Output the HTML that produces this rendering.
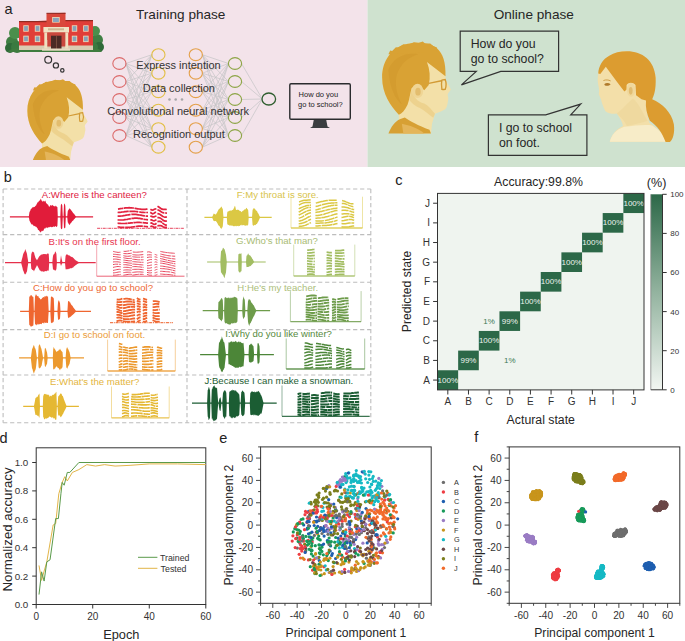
<!DOCTYPE html>
<html><head><meta charset="utf-8"><style>
html,body{margin:0;padding:0;background:#fff;width:685px;height:641px;overflow:hidden}
svg{display:block;font-family:"Liberation Sans",sans-serif}
</style></head><body>
<svg width="685" height="641" viewBox="0 0 685 641">
<rect width="685" height="641" fill="#fff"/>
<rect x="0" y="0" width="367.5" height="167" fill="#f3e3ea"/><rect x="367.5" y="0" width="317.5" height="167" fill="#cfe2cf"/><text x="4.4" y="13.7" font-family="Liberation Sans" font-size="14.5" fill="#222">a</text><text x="136" y="19.3" font-family="Liberation Sans" font-size="13.6" fill="#262626">Training phase</text><text x="493.7" y="18.7" font-family="Liberation Sans" font-size="13.6" fill="#262626">Online phase</text><circle cx="12" cy="42" r="6" fill="#3f7f43"/><circle cx="15" cy="33" r="6" fill="#4a8f4c"/><circle cx="10" cy="48" r="5" fill="#2f6a38"/><circle cx="17" cy="47" r="6" fill="#3a7a40"/><circle cx="97" cy="40" r="6" fill="#3f7f43"/><circle cx="95" cy="31" r="5" fill="#4a8f4c"/><circle cx="99" cy="47" r="5" fill="#2f6a38"/><circle cx="93" cy="47" r="5" fill="#3a7a40"/><path d="M8 52 Q10 48 20 48 L92 48 Q100 48 102 52 Z" fill="#3e7c3e"/><path d="M19 22 L47 20.5 L47 49.5 L19 49.5 Z" fill="#e03e38"/><path d="M65 20 L93 21 L93 49.5 L65 49.5 Z" fill="#e03e38"/><rect x="19" y="21" width="28" height="1.2" fill="#8f2a22"/><rect x="65" y="20" width="28" height="1.2" fill="#8f2a22"/><path d="M46.5 13.5 L65.5 12.8 L65.5 40 L46.5 40 Z" fill="#d9473b"/><rect x="46.5" y="12.8" width="19" height="1.1" fill="#8f2a22"/><rect x="52.2" y="17" width="7.5" height="5.6" fill="#f1dcb8"/><rect x="53" y="17.8" width="5.9" height="4.2" fill="#88a4bb"/><rect x="23.3" y="25.3" width="5.4" height="6.4" fill="#f1dcb8"/><rect x="24.1" y="26.1" width="3.8" height="4.8" fill="#86a2b8"/><rect x="23.3" y="35.7" width="5.4" height="6.4" fill="#f1dcb8"/><rect x="24.1" y="36.5" width="3.8" height="4.8" fill="#86a2b8"/><rect x="34.8" y="25.3" width="5.4" height="6.4" fill="#f1dcb8"/><rect x="35.599999999999994" y="26.1" width="3.8" height="4.8" fill="#86a2b8"/><rect x="34.8" y="35.7" width="5.4" height="6.4" fill="#f1dcb8"/><rect x="35.599999999999994" y="36.5" width="3.8" height="4.8" fill="#86a2b8"/><rect x="71.8" y="25.3" width="5.4" height="6.4" fill="#f1dcb8"/><rect x="72.6" y="26.1" width="3.8" height="4.8" fill="#86a2b8"/><rect x="71.8" y="35.7" width="5.4" height="6.4" fill="#f1dcb8"/><rect x="72.6" y="36.5" width="3.8" height="4.8" fill="#86a2b8"/><rect x="83.2" y="25.3" width="5.4" height="6.4" fill="#f1dcb8"/><rect x="84.0" y="26.1" width="3.8" height="4.8" fill="#86a2b8"/><rect x="83.2" y="35.7" width="5.4" height="6.4" fill="#f1dcb8"/><rect x="84.0" y="36.5" width="3.8" height="4.8" fill="#86a2b8"/><rect x="19" y="45.5" width="74" height="4.5" fill="#d9cbb2"/><rect x="43.4" y="27" width="25.6" height="5.5" fill="#f0e2c4"/><rect x="48" y="28.3" width="16" height="2" fill="#b89a70" opacity="0.6"/><rect x="44.3" y="32.5" width="3" height="16" fill="#efe0c0"/><rect x="65.2" y="32.5" width="3" height="16" fill="#efe0c0"/><rect x="47.3" y="32.5" width="17.9" height="14" fill="#c9483d"/><rect x="51" y="35.7" width="10.5" height="13.3" fill="#4b2a25"/><rect x="56" y="35.7" width="0.7" height="13.3" fill="#8a5a48"/><rect x="42" y="48.5" width="28" height="2.2" fill="#e8dcc4"/><circle cx="48.2" cy="59.8" r="3.4" fill="none" stroke="#333" stroke-width="1.2"/><circle cx="55.9" cy="65.4" r="2.6" fill="none" stroke="#333" stroke-width="1.2"/><circle cx="62.3" cy="70.4" r="1.7" fill="none" stroke="#333" stroke-width="1.2"/><g transform="translate(25,78) scale(0.13106)"><path fill="#f3e0a8" d="M130 500 C75 440 18 360 18 250 C18 140 80 55 170 30 C240 10 330 12 385 55 C425 90 440 150 440 230 L445 270 C455 290 470 310 478 332 C470 345 458 352 456 368 C462 385 462 400 458 410 C455 430 452 450 440 462 C420 476 395 482 372 492 L352 560 L345 625 L130 625 Z"/><path fill="#ebcd85" opacity="0.75" d="M215 330 C230 380 250 410 300 425 C330 440 350 470 372 492 L360 520 C330 500 300 470 270 455 C240 440 215 420 200 400 Z"/><path fill="#d9a234" d="M130 500 C75 440 18 360 18 250 C18 140 80 55 170 30 C240 10 330 12 385 55 C425 90 445 150 442 242 L318 147 C338 200 342 250 330 300 L300 335 C275 305 235 300 215 322 C205 360 200 400 188 432 C170 470 150 492 130 500 Z"/><path fill="#cf9529" opacity="0.5" d="M60 200 C90 120 170 80 260 95 C200 110 150 150 120 220 C100 280 110 360 150 430 C110 400 70 330 60 200 Z"/><path fill="#d9a234" d="M60 95 L72 70 L85 72 L110 48 L128 50 L160 28 L190 32 L230 14 L262 20 L290 10 L305 22 L340 22 L360 40 L385 50 L380 80 L300 80 L150 90 Z"/><ellipse cx="255" cy="340" rx="38" ry="48" fill="#efd595"/><ellipse cx="258" cy="345" rx="18" ry="26" fill="#e3bd6e"/><path fill="#d7a034" d="M60 625 C80 580 100 545 140 528 L170 518 C200 540 260 572 335 600 L345 625 Z"/><path fill="#e4b55a" d="M150 560 C200 570 260 590 300 625 L160 625 Z"/><path fill="none" stroke="#d29a35" stroke-width="9" d="M330 290 L415 272 M415 268 L440 264 C448 285 448 310 440 330 C430 332 425 330 418 330 C414 305 414 285 418 268"/></g><g transform="translate(379.436,40.12) scale(0.14941)"><path fill="#f3e0a8" d="M130 500 C75 440 18 360 18 250 C18 140 80 55 170 30 C240 10 330 12 385 55 C425 90 440 150 440 230 L445 270 C455 290 470 310 478 332 C470 345 458 352 456 368 C462 385 462 400 458 410 C455 430 452 450 440 462 C420 476 395 482 372 492 L352 560 L345 625 L130 625 Z"/><path fill="#ebcd85" opacity="0.75" d="M215 330 C230 380 250 410 300 425 C330 440 350 470 372 492 L360 520 C330 500 300 470 270 455 C240 440 215 420 200 400 Z"/><path fill="#d9a234" d="M130 500 C75 440 18 360 18 250 C18 140 80 55 170 30 C240 10 330 12 385 55 C425 90 445 150 442 242 L318 147 C338 200 342 250 330 300 L300 335 C275 305 235 300 215 322 C205 360 200 400 188 432 C170 470 150 492 130 500 Z"/><path fill="#cf9529" opacity="0.5" d="M60 200 C90 120 170 80 260 95 C200 110 150 150 120 220 C100 280 110 360 150 430 C110 400 70 330 60 200 Z"/><path fill="#d9a234" d="M60 95 L72 70 L85 72 L110 48 L128 50 L160 28 L190 32 L230 14 L262 20 L290 10 L305 22 L340 22 L360 40 L385 50 L380 80 L300 80 L150 90 Z"/><ellipse cx="255" cy="340" rx="38" ry="48" fill="#efd595"/><ellipse cx="258" cy="345" rx="18" ry="26" fill="#e3bd6e"/><path fill="#d7a034" d="M60 625 C80 580 100 545 140 528 L170 518 C200 540 260 572 335 600 L345 625 Z"/><path fill="#e4b55a" d="M150 560 C200 570 260 590 300 625 L160 625 Z"/><path fill="none" stroke="#d29a35" stroke-width="9" d="M330 290 L415 272 M415 268 L440 264 C448 285 448 310 440 330 C430 332 425 330 418 330 C414 305 414 285 418 268"/></g><g transform="translate(590,40) scale(0.17182)"><path fill="#f3dfa9" d="M48 195 C44 215 44 240 47 255 C52 280 56 300 51 315 C58 335 66 345 67 358 C72 375 80 395 90 415 C110 430 140 432 156 428 C175 455 190 480 192 500 C150 522 125 552 115 592 L470 592 C440 560 400 520 345 482 C332 440 326 400 332 360 L385 220 C360 120 300 70 210 66 C130 66 70 110 48 195 Z"/><path fill="#ebd293" d="M156 428 C190 400 225 360 250 340 C285 370 305 420 335 470 C300 482 260 492 215 500 C200 470 180 450 156 428 Z" opacity="0.45"/><path fill="#f7ecc8" d="M115 592 C125 552 150 522 200 505 C260 498 320 490 362 497 C400 522 440 560 470 592 Z"/><path fill="#dc9c30" d="M48 195 C50 150 75 110 112 91 C140 75 175 66 215 66 C305 66 375 120 382 220 C385 290 372 325 362 345 C420 370 475 420 488 490 C495 540 482 580 465 594 L440 594 C420 540 392 500 348 470 C330 430 322 390 326 352 L300 345 L268 322 L265 262 C250 244 225 244 213 262 L212 290 L200 300 L162 250 L92 155 L60 198 Z"/><ellipse cx="239" cy="290" rx="25" ry="40" fill="#f0d89c"/><ellipse cx="237" cy="296" rx="11" ry="22" fill="#e1bd72"/><path d="M84 256 C95 248 110 250 120 258 C110 268 95 270 84 262 Z" fill="#b07a2a"/><path d="M78 236 C92 230 108 232 120 238" stroke="#c9953a" stroke-width="5" fill="none"/></g><path d="M125.9 63.5L151.9 54.7M125.9 63.5L151.9 73.2M125.9 63.5L151.9 91.7M125.9 63.5L151.9 110.2M125.9 63.5L151.9 128.7M125.9 63.5L151.9 147.2M125.9 81.5L151.9 54.7M125.9 81.5L151.9 73.2M125.9 81.5L151.9 91.7M125.9 81.5L151.9 110.2M125.9 81.5L151.9 128.7M125.9 81.5L151.9 147.2M125.9 99.5L151.9 54.7M125.9 99.5L151.9 73.2M125.9 99.5L151.9 91.7M125.9 99.5L151.9 110.2M125.9 99.5L151.9 128.7M125.9 99.5L151.9 147.2M125.9 117.5L151.9 54.7M125.9 117.5L151.9 73.2M125.9 117.5L151.9 91.7M125.9 117.5L151.9 110.2M125.9 117.5L151.9 128.7M125.9 117.5L151.9 147.2M125.9 135.5L151.9 54.7M125.9 135.5L151.9 73.2M125.9 135.5L151.9 91.7M125.9 135.5L151.9 110.2M125.9 135.5L151.9 128.7M125.9 135.5L151.9 147.2M202.3 54.7L228.5 63.5M202.3 54.7L228.5 81.5M202.3 54.7L228.5 99.5M202.3 54.7L228.5 117.5M202.3 54.7L228.5 135.5M202.3 73.2L228.5 63.5M202.3 73.2L228.5 81.5M202.3 73.2L228.5 99.5M202.3 73.2L228.5 117.5M202.3 73.2L228.5 135.5M202.3 91.7L228.5 63.5M202.3 91.7L228.5 81.5M202.3 91.7L228.5 99.5M202.3 91.7L228.5 117.5M202.3 91.7L228.5 135.5M202.3 110.2L228.5 63.5M202.3 110.2L228.5 81.5M202.3 110.2L228.5 99.5M202.3 110.2L228.5 117.5M202.3 110.2L228.5 135.5M202.3 128.7L228.5 63.5M202.3 128.7L228.5 81.5M202.3 128.7L228.5 99.5M202.3 128.7L228.5 117.5M202.3 128.7L228.5 135.5M202.3 147.2L228.5 63.5M202.3 147.2L228.5 81.5M202.3 147.2L228.5 99.5M202.3 147.2L228.5 117.5M202.3 147.2L228.5 135.5M241.5 63.5L262.3 99M241.5 81.5L262.3 99M241.5 99.5L262.3 99M241.5 117.5L262.3 99M241.5 135.5L262.3 99" stroke="#c4c4c6" stroke-width="0.7" fill="none"/><ellipse cx="119.4" cy="63.5" rx="6.6" ry="5.9" fill="none" stroke="#dc6b6b" stroke-width="1.1"/><ellipse cx="235" cy="63.5" rx="6.6" ry="5.9" fill="none" stroke="#8da545" stroke-width="1.1"/><ellipse cx="119.4" cy="81.5" rx="6.6" ry="5.9" fill="none" stroke="#dc6b6b" stroke-width="1.1"/><ellipse cx="235" cy="81.5" rx="6.6" ry="5.9" fill="none" stroke="#8da545" stroke-width="1.1"/><ellipse cx="119.4" cy="99.5" rx="6.6" ry="5.9" fill="none" stroke="#dc6b6b" stroke-width="1.1"/><ellipse cx="235" cy="99.5" rx="6.6" ry="5.9" fill="none" stroke="#8da545" stroke-width="1.1"/><ellipse cx="119.4" cy="117.5" rx="6.6" ry="5.9" fill="none" stroke="#dc6b6b" stroke-width="1.1"/><ellipse cx="235" cy="117.5" rx="6.6" ry="5.9" fill="none" stroke="#8da545" stroke-width="1.1"/><ellipse cx="119.4" cy="135.5" rx="6.6" ry="5.9" fill="none" stroke="#dc6b6b" stroke-width="1.1"/><ellipse cx="235" cy="135.5" rx="6.6" ry="5.9" fill="none" stroke="#8da545" stroke-width="1.1"/><ellipse cx="158.4" cy="54.7" rx="6.6" ry="5.9" fill="none" stroke="#e2bf46" stroke-width="1.1"/><ellipse cx="195.8" cy="54.7" rx="6.6" ry="5.9" fill="none" stroke="#e4a04a" stroke-width="1.1"/><ellipse cx="158.4" cy="73.2" rx="6.6" ry="5.9" fill="none" stroke="#e2bf46" stroke-width="1.1"/><ellipse cx="195.8" cy="73.2" rx="6.6" ry="5.9" fill="none" stroke="#e4a04a" stroke-width="1.1"/><ellipse cx="158.4" cy="91.7" rx="6.6" ry="5.9" fill="none" stroke="#e2bf46" stroke-width="1.1"/><ellipse cx="195.8" cy="91.7" rx="6.6" ry="5.9" fill="none" stroke="#e4a04a" stroke-width="1.1"/><ellipse cx="158.4" cy="110.2" rx="6.6" ry="5.9" fill="none" stroke="#e2bf46" stroke-width="1.1"/><ellipse cx="195.8" cy="110.2" rx="6.6" ry="5.9" fill="none" stroke="#e4a04a" stroke-width="1.1"/><ellipse cx="158.4" cy="128.7" rx="6.6" ry="5.9" fill="none" stroke="#e2bf46" stroke-width="1.1"/><ellipse cx="195.8" cy="128.7" rx="6.6" ry="5.9" fill="none" stroke="#e4a04a" stroke-width="1.1"/><ellipse cx="158.4" cy="147.2" rx="6.6" ry="5.9" fill="none" stroke="#e2bf46" stroke-width="1.1"/><ellipse cx="195.8" cy="147.2" rx="6.6" ry="5.9" fill="none" stroke="#e4a04a" stroke-width="1.1"/><ellipse cx="268.8" cy="99" rx="6.8" ry="6" fill="none" stroke="#2f5e2f" stroke-width="1.3"/><circle cx="169.5" cy="99.5" r="1.3" fill="#a6a6a8"/><circle cx="175.7" cy="99.5" r="1.3" fill="#a6a6a8"/><circle cx="182" cy="99.5" r="1.3" fill="#a6a6a8"/><text x="178.5" y="69.2" font-family="Liberation Sans" font-size="11" fill="#333" text-anchor="middle">Express intention</text><text x="178.9" y="92" font-family="Liberation Sans" font-size="11" fill="#333" text-anchor="middle">Data collection</text><text x="178.2" y="115" font-family="Liberation Sans" font-size="11" fill="#333" text-anchor="middle">Convolutional neural network</text><text x="178.9" y="137.6" font-family="Liberation Sans" font-size="11" fill="#333" text-anchor="middle">Recognition output</text><path d="M313.9 119.3 L326.1 119.3 L327.5 126.5 L330 128 L310 128 L312.5 126.5 Z" fill="#3a3d40"/><rect x="289.8" y="83.7" width="60.5" height="35.5" rx="1.2" fill="none" stroke="#2a2c2e" stroke-width="1.4"/><text x="298.6" y="97" font-family="Liberation Sans" font-size="7.5" fill="#222">How do you</text><text x="298.1" y="106.8" font-family="Liberation Sans" font-size="7.5" fill="#222">go to school?</text><path d="M460.2 31.1 L558.6 31.1 L558.6 71.4 L500.8 71.4 L461.4 84.9 L476.3 71.4 L460.2 71.4 Z" fill="none" stroke="#333" stroke-width="1.2" stroke-linejoin="miter"/><path d="M488.4 114.8 L545.7 114.8 L580.7 104.1 L570.7 114.8 L586.9 114.8 L586.9 155.4 L488.4 155.4 Z" fill="none" stroke="#333" stroke-width="1.2"/><text x="470.7" y="47.8" font-family="Liberation Sans" font-size="12.3" fill="#262626">How do you</text><text x="470.7" y="62.7" font-family="Liberation Sans" font-size="12.3" fill="#262626">go to school?</text><text x="498.9" y="132.3" font-family="Liberation Sans" font-size="12.3" fill="#262626">I go to school</text><text x="498.9" y="147" font-family="Liberation Sans" font-size="12.3" fill="#262626">on foot.</text><text x="3.7" y="182" font-family="Liberation Sans" font-size="14.5" fill="#222">b</text><path d="M3.1 189H370.8" stroke="#bdbdbd" stroke-width="1.1" stroke-dasharray="4.2 2.8" fill="none"/><path d="M3.1 234.6H370.8" stroke="#bdbdbd" stroke-width="1.1" stroke-dasharray="4.2 2.8" fill="none"/><path d="M3.1 282.3H370.8" stroke="#bdbdbd" stroke-width="1.1" stroke-dasharray="4.2 2.8" fill="none"/><path d="M3.1 329.6H370.8" stroke="#bdbdbd" stroke-width="1.1" stroke-dasharray="4.2 2.8" fill="none"/><path d="M3.1 375H370.8" stroke="#bdbdbd" stroke-width="1.1" stroke-dasharray="4.2 2.8" fill="none"/><path d="M3.1 422.8H370.8" stroke="#bdbdbd" stroke-width="1.1" stroke-dasharray="4.2 2.8" fill="none"/><path d="M3.1 189V422.8" stroke="#bdbdbd" stroke-width="1.1" stroke-dasharray="4.2 2.8" fill="none"/><path d="M187 189V422.8" stroke="#bdbdbd" stroke-width="1.1" stroke-dasharray="4.2 2.8" fill="none"/><path d="M370.8 189V422.8" stroke="#bdbdbd" stroke-width="1.1" stroke-dasharray="4.2 2.8" fill="none"/><text x="94.3" y="198" font-family="Liberation Sans" font-size="9.6" fill="#e0213f" text-anchor="middle">A:Where is the canteen?</text><path d="M9.9 216.8H93.1" stroke="#e11c3a" stroke-width="1.2"/><polygon points="28.80,216.80 29.15,214.37 29.50,211.88 29.98,211.33 30.45,210.35 30.92,208.74 31.40,208.64 31.84,208.36 32.28,207.27 32.72,207.40 33.16,207.45 33.60,207.07 34.04,206.67 34.48,206.91 34.92,206.86 35.36,205.83 35.80,205.75 36.22,205.17 36.65,203.94 37.08,203.54 37.50,202.04 37.94,202.84 38.39,201.73 38.83,201.35 39.27,201.09 39.71,200.13 40.16,200.33 40.60,198.67 41.04,198.91 41.48,200.76 41.92,200.45 42.36,201.17 42.80,201.89 43.23,200.38 43.67,201.24 44.10,201.77 44.53,200.79 44.97,201.67 45.40,200.37 45.84,202.28 46.27,203.23 46.71,203.57 47.15,203.98 47.59,204.45 48.02,204.50 48.46,205.46 48.90,206.57 49.33,206.77 49.77,206.38 50.20,205.07 50.63,205.55 51.07,205.02 51.50,205.68 51.91,205.81 52.32,204.79 52.72,205.25 53.13,205.72 53.54,205.81 53.95,206.21 54.35,206.20 54.76,206.49 55.17,205.54 55.58,206.12 55.98,206.64 56.39,205.98 56.80,206.75 57.10,207.16 57.40,206.77 57.60,211.61 57.80,216.80 57.80,216.80 57.60,221.62 57.40,225.63 57.10,226.44 56.80,226.77 56.39,226.91 55.98,226.52 55.58,226.05 55.17,226.15 54.76,227.15 54.35,226.61 53.95,226.58 53.54,226.43 53.13,226.77 52.72,227.19 52.32,226.87 51.91,227.32 51.50,227.29 51.07,226.78 50.63,226.72 50.20,226.99 49.77,227.50 49.33,226.86 48.90,227.42 48.46,227.08 48.02,227.78 47.59,228.17 47.15,227.21 46.71,227.68 46.27,227.62 45.84,227.57 45.40,228.80 44.97,228.09 44.53,228.77 44.10,228.71 43.67,230.22 43.23,230.87 42.80,231.14 42.36,230.85 41.92,230.62 41.48,231.73 41.04,231.17 40.60,232.86 40.16,232.08 39.71,231.42 39.27,230.87 38.83,230.19 38.39,229.99 37.94,229.64 37.50,228.28 37.08,228.06 36.65,227.17 36.22,226.70 35.80,227.11 35.36,226.33 34.92,226.20 34.48,225.83 34.04,226.19 33.60,225.94 33.16,224.94 32.72,224.73 32.28,224.37 31.84,224.68 31.40,224.08 30.92,223.50 30.45,222.43 29.98,221.52 29.50,220.85 29.15,218.85 28.80,216.80" fill="#e11c3a"/><polygon points="60.30,216.80 60.55,210.85 60.80,205.50 61.15,204.06 61.50,203.82 61.90,204.58 62.30,205.53 62.55,211.49 62.80,216.80 62.80,216.80 62.55,222.29 62.30,228.27 61.90,228.94 61.50,229.13 61.15,228.79 60.80,227.99 60.55,222.22 60.30,216.80" fill="#e11c3a"/><polygon points="63.50,216.80 63.75,210.40 64.00,204.66 64.35,203.49 64.70,203.68 65.00,204.63 65.30,205.65 65.55,211.32 65.80,216.80 65.80,216.80 65.55,222.40 65.30,228.01 65.00,227.62 64.70,227.88 64.35,228.40 64.00,227.90 63.75,222.20 63.50,216.80" fill="#e11c3a"/><polygon points="67.20,216.80 67.50,213.78 67.80,211.07 68.22,210.13 68.65,209.70 69.08,208.65 69.50,208.32 69.92,209.07 70.33,208.94 70.75,209.66 71.17,210.17 71.58,210.85 72.00,211.26 72.42,211.97 72.83,212.41 73.25,213.15 73.67,213.44 74.08,213.86 74.50,214.42 75.03,215.19 75.57,216.02 76.10,216.80 76.10,216.80 75.57,217.58 75.03,218.28 74.50,218.91 74.08,219.29 73.67,219.75 73.25,220.44 72.83,220.72 72.42,220.95 72.00,221.56 71.58,222.15 71.17,222.64 70.75,223.37 70.33,223.55 69.92,224.74 69.50,224.93 69.08,224.35 68.65,223.88 68.22,222.87 67.80,222.48 67.50,219.81 67.20,216.80" fill="#e11c3a"/><path d="M97.1 228.3H183.8" stroke="#e2223f" stroke-width="1.0" fill="none" opacity="0.85" stroke-dasharray="3 0.8 1 0.8"/><path d="M117.6 226.9L118.8 227.0L120.0 227.2L121.2 227.3L122.5 227.3L123.7 227.3L124.9 227.3L126.1 227.3L127.3 227.3L128.5 227.3L129.8 227.3L131.0 227.2L132.2 227.0L133.4 226.8L134.6 226.7L135.8 226.5L137.1 226.3L138.3 226.2L139.5 226.2L140.7 226.1L141.9 226.2L143.1 226.2L144.4 226.3L145.6 226.5L146.8 226.7L148.0 226.9" stroke="#e2223f" stroke-width="1.7" fill="none" stroke-dasharray="6.9 0.7 9.9 0.5 7.3 0.8 11.9 0.6 8.6 0.7"/><path d="M117.6 223.2L118.8 223.3L120.0 223.4L121.2 223.5L122.5 223.5L123.7 223.5L124.9 223.5L126.1 223.4L127.3 223.3L128.5 223.2L129.8 223.1L131.0 222.9L132.2 222.8L133.4 222.7L134.6 222.6L135.8 222.5L137.1 222.4L138.3 222.4L139.5 222.4L140.7 222.5L141.9 222.6L143.1 222.7L144.4 222.8L145.6 222.9L146.8 223.1L148.0 223.2" stroke="#e2223f" stroke-width="1.7" fill="none" stroke-dasharray="9.6 0.3 5.5 0.4 8.5 0.7 10.5 0.3 5.4 0.6"/><path d="M117.6 219.9L118.8 220.0L120.0 220.0L121.2 220.0L122.5 220.0L123.7 219.9L124.9 219.7L126.1 219.5L127.3 219.3L128.5 219.0L129.8 218.8L131.0 218.6L132.2 218.4L133.4 218.3L134.6 218.2L135.8 218.1L137.1 218.2L138.3 218.3L139.5 218.4L140.7 218.6L141.9 218.8L143.1 219.0L144.4 219.3L145.6 219.5L146.8 219.7L148.0 219.9" stroke="#e2223f" stroke-width="1.7" fill="none" stroke-dasharray="13.4 0.5 11.7 0.5 6.4 0.6 5.8 0.7"/><path d="M117.6 216.2L118.8 216.2L120.0 216.2L121.2 216.0L122.5 215.9L123.7 215.7L124.9 215.5L126.1 215.2L127.3 215.0L128.5 214.8L129.8 214.6L131.0 214.4L132.2 214.3L133.4 214.3L134.6 214.3L135.8 214.4L137.1 214.6L138.3 214.8L139.5 215.0L140.7 215.2L141.9 215.4L143.1 215.7L144.4 215.9L145.6 216.0L146.8 216.2L148.0 216.2" stroke="#e2223f" stroke-width="1.7" fill="none" stroke-dasharray="13.1 0.8 13.7 0.7 11.1 0.5"/><path d="M117.6 212.5L118.8 212.4L120.0 212.3L121.2 212.2L122.5 212.0L123.7 211.9L124.9 211.7L126.1 211.6L127.3 211.4L128.5 211.3L129.8 211.3L131.0 211.3L132.2 211.3L133.4 211.3L134.6 211.4L135.8 211.5L137.1 211.7L138.3 211.9L139.5 212.0L140.7 212.2L141.9 212.3L143.1 212.4L144.4 212.5L145.6 212.5L146.8 212.5L148.0 212.5" stroke="#e2223f" stroke-width="1.7" fill="none" stroke-dasharray="11.2 0.6 9.0 0.9 6.5 0.6 6.4 0.9 9.4 0.5"/><path d="M118.0 209.1L119.2 208.9L120.4 208.7L121.7 208.5L122.9 208.3L124.2 208.1L125.4 207.9L126.6 207.8L127.9 207.8L129.1 207.7L130.4 207.8L131.6 207.9L132.9 208.0L134.1 208.2L135.3 208.4L136.6 208.6L137.8 208.8L139.1 209.0L140.3 209.1L141.6 209.3L142.8 209.3L144.0 209.3L145.3 209.3L146.5 209.2L147.8 209.1" stroke="#e2223f" stroke-width="1.7" fill="none" stroke-dasharray="5.3 0.5 10.2 0.6 13.1 0.8 13.4 0.8"/><path d="M150.3 226.8L151.5 226.2L152.8 226.6L154.0 227.3L155.3 227.3L156.5 226.8" stroke="#e2223f" stroke-width="1.7" fill="none" stroke-dasharray="12.2 0.4"/><path d="M150.3 223.2L151.5 222.9L152.8 223.7L154.0 224.3L155.3 224.1L156.5 223.2" stroke="#e2223f" stroke-width="1.7" fill="none" stroke-dasharray="8.3 0.7"/><path d="M150.3 219.8L151.5 219.9L152.8 220.5L154.0 220.8L155.3 220.3L156.5 219.8" stroke="#e2223f" stroke-width="1.7" fill="none" stroke-dasharray="12.8 0.5"/><path d="M150.3 216.0L151.5 216.4L152.8 216.9L154.0 216.9L155.3 216.3L156.5 216.0" stroke="#e2223f" stroke-width="1.7" fill="none" stroke-dasharray="7.0 0.3 6.1 0.5"/><path d="M150.3 212.3L151.5 213.2L152.8 213.8L154.0 213.3L155.3 212.4L156.5 212.3" stroke="#e2223f" stroke-width="1.7" fill="none" stroke-dasharray="6.7 0.6 5.0 0.5"/><path d="M150.4 209.2L151.6 210.0L152.8 210.1L154.0 209.4L155.2 208.8L156.4 209.2" stroke="#e2223f" stroke-width="1.7" fill="none" stroke-dasharray="10.6 0.7"/><path d="M157.4 225.9L158.8 225.7L160.1 225.5L161.5 225.8L162.9 226.8L164.3 227.3L165.6 227.3L167.0 227.3" stroke="#e2223f" stroke-width="1.7" fill="none" stroke-dasharray="13.0 0.7"/><path d="M157.4 221.7L158.8 221.4L160.1 221.4L161.5 222.0L162.9 223.3L164.3 224.4L165.6 225.1L167.0 225.0" stroke="#e2223f" stroke-width="1.7" fill="none" stroke-dasharray="5.1 0.4 8.7 0.7"/><path d="M157.4 217.7L158.8 217.6L160.1 218.0L161.5 218.9L162.9 220.1L164.3 220.9L165.6 221.2L167.0 221.0" stroke="#e2223f" stroke-width="1.7" fill="none" stroke-dasharray="11.1 0.3 7.2 0.7"/><path d="M157.4 213.6L158.8 213.8L160.1 214.5L161.5 215.5L162.9 216.5L164.3 217.1L165.6 217.1L167.0 217.0" stroke="#e2223f" stroke-width="1.7" fill="none" stroke-dasharray="7.5 0.3 7.2 0.3"/><path d="M157.4 209.7L158.8 210.2L160.1 211.0L161.5 212.0L162.9 212.7L164.3 213.0L165.6 213.0L167.0 213.1" stroke="#e2223f" stroke-width="1.7" fill="none" stroke-dasharray="7.8 0.7 7.8 0.5"/><path d="M157.5 206.2L158.8 207.0L160.2 208.0L161.5 208.9L162.8 209.4L164.2 209.4L165.5 209.3L166.8 209.5" stroke="#e2223f" stroke-width="1.7" fill="none" stroke-dasharray="13.2 0.5"/><text x="94.6" y="245" font-family="Liberation Sans" font-size="9.6" fill="#e8364f" text-anchor="middle">B:It&#39;s on the first floor.</text><path d="M5 262.6H95.7" stroke="#e5304b" stroke-width="1.2"/><polygon points="21.10,262.60 21.58,260.59 22.05,258.85 22.52,256.92 23.00,254.71 23.44,253.51 23.88,252.59 24.32,252.05 24.76,250.99 25.20,249.04 25.65,250.26 26.10,251.16 26.55,252.46 27.00,253.98 27.43,257.05 27.87,259.56 28.30,262.60 28.30,262.60 27.87,265.42 27.43,267.99 27.00,271.40 26.55,271.89 26.10,273.44 25.65,273.66 25.20,274.58 24.76,274.27 24.32,273.41 23.88,272.18 23.44,271.00 23.00,270.16 22.52,268.11 22.05,266.29 21.58,264.51 21.10,262.60" fill="#e5304b"/><polygon points="30.80,262.60 31.05,258.05 31.30,254.26 31.85,252.54 32.40,251.30 32.80,252.27 33.20,251.76 33.60,252.47 34.00,252.35 34.50,254.87 35.00,256.24 35.50,258.04 36.00,258.66 36.50,259.46 37.00,260.27 37.42,259.61 37.83,258.82 38.25,258.16 38.67,257.13 39.08,256.67 39.50,255.94 39.92,255.86 40.34,255.60 40.76,254.73 41.18,255.04 41.60,254.26 42.01,254.46 42.42,254.04 42.83,254.78 43.24,253.97 43.65,254.09 44.06,254.23 44.47,254.04 44.88,253.98 45.29,254.20 45.70,253.96 46.13,254.30 46.56,254.45 46.99,253.70 47.41,253.84 47.84,253.31 48.27,253.92 48.70,253.25 48.95,257.84 49.20,262.60 49.20,262.60 48.95,266.79 48.70,271.05 48.27,270.46 47.84,270.30 47.41,270.79 46.99,270.64 46.56,271.25 46.13,271.21 45.70,271.12 45.29,270.90 44.88,271.65 44.47,270.99 44.06,271.82 43.65,271.64 43.24,271.61 42.83,271.91 42.42,271.11 42.01,271.12 41.60,271.18 41.18,271.73 40.76,270.89 40.34,270.58 39.92,270.48 39.50,269.93 39.08,269.09 38.67,268.21 38.25,267.43 37.83,266.52 37.42,265.89 37.00,265.00 36.50,266.17 36.00,267.18 35.50,268.04 35.00,269.17 34.50,269.97 34.00,271.54 33.60,270.38 33.20,270.26 32.80,269.99 32.40,269.97 31.85,269.36 31.30,268.82 31.05,265.71 30.80,262.60" fill="#e5304b"/><polygon points="52.30,262.60 52.65,259.10 53.00,256.05 53.48,254.60 53.96,254.19 54.44,253.63 54.92,252.32 55.40,251.34 55.90,252.46 56.40,253.72 56.65,258.49 56.90,262.60 56.90,262.60 56.65,265.89 56.40,268.94 55.90,270.16 55.40,270.53 54.92,270.65 54.44,269.67 53.96,269.94 53.48,269.39 53.00,269.44 52.65,265.90 52.30,262.60" fill="#e5304b"/><polygon points="60.00,262.60 60.50,259.06 61.00,255.23 61.50,258.17 62.00,260.38 62.50,262.60 62.50,262.60 62.00,263.74 61.50,264.79 61.00,265.96 60.50,264.36 60.00,262.60" fill="#e5304b"/><polygon points="65.00,262.60 65.30,259.21 65.60,256.10 66.10,254.67 66.60,254.31 67.00,254.71 67.40,254.69 67.80,254.37 68.20,255.30 68.60,255.41 69.00,255.08 69.40,255.79 69.80,255.62 70.20,256.47 70.60,256.05 71.00,256.75 71.40,257.01 71.80,256.85 72.20,256.93 72.62,257.32 73.04,257.82 73.47,258.11 73.89,258.45 74.31,259.01 74.73,259.53 75.16,259.64 75.58,260.15 76.00,260.52 76.42,260.74 76.85,261.09 77.28,261.35 77.70,261.57 78.12,261.79 78.55,262.05 78.98,262.32 79.40,262.60 79.40,262.60 78.98,262.89 78.55,263.18 78.12,263.50 77.70,263.84 77.28,264.11 76.85,264.36 76.42,264.65 76.00,264.91 75.58,265.26 75.16,265.60 74.73,265.92 74.31,266.19 73.89,266.53 73.47,267.29 73.04,267.45 72.62,267.69 72.20,267.85 71.80,268.31 71.40,268.18 71.00,268.26 70.60,268.33 70.20,268.30 69.80,268.67 69.40,268.87 69.00,268.56 68.60,269.01 68.20,269.37 67.80,269.02 67.40,269.57 67.00,269.12 66.60,269.24 66.10,269.40 65.60,269.26 65.30,265.89 65.00,262.60" fill="#e5304b"/><path d="M96.7 276.2H184.5" stroke="#e8485f" stroke-width="1.0" fill="none" opacity="0.85"/><path d="M96.7 276.2V244.5" stroke="#e8485f" stroke-width="0.8" fill="none" opacity="0.6"/><path d="M113.0 275.2L114.3 275.2L115.6 275.2L116.8 275.0L118.1 274.8L119.4 274.6L120.7 274.4" stroke="#e8485f" stroke-width="1.0" fill="none" stroke-dasharray="6.8 0.3 5.6 0.6"/><path d="M113.0 272.9L114.3 272.8L115.6 272.6L116.8 272.4L118.1 272.1L119.4 271.9L120.7 271.9" stroke="#e8485f" stroke-width="1.0" fill="none" stroke-dasharray="11.2 0.6"/><path d="M113.0 270.4L114.3 270.2L115.6 269.9L116.8 269.6L118.1 269.4L119.4 269.3L120.7 269.4" stroke="#e8485f" stroke-width="1.0" fill="none" stroke-dasharray="10.1 0.6"/><path d="M113.0 267.4L114.3 267.1L115.6 266.8L116.8 266.6L118.1 266.5L119.4 266.6L120.7 266.8" stroke="#e8485f" stroke-width="1.0" fill="none" stroke-dasharray="11.3 0.4"/><path d="M113.0 264.6L114.3 264.4L115.6 264.2L116.8 264.2L118.1 264.2L119.4 264.3L120.7 264.5" stroke="#e8485f" stroke-width="1.0" fill="none" stroke-dasharray="5.1 0.8 11.5 0.8"/><path d="M113.0 262.0L114.3 261.8L115.6 261.8L116.8 261.8L118.1 261.9L119.4 262.1L120.7 262.4" stroke="#e8485f" stroke-width="1.0" fill="none" stroke-dasharray="12.6 0.8"/><path d="M113.0 259.2L114.3 259.1L115.6 259.1L116.8 259.2L118.1 259.4L119.4 259.6L120.7 259.8" stroke="#e8485f" stroke-width="1.0" fill="none" stroke-dasharray="9.8 0.4"/><path d="M113.0 256.5L114.3 256.5L115.6 256.7L116.8 256.9L118.1 257.1L119.4 257.3L120.7 257.4" stroke="#e8485f" stroke-width="1.0" fill="none" stroke-dasharray="11.4 0.6"/><path d="M113.1 254.2L114.3 254.3L115.6 254.4L116.8 254.6L118.1 254.7L119.3 254.8L120.6 254.8" stroke="#e8485f" stroke-width="1.0" fill="none" stroke-dasharray="13.7 0.5"/><path d="M113.2 251.4L114.4 251.7L115.6 252.0L116.8 252.2L118.1 252.4L119.3 252.3L120.5 252.2" stroke="#e8485f" stroke-width="1.0" fill="none" stroke-dasharray="11.3 0.5"/><path d="M123.4 275.2L124.6 275.0L125.8 274.8L127.0 274.6L128.2 274.4L129.4 274.3L130.6 274.3L131.8 274.4" stroke="#e8485f" stroke-width="1.0" fill="none" stroke-dasharray="12.8 0.5"/><path d="M123.4 272.6L124.6 272.5L125.8 272.3L127.0 272.2L128.2 272.2L129.4 272.2L130.6 272.3L131.8 272.4" stroke="#e8485f" stroke-width="1.0" fill="none" stroke-dasharray="7.4 0.8 7.4 0.8"/><path d="M123.4 270.2L124.6 270.0L125.8 269.9L127.0 269.9L128.2 269.9L129.4 270.0L130.6 270.1L131.8 270.3" stroke="#e8485f" stroke-width="1.0" fill="none" stroke-dasharray="8.2 0.5 12.7 0.6"/><path d="M123.4 267.4L124.6 267.3L125.8 267.3L127.0 267.3L128.2 267.4L129.4 267.6L130.6 267.8L131.8 267.9" stroke="#e8485f" stroke-width="1.0" fill="none" stroke-dasharray="11.7 0.8"/><path d="M123.4 264.7L124.6 264.7L125.8 264.7L127.0 264.9L128.2 265.0L129.4 265.2L130.6 265.4L131.8 265.5" stroke="#e8485f" stroke-width="1.0" fill="none" stroke-dasharray="11.9 0.8"/><path d="M123.4 262.3L124.6 262.4L125.8 262.5L127.0 262.7L128.2 262.9L129.4 263.1L130.6 263.2L131.8 263.2" stroke="#e8485f" stroke-width="1.0" fill="none" stroke-dasharray="12.3 0.6"/><path d="M123.4 260.1L124.6 260.2L125.8 260.4L127.0 260.5L128.2 260.7L129.4 260.8L130.6 260.8L131.8 260.7" stroke="#e8485f" stroke-width="1.0" fill="none" stroke-dasharray="11.5 0.3"/><path d="M123.4 257.7L124.6 258.0L125.8 258.2L127.0 258.4L128.2 258.5L129.4 258.5L130.6 258.4L131.8 258.2" stroke="#e8485f" stroke-width="1.0" fill="none" stroke-dasharray="12.3 0.6"/><path d="M123.4 255.7L124.8 256.0L126.2 256.2L127.6 256.3L129.0 256.2L130.4 256.0L131.8 255.7" stroke="#e8485f" stroke-width="1.0" fill="none" stroke-dasharray="8.0 0.6 8.5 0.4"/><path d="M123.5 253.5L124.9 253.6L126.2 253.7L127.6 253.7L129.0 253.5L130.3 253.4L131.7 253.2" stroke="#e8485f" stroke-width="1.0" fill="none" stroke-dasharray="10.7 0.6"/><path d="M123.6 251.3L124.9 251.4L126.2 251.3L127.6 251.1L128.9 250.9L130.2 250.6L131.6 250.4" stroke="#e8485f" stroke-width="1.0" fill="none" stroke-dasharray="5.7 0.6 5.7 0.3"/><path d="M132.4 275.1L133.6 275.0L134.9 274.8L136.1 274.6L137.3 274.5L138.6 274.3L139.8 274.3L141.0 274.3L142.3 274.3L143.5 274.5" stroke="#e8485f" stroke-width="1.0" fill="none" stroke-dasharray="7.1 0.5 9.2 0.3"/><path d="M132.4 272.4L133.6 272.3L134.9 272.1L136.1 272.0L137.3 271.9L138.6 271.9L139.8 271.9L141.0 272.0L142.3 272.1L143.5 272.2" stroke="#e8485f" stroke-width="1.0" fill="none" stroke-dasharray="12.2 0.6 10.2 0.3"/><path d="M132.4 269.5L133.6 269.4L134.9 269.3L136.1 269.3L137.3 269.3L138.6 269.3L139.8 269.4L141.0 269.5L142.3 269.6L143.5 269.8" stroke="#e8485f" stroke-width="1.0" fill="none" stroke-dasharray="13.2 0.7 13.9 0.4"/><path d="M132.4 266.7L133.6 266.6L134.9 266.6L136.1 266.6L137.3 266.7L138.6 266.8L139.8 266.9L141.0 267.1L142.3 267.3L143.5 267.4" stroke="#e8485f" stroke-width="1.0" fill="none" stroke-dasharray="10.0 0.5 10.8 0.4"/><path d="M132.4 264.1L133.6 264.1L134.9 264.2L136.1 264.3L137.3 264.4L138.6 264.5L139.8 264.7L141.0 264.8L142.3 264.9L143.5 265.0" stroke="#e8485f" stroke-width="1.0" fill="none" stroke-dasharray="11.0 0.4 7.7 0.3"/><path d="M132.4 261.7L133.6 261.7L134.9 261.8L136.1 261.9L137.3 262.0L138.6 262.1L139.8 262.2L141.0 262.3L142.3 262.3L143.5 262.3" stroke="#e8485f" stroke-width="1.0" fill="none" stroke-dasharray="9.1 0.3 13.5 0.4"/><path d="M132.4 259.2L133.6 259.3L134.9 259.4L136.1 259.5L137.3 259.7L138.6 259.8L139.8 259.8L141.0 259.8L142.3 259.8L143.5 259.7" stroke="#e8485f" stroke-width="1.0" fill="none" stroke-dasharray="7.9 0.6 10.3 0.7"/><path d="M132.4 256.7L133.6 256.9L134.9 257.0L136.1 257.1L137.3 257.2L138.6 257.2L139.8 257.2L141.0 257.2L142.3 257.1L143.5 257.0" stroke="#e8485f" stroke-width="1.0" fill="none" stroke-dasharray="7.9 0.7 8.7 0.5"/><path d="M132.5 254.6L133.7 254.8L134.9 254.9L136.1 255.0L137.3 255.0L138.5 255.0L139.7 254.9L140.9 254.8L142.1 254.7L143.3 254.5" stroke="#e8485f" stroke-width="1.0" fill="none" stroke-dasharray="11.2 0.7 6.4 0.5"/><path d="M132.8 252.0L134.1 252.1L135.4 252.2L136.7 252.2L138.0 252.1L139.3 252.0L140.6 251.9L141.9 251.8L143.2 251.6" stroke="#e8485f" stroke-width="1.0" fill="none" stroke-dasharray="10.5 0.5 6.1 0.6"/><path d="M147.0 274.4L148.2 274.8L149.4 275.2L150.7 275.2L151.9 275.2" stroke="#e8485f" stroke-width="1.0" fill="none" stroke-dasharray="9.7 0.9"/><path d="M147.0 272.4L148.2 272.7L149.4 272.9L150.7 272.9L151.9 272.7" stroke="#e8485f" stroke-width="1.0" fill="none" stroke-dasharray="11.6 0.6"/><path d="M147.0 270.3L148.2 270.7L149.4 270.8L150.7 270.6L151.9 270.2" stroke="#e8485f" stroke-width="1.0" fill="none" stroke-dasharray="10.7 0.6"/><path d="M147.0 268.1L148.2 268.2L149.4 268.2L150.7 267.9L151.9 267.6" stroke="#e8485f" stroke-width="1.0" fill="none" stroke-dasharray="8.5 0.9"/><path d="M147.0 265.7L148.2 265.7L149.4 265.5L150.7 265.2L151.9 265.0" stroke="#e8485f" stroke-width="1.0" fill="none" stroke-dasharray="12.8 0.7"/><path d="M147.0 263.2L148.2 263.0L149.4 262.6L150.7 262.3L151.9 262.2" stroke="#e8485f" stroke-width="1.0" fill="none" stroke-dasharray="6.3 0.7"/><path d="M147.0 260.6L148.2 260.2L149.4 259.8L150.7 259.5L151.9 259.6" stroke="#e8485f" stroke-width="1.0" fill="none" stroke-dasharray="7.0 0.9"/><path d="M147.0 257.5L148.2 257.3L149.4 257.1L150.7 257.1L151.9 257.2" stroke="#e8485f" stroke-width="1.0" fill="none" stroke-dasharray="13.7 0.7"/><path d="M147.0 255.0L148.6 254.8L150.2 254.8L151.8 255.0" stroke="#e8485f" stroke-width="1.0" fill="none" stroke-dasharray="12.2 0.6"/><path d="M147.1 252.1L148.6 251.8L150.2 252.1L151.7 252.7" stroke="#e8485f" stroke-width="1.0" fill="none" stroke-dasharray="7.4 0.5"/><path d="M154.6 275.2L155.5 275.2L156.5 274.8L157.4 274.4" stroke="#e8485f" stroke-width="1.0" fill="none" stroke-dasharray="6.5 0.7"/><path d="M154.6 272.8L155.5 272.7L156.5 272.3L157.4 272.1" stroke="#e8485f" stroke-width="1.0" fill="none" stroke-dasharray="12.3 0.8"/><path d="M154.6 270.3L155.5 269.9L156.5 269.5L157.4 269.4" stroke="#e8485f" stroke-width="1.0" fill="none" stroke-dasharray="6.6 0.8"/><path d="M154.6 267.7L155.5 267.2L156.5 266.9L157.4 267.1" stroke="#e8485f" stroke-width="1.0" fill="none" stroke-dasharray="5.9 0.5"/><path d="M154.6 264.8L155.5 264.5L156.5 264.4L157.4 264.7" stroke="#e8485f" stroke-width="1.0" fill="none" stroke-dasharray="8.5 0.5"/><path d="M154.6 262.2L155.5 261.9L156.5 262.1L157.4 262.4" stroke="#e8485f" stroke-width="1.0" fill="none" stroke-dasharray="12.3 0.3"/><path d="M154.6 259.5L155.5 259.4L156.5 259.7L157.4 260.1" stroke="#e8485f" stroke-width="1.0" fill="none" stroke-dasharray="11.6 0.6"/><path d="M154.6 256.8L155.5 256.9L156.5 257.2L157.4 257.4" stroke="#e8485f" stroke-width="1.0" fill="none" stroke-dasharray="12.5 0.8"/><path d="M154.7 254.4L155.6 254.6L156.5 255.0L157.3 255.1" stroke="#e8485f" stroke-width="1.0" fill="none" stroke-dasharray="7.4 0.9"/><path d="M160.2 274.0L161.5 274.1L162.7 274.2L164.0 274.3L165.3 274.4L166.5 274.4L167.8 274.5L169.1 274.6L170.3 274.7L171.6 274.9L172.9 275.1L174.1 275.2L175.4 275.2" stroke="#e8485f" stroke-width="1.0" fill="none" stroke-dasharray="13.2 0.8 11.5 0.7"/><path d="M160.2 271.3L161.5 271.3L162.7 271.4L164.0 271.5L165.3 271.6L166.5 271.7L167.8 271.8L169.1 271.9L170.3 272.1L171.6 272.3L172.9 272.6L174.1 272.9L175.4 273.2" stroke="#e8485f" stroke-width="1.0" fill="none" stroke-dasharray="10.1 0.7 9.4 0.7"/><path d="M160.2 268.5L161.5 268.6L162.7 268.7L164.0 268.7L165.3 268.9L166.5 269.0L167.8 269.2L169.1 269.4L170.3 269.7L171.6 270.0L172.9 270.3L174.1 270.6L175.4 270.9" stroke="#e8485f" stroke-width="1.0" fill="none" stroke-dasharray="11.9 0.5 5.7 0.4 7.9 0.6"/><path d="M160.2 266.0L161.5 266.1L162.7 266.2L164.0 266.4L165.3 266.6L166.5 266.8L167.8 267.0L169.1 267.3L170.3 267.5L171.6 267.8L172.9 268.1L174.1 268.4L175.4 268.7" stroke="#e8485f" stroke-width="1.0" fill="none" stroke-dasharray="12.9 0.4 11.2 0.5"/><path d="M160.2 263.1L161.5 263.2L162.7 263.4L164.0 263.6L165.3 263.8L166.5 264.1L167.8 264.4L169.1 264.7L170.3 265.0L171.6 265.4L172.9 265.7L174.1 266.0L175.4 266.2" stroke="#e8485f" stroke-width="1.0" fill="none" stroke-dasharray="11.8 0.5 11.7 0.8"/><path d="M160.2 260.9L161.5 261.1L162.7 261.3L164.0 261.5L165.3 261.8L166.5 262.1L167.8 262.3L169.1 262.6L170.3 262.9L171.6 263.1L172.9 263.4L174.1 263.6L175.4 263.8" stroke="#e8485f" stroke-width="1.0" fill="none" stroke-dasharray="13.1 0.6 12.5 0.3"/><path d="M160.2 258.5L161.5 258.8L162.7 259.0L164.0 259.4L165.3 259.7L166.5 260.0L167.8 260.3L169.1 260.6L170.3 260.8L171.6 261.1L172.9 261.3L174.1 261.5L175.4 261.6" stroke="#e8485f" stroke-width="1.0" fill="none" stroke-dasharray="7.1 0.6 13.9 0.5"/><path d="M160.2 256.2L161.5 256.5L162.7 256.8L164.0 257.1L165.3 257.4L166.5 257.7L167.8 258.0L169.1 258.2L170.3 258.5L171.6 258.6L172.9 258.8L174.1 258.9L175.4 259.0" stroke="#e8485f" stroke-width="1.0" fill="none" stroke-dasharray="11.2 0.5 8.6 0.5"/><path d="M160.4 254.0L161.6 254.3L162.9 254.6L164.1 254.9L165.3 255.1L166.6 255.4L167.8 255.6L169.0 255.8L170.3 255.9L171.5 256.0L172.7 256.1L174.0 256.2L175.2 256.2" stroke="#e8485f" stroke-width="1.0" fill="none" stroke-dasharray="10.7 0.8 10.0 0.5"/><path d="M160.4 251.4L161.7 251.7L163.0 252.0L164.3 252.2L165.6 252.4L166.9 252.6L168.2 252.7L169.5 252.9L170.8 253.0L172.1 253.1L173.4 253.2L174.7 253.3" stroke="#e8485f" stroke-width="1.0" fill="none" stroke-dasharray="7.4 0.4 8.5 0.5 8.2 0.8"/><text x="93.0" y="290.7" font-family="Liberation Sans" font-size="9.6" fill="#ee6a36" text-anchor="middle">C:How do you go to school?</text><path d="M20.1 311.3H91" stroke="#ef6630" stroke-width="1.2"/><polygon points="28.80,311.30 29.05,304.31 29.30,296.06 29.70,296.67 30.10,296.51 30.50,295.47 30.90,294.89 31.30,295.39 31.72,295.11 32.14,296.41 32.56,296.53 32.98,296.41 33.40,297.28 33.65,304.26 33.90,311.30 33.90,311.30 33.65,318.02 33.40,325.01 32.98,325.97 32.56,326.17 32.14,325.50 31.72,326.62 31.30,326.59 30.90,326.85 30.50,326.34 30.10,325.43 29.70,324.78 29.30,325.65 29.05,318.51 28.80,311.30" fill="#ef6630"/><polygon points="34.40,311.30 34.70,303.44 35.00,296.73 35.50,295.31 36.00,294.02 36.50,295.34 36.90,295.57 37.30,296.17 37.70,295.91 38.10,296.47 38.50,296.09 38.90,297.92 39.30,298.14 39.70,297.44 40.10,299.31 40.50,299.40 40.90,298.97 41.30,299.33 41.70,298.66 42.10,297.93 42.50,297.66 42.90,297.43 43.30,297.12 43.70,296.93 44.10,297.68 44.50,296.37 44.90,296.25 45.30,296.67 45.70,296.06 46.16,296.47 46.62,295.42 47.08,296.56 47.54,296.84 48.00,295.80 48.35,303.58 48.70,311.30 48.70,311.30 48.35,316.61 48.00,322.93 47.54,323.07 47.08,322.78 46.62,322.62 46.16,323.12 45.70,323.09 45.30,322.66 44.90,322.37 44.50,322.52 44.10,323.55 43.70,323.52 43.30,322.71 42.90,322.97 42.50,322.82 42.10,322.94 41.70,324.10 41.30,324.22 40.90,323.88 40.50,323.63 40.10,324.00 39.70,324.51 39.30,324.03 38.90,323.75 38.50,324.94 38.10,323.89 37.70,323.74 37.30,325.04 36.90,324.37 36.50,325.58 36.00,324.78 35.50,324.47 35.00,324.12 34.70,317.66 34.40,311.30" fill="#ef6630"/><polygon points="50.30,311.30 50.60,303.71 50.90,296.97 51.35,296.98 51.80,295.97 52.20,296.73 52.60,297.27 53.00,297.19 53.40,298.03 53.80,298.59 54.05,304.96 54.30,311.30 54.30,311.30 54.05,316.48 53.80,321.54 53.40,321.72 53.00,322.42 52.60,322.51 52.20,322.66 51.80,323.24 51.35,322.68 50.90,322.58 50.60,316.65 50.30,311.30" fill="#ef6630"/><polygon points="57.40,311.30 57.70,306.83 58.00,302.41 58.50,300.46 59.00,300.42 59.50,301.71 60.00,303.26 60.25,307.03 60.50,311.30 60.50,311.30 60.25,315.10 60.00,318.69 59.50,319.07 59.00,319.89 58.50,319.79 58.00,319.32 57.70,315.10 57.40,311.30" fill="#ef6630"/><polygon points="67.40,311.30 67.70,306.87 68.00,301.46 68.30,301.08 68.60,301.13 69.02,301.12 69.45,301.69 69.88,302.61 70.30,302.62 70.72,303.85 71.15,304.52 71.58,304.97 72.00,305.54 72.43,305.78 72.86,306.52 73.29,307.38 73.72,307.82 74.15,308.50 74.58,308.89 75.01,309.47 75.44,310.18 75.87,310.71 76.30,311.30 76.30,311.30 75.87,311.72 75.44,312.18 75.01,312.53 74.58,313.02 74.15,313.46 73.72,313.91 73.29,314.20 72.86,314.81 72.43,314.99 72.00,315.60 71.58,315.69 71.15,316.35 70.72,316.65 70.30,316.64 69.88,317.27 69.45,317.20 69.02,317.71 68.60,318.22 68.30,317.46 68.00,317.39 67.70,314.27 67.40,311.30" fill="#ef6630"/><path d="M110 322.6H172.9" stroke="#ef6630" stroke-width="1.1" fill="none" opacity="0.85" stroke-dasharray="3 0.8 1 0.8"/><path d="M116.5 321.3L117.7 320.9L118.9 320.6L120.1 320.5L121.3 320.7L122.5 321.1" stroke="#ef6630" stroke-width="1.8" fill="none" stroke-dasharray="11.9 0.6"/><path d="M116.5 318.0L117.7 317.6L118.9 317.4L120.1 317.6L121.3 318.0L122.5 318.5" stroke="#ef6630" stroke-width="1.8" fill="none" stroke-dasharray="8.1 0.9"/><path d="M116.5 314.9L117.7 314.8L118.9 314.8L120.1 315.2L121.3 315.6L122.5 316.0" stroke="#ef6630" stroke-width="1.8" fill="none" stroke-dasharray="13.6 0.8"/><path d="M116.5 311.9L117.7 312.0L118.9 312.2L120.1 312.6L121.3 313.0L122.5 313.2" stroke="#ef6630" stroke-width="1.8" fill="none" stroke-dasharray="12.1 0.8"/><path d="M116.5 309.2L117.7 309.5L118.9 310.0L120.1 310.5L121.3 310.8L122.5 310.8" stroke="#ef6630" stroke-width="1.8" fill="none" stroke-dasharray="5.7 0.6 7.2 0.3"/><path d="M116.5 306.3L117.7 306.8L118.9 307.4L120.1 307.8L121.3 307.9L122.5 307.6" stroke="#ef6630" stroke-width="1.8" fill="none" stroke-dasharray="11.0 0.6"/><path d="M116.5 304.2L117.7 304.6L118.9 304.9L120.1 305.0L121.3 304.9L122.5 304.6" stroke="#ef6630" stroke-width="1.8" fill="none" stroke-dasharray="7.7 0.4"/><path d="M116.6 301.8L118.0 302.2L119.5 302.2L121.0 302.0L122.5 301.5" stroke="#ef6630" stroke-width="1.8" fill="none" stroke-dasharray="8.5 0.6"/><path d="M116.7 299.5L118.1 299.7L119.5 299.6L121.0 299.1L122.4 298.5" stroke="#ef6630" stroke-width="1.8" fill="none" stroke-dasharray="13.5 0.6"/><path d="M123.0 321.1L124.2 321.3L125.4 321.5L126.6 321.6L127.8 321.6L129.1 321.6L130.3 321.6L131.5 321.6L132.7 321.6L133.9 321.4L135.1 321.3" stroke="#ef6630" stroke-width="1.8" fill="none" stroke-dasharray="7.3 0.5 9.3 0.5"/><path d="M123.0 318.8L124.2 319.0L125.4 319.1L126.6 319.2L127.8 319.2L129.1 319.2L130.3 319.1L131.5 318.9L132.7 318.7L133.9 318.5L135.1 318.3" stroke="#ef6630" stroke-width="1.8" fill="none" stroke-dasharray="6.8 0.3 12.5 0.3"/><path d="M123.0 316.3L124.2 316.4L125.4 316.4L126.6 316.4L127.8 316.3L129.1 316.2L130.3 315.9L131.5 315.7L132.7 315.5L133.9 315.2L135.1 315.1" stroke="#ef6630" stroke-width="1.8" fill="none" stroke-dasharray="13.0 0.4 6.5 0.7"/><path d="M123.0 313.8L124.2 313.8L125.4 313.8L126.6 313.6L127.8 313.4L129.1 313.2L130.3 313.0L131.5 312.7L132.7 312.5L133.9 312.4L135.1 312.3" stroke="#ef6630" stroke-width="1.8" fill="none" stroke-dasharray="12.1 0.6 13.7 0.3"/><path d="M123.0 311.3L124.2 311.1L125.4 311.0L126.6 310.7L127.8 310.5L129.1 310.2L130.3 310.0L131.5 309.8L132.7 309.7L133.9 309.7L135.1 309.7" stroke="#ef6630" stroke-width="1.8" fill="none" stroke-dasharray="13.2 0.5 5.5 0.4"/><path d="M123.0 308.3L124.2 308.0L125.4 307.8L126.6 307.5L127.8 307.2L129.1 307.0L130.3 306.9L131.5 306.8L132.7 306.8L133.9 306.9L135.1 307.1" stroke="#ef6630" stroke-width="1.8" fill="none" stroke-dasharray="7.2 0.4 7.0 0.4 13.2 0.5"/><path d="M123.0 305.3L124.2 305.0L125.4 304.8L126.6 304.6L127.8 304.4L129.1 304.3L130.3 304.3L131.5 304.3L132.7 304.4L133.9 304.6L135.1 304.9" stroke="#ef6630" stroke-width="1.8" fill="none" stroke-dasharray="13.8 0.9 7.4 0.8"/><path d="M123.1 302.1L124.4 301.8L125.7 301.6L127.1 301.5L128.4 301.5L129.7 301.5L131.0 301.7L132.4 301.9L133.7 302.2L135.0 302.5" stroke="#ef6630" stroke-width="1.8" fill="none" stroke-dasharray="9.0 0.4 12.2 0.6"/><path d="M123.4 298.9L124.6 298.8L125.9 298.7L127.1 298.7L128.4 298.8L129.6 299.0L130.9 299.3L132.1 299.6L133.4 299.9L134.6 300.1" stroke="#ef6630" stroke-width="1.8" fill="none" stroke-dasharray="8.5 0.7 5.8 0.4 7.3 0.5"/><path d="M136.8 321.6L138.1 321.6L139.3 320.8L140.6 320.2" stroke="#ef6630" stroke-width="1.8" fill="none" stroke-dasharray="13.1 0.8"/><path d="M136.8 319.1L138.1 318.4L139.3 317.5L140.6 317.4" stroke="#ef6630" stroke-width="1.8" fill="none" stroke-dasharray="13.7 0.3"/><path d="M136.8 315.7L138.1 315.0L139.3 314.5L140.6 314.8" stroke="#ef6630" stroke-width="1.8" fill="none" stroke-dasharray="8.6 0.8"/><path d="M136.8 312.4L138.1 311.6L139.3 311.4L140.6 312.1" stroke="#ef6630" stroke-width="1.8" fill="none" stroke-dasharray="5.7 0.7"/><path d="M136.8 309.5L138.1 309.0L139.3 309.2L140.6 309.9" stroke="#ef6630" stroke-width="1.8" fill="none" stroke-dasharray="13.3 0.5"/><path d="M136.8 306.3L138.1 306.1L139.3 306.6L140.6 307.1" stroke="#ef6630" stroke-width="1.8" fill="none" stroke-dasharray="9.0 0.7"/><path d="M136.8 303.4L138.1 303.6L139.3 304.1L140.6 304.6" stroke="#ef6630" stroke-width="1.8" fill="none" stroke-dasharray="14.0 0.5"/><path d="M136.8 300.8L138.1 301.2L139.3 301.7L140.6 301.8" stroke="#ef6630" stroke-width="1.8" fill="none" stroke-dasharray="7.2 0.7"/><path d="M136.9 298.1L138.1 298.9L139.3 299.5L140.5 299.4" stroke="#ef6630" stroke-width="1.8" fill="none" stroke-dasharray="9.4 0.6"/><path d="M142.8 321.6L144.3 321.6L145.7 321.4L147.2 320.7" stroke="#ef6630" stroke-width="1.8" fill="none" stroke-dasharray="5.7 0.7"/><path d="M142.8 319.1L144.3 319.0L145.7 318.4L147.2 317.9" stroke="#ef6630" stroke-width="1.8" fill="none" stroke-dasharray="13.3 0.7"/><path d="M142.8 316.6L144.3 316.2L145.7 315.6L147.2 315.3" stroke="#ef6630" stroke-width="1.8" fill="none" stroke-dasharray="13.2 0.3"/><path d="M142.8 313.8L144.3 313.4L145.7 313.0L147.2 313.0" stroke="#ef6630" stroke-width="1.8" fill="none" stroke-dasharray="13.7 0.8"/><path d="M142.8 310.7L144.3 309.9L145.7 309.6L147.2 310.1" stroke="#ef6630" stroke-width="1.8" fill="none" stroke-dasharray="7.6 0.7"/><path d="M142.8 307.6L144.3 307.0L145.7 307.1L147.2 307.8" stroke="#ef6630" stroke-width="1.8" fill="none" stroke-dasharray="6.6 0.8"/><path d="M142.8 304.6L144.3 304.3L145.7 304.7L147.2 305.3" stroke="#ef6630" stroke-width="1.8" fill="none" stroke-dasharray="13.1 0.6"/><path d="M142.9 301.2L144.3 301.3L145.7 301.9L147.1 302.5" stroke="#ef6630" stroke-width="1.8" fill="none" stroke-dasharray="10.1 0.8"/><path d="M143.0 298.6L144.3 298.9L145.7 299.5L147.1 299.8" stroke="#ef6630" stroke-width="1.8" fill="none" stroke-dasharray="9.2 0.7"/><path d="M152.6 320.1L154.0 320.8L155.4 321.4L156.9 321.6L158.3 321.6L159.7 321.6" stroke="#ef6630" stroke-width="1.8" fill="none" stroke-dasharray="10.6 0.6"/><path d="M152.6 317.4L154.0 318.1L155.4 318.6L156.9 319.0L158.3 319.1L159.7 319.0" stroke="#ef6630" stroke-width="1.8" fill="none" stroke-dasharray="11.0 0.7"/><path d="M152.6 315.1L154.0 315.7L155.4 316.1L156.9 316.2L158.3 316.2L159.7 316.1" stroke="#ef6630" stroke-width="1.8" fill="none" stroke-dasharray="11.0 0.7"/><path d="M152.6 312.4L154.0 312.9L155.4 313.1L156.9 313.1L158.3 313.0L159.7 313.0" stroke="#ef6630" stroke-width="1.8" fill="none" stroke-dasharray="11.6 0.6"/><path d="M152.6 309.9L154.0 310.2L155.4 310.1L156.9 309.9L158.3 309.7L159.7 309.7" stroke="#ef6630" stroke-width="1.8" fill="none" stroke-dasharray="5.5 0.7 8.4 0.4"/><path d="M152.6 307.2L154.0 307.2L155.4 306.9L156.9 306.6L158.3 306.6L159.7 306.8" stroke="#ef6630" stroke-width="1.8" fill="none" stroke-dasharray="6.8 0.7 13.7 0.3"/><path d="M152.6 304.3L154.0 304.2L155.4 303.9L156.9 303.8L158.3 304.0L159.7 304.5" stroke="#ef6630" stroke-width="1.8" fill="none" stroke-dasharray="6.8 0.6 12.2 0.5"/><path d="M152.8 301.2L154.2 301.1L155.5 301.2L156.9 301.3L158.2 301.7L159.6 302.2" stroke="#ef6630" stroke-width="1.8" fill="none" stroke-dasharray="8.4 0.7 12.7 0.8"/><text x="94.4" y="338.4" font-family="Liberation Sans" font-size="9.6" fill="#eb9c38" text-anchor="middle">D:I go to school on foot.</text><path d="M19.1 357.9H84" stroke="#ec992e" stroke-width="1.2"/><polygon points="30.80,357.90 31.40,353.96 32.00,349.58 32.48,348.37 32.95,347.28 33.42,345.82 33.90,345.03 34.38,346.16 34.85,347.89 35.32,348.46 35.80,350.11 36.20,352.53 36.60,355.39 37.00,357.90 37.00,357.90 36.60,361.58 36.20,365.76 35.80,368.54 35.32,370.30 34.85,370.76 34.38,372.19 33.90,373.65 33.42,372.42 32.95,371.04 32.48,369.12 32.00,368.20 31.40,363.09 30.80,357.90" fill="#ec992e"/><polygon points="38.00,357.90 38.30,352.64 38.60,346.37 39.05,344.96 39.50,343.92 39.90,345.22 40.30,345.61 40.70,347.33 41.10,348.04 41.50,349.24 41.90,351.21 42.30,353.17 42.70,355.60 43.10,357.90 43.10,357.90 42.70,359.88 42.30,361.82 41.90,364.27 41.50,365.88 41.10,366.36 40.70,367.38 40.30,367.67 39.90,367.79 39.50,368.84 39.05,367.91 38.60,367.23 38.30,362.58 38.00,357.90" fill="#ec992e"/><polygon points="44.10,357.90 44.45,353.50 44.80,348.45 45.15,348.59 45.50,347.71 46.00,349.10 46.50,351.06 47.00,352.13 47.35,354.77 47.70,357.90 47.70,357.90 47.35,361.10 47.00,364.17 46.50,364.53 46.00,365.95 45.50,366.86 45.15,366.88 44.80,365.72 44.45,362.21 44.10,357.90" fill="#ec992e"/><polygon points="52.80,357.90 53.00,353.59 53.20,349.34 53.50,348.08 53.80,346.66 54.25,348.41 54.70,348.79 55.15,349.60 55.60,350.40 56.05,351.10 56.50,351.90 57.00,351.81 57.50,351.02 58.00,350.90 58.40,350.68 58.80,349.76 59.20,349.63 59.60,349.80 60.00,348.61 60.42,349.49 60.83,350.19 61.25,350.74 61.67,351.34 62.08,351.65 62.50,352.08 62.75,354.97 63.00,357.90 63.00,357.90 62.75,362.62 62.50,367.48 62.08,367.46 61.67,368.21 61.25,369.06 60.83,368.38 60.42,369.20 60.00,370.39 59.60,368.93 59.20,369.82 58.80,368.19 58.40,368.04 58.00,368.06 57.50,367.52 57.00,366.43 56.50,366.27 56.05,366.92 55.60,367.27 55.15,368.46 54.70,368.60 54.25,369.18 53.80,369.25 53.50,369.39 53.20,368.96 53.00,363.31 52.80,357.90" fill="#ec992e"/><polygon points="65.60,357.90 65.95,353.27 66.30,349.24 66.70,347.99 67.10,347.07 67.50,348.09 67.90,348.71 68.30,349.28 68.70,350.22 69.10,351.23 69.50,351.89 69.90,353.79 70.30,355.88 70.70,357.90 70.70,357.90 70.30,359.94 69.90,361.93 69.50,364.25 69.10,364.49 68.70,365.43 68.30,366.23 67.90,366.83 67.50,368.43 67.10,368.60 66.70,367.64 66.30,367.46 65.95,362.38 65.60,357.90" fill="#ec992e"/><path d="M107.6 371H175.3" stroke="#ec992e" stroke-width="1.3" fill="none" opacity="0.85"/><path d="M107.6 371V339.6M175.3 371V339.6" stroke="#ec992e" stroke-width="0.8" fill="none" opacity="0.6"/><path d="M118.7 369.8L120.0 370.0L121.2 369.9L122.5 369.4" stroke="#ec992e" stroke-width="1.6" fill="none" stroke-dasharray="11.5 0.5"/><path d="M118.7 367.1L120.0 367.2L121.2 366.8L122.5 366.5" stroke="#ec992e" stroke-width="1.6" fill="none" stroke-dasharray="9.1 0.3"/><path d="M118.7 364.7L120.0 364.6L121.2 364.1L122.5 363.8" stroke="#ec992e" stroke-width="1.6" fill="none" stroke-dasharray="12.2 0.6"/><path d="M118.7 361.9L120.0 361.5L121.2 361.0L122.5 360.9" stroke="#ec992e" stroke-width="1.6" fill="none" stroke-dasharray="8.1 0.6"/><path d="M118.7 358.7L120.0 358.3L121.2 358.1L122.5 358.2" stroke="#ec992e" stroke-width="1.6" fill="none" stroke-dasharray="5.1 0.8"/><path d="M118.7 355.5L120.0 355.1L121.2 355.1L122.5 355.3" stroke="#ec992e" stroke-width="1.6" fill="none" stroke-dasharray="7.4 0.9"/><path d="M118.7 352.2L120.0 351.9L121.2 352.0L122.5 352.5" stroke="#ec992e" stroke-width="1.6" fill="none" stroke-dasharray="10.1 0.9"/><path d="M118.7 349.2L120.0 349.2L121.2 349.4L122.5 349.7" stroke="#ec992e" stroke-width="1.6" fill="none" stroke-dasharray="12.9 0.7"/><path d="M118.8 346.4L120.0 346.5L121.2 347.0L122.5 347.5" stroke="#ec992e" stroke-width="1.6" fill="none" stroke-dasharray="6.9 0.4"/><path d="M118.9 343.6L120.1 343.8L121.3 344.2L122.4 344.3" stroke="#ec992e" stroke-width="1.6" fill="none" stroke-dasharray="11.5 0.4"/><path d="M123.0 370.0L124.2 370.0L125.5 369.9L126.8 369.4L128.0 369.1" stroke="#ec992e" stroke-width="1.6" fill="none" stroke-dasharray="10.5 0.6"/><path d="M123.0 367.3L124.2 367.2L125.5 366.9L126.8 366.7L128.0 366.6" stroke="#ec992e" stroke-width="1.6" fill="none" stroke-dasharray="5.2 0.8 13.0 0.7"/><path d="M123.0 364.7L124.2 364.3L125.5 363.9L126.8 363.6L128.0 363.7" stroke="#ec992e" stroke-width="1.6" fill="none" stroke-dasharray="8.9 0.6"/><path d="M123.0 361.6L124.2 361.2L125.5 360.9L126.8 360.8L128.0 361.1" stroke="#ec992e" stroke-width="1.6" fill="none" stroke-dasharray="9.7 0.7"/><path d="M123.0 358.6L124.2 358.3L125.5 358.2L126.8 358.3L128.0 358.6" stroke="#ec992e" stroke-width="1.6" fill="none" stroke-dasharray="9.1 0.7"/><path d="M123.0 355.5L124.2 355.3L125.5 355.3L126.8 355.5L128.0 355.8" stroke="#ec992e" stroke-width="1.6" fill="none" stroke-dasharray="12.4 0.7"/><path d="M123.0 352.3L124.2 352.2L125.5 352.5L126.8 352.8L128.0 353.2" stroke="#ec992e" stroke-width="1.6" fill="none" stroke-dasharray="12.5 0.6"/><path d="M123.0 349.7L124.3 349.8L125.5 350.1L126.7 350.4L128.0 350.6" stroke="#ec992e" stroke-width="1.6" fill="none" stroke-dasharray="7.7 0.8"/><path d="M123.1 347.0L124.3 347.3L125.5 347.6L126.7 347.8L127.9 347.8" stroke="#ec992e" stroke-width="1.6" fill="none" stroke-dasharray="10.1 0.6"/><path d="M128.5 369.2L129.8 369.0L131.0 369.0L132.3 369.1L133.5 369.3L134.8 369.5L136.0 369.8L137.3 370.0" stroke="#ec992e" stroke-width="1.6" fill="none" stroke-dasharray="5.1 0.4 6.1 0.7"/><path d="M128.5 366.5L129.8 366.5L131.0 366.6L132.3 366.7L133.5 367.0L134.8 367.2L136.0 367.4L137.3 367.5" stroke="#ec992e" stroke-width="1.6" fill="none" stroke-dasharray="11.8 0.5"/><path d="M128.5 364.0L129.8 364.1L131.0 364.2L132.3 364.4L133.5 364.5L134.8 364.7L136.0 364.8L137.3 364.8" stroke="#ec992e" stroke-width="1.6" fill="none" stroke-dasharray="7.6 0.4 5.6 0.5"/><path d="M128.5 361.2L129.8 361.3L131.0 361.5L132.3 361.7L133.5 361.9L134.8 361.9L136.0 361.9L137.3 361.9" stroke="#ec992e" stroke-width="1.6" fill="none" stroke-dasharray="10.1 0.5 12.2 0.4"/><path d="M128.5 358.4L129.8 358.6L131.0 358.8L132.3 359.0L133.5 359.1L134.8 359.1L136.0 359.0L137.3 358.8" stroke="#ec992e" stroke-width="1.6" fill="none" stroke-dasharray="10.2 0.8 8.7 0.8"/><path d="M128.5 356.0L129.8 356.2L131.0 356.4L132.3 356.4L133.5 356.4L134.8 356.3L136.0 356.1L137.3 355.9" stroke="#ec992e" stroke-width="1.6" fill="none" stroke-dasharray="8.7 0.5 11.4 0.4"/><path d="M128.5 353.5L129.8 353.6L131.0 353.7L132.3 353.6L133.5 353.5L134.8 353.4L136.0 353.2L137.3 353.0" stroke="#ec992e" stroke-width="1.6" fill="none" stroke-dasharray="10.1 0.7 11.1 0.9"/><path d="M128.5 350.9L129.8 350.9L131.0 350.9L132.3 350.8L133.5 350.6L134.8 350.4L136.0 350.2L137.3 350.0" stroke="#ec992e" stroke-width="1.6" fill="none" stroke-dasharray="7.2 0.4 9.7 0.4"/><path d="M128.6 348.2L129.8 348.1L131.0 347.9L132.3 347.7L133.5 347.5L134.7 347.3L135.9 347.1L137.2 347.1" stroke="#ec992e" stroke-width="1.6" fill="none" stroke-dasharray="9.5 0.3 6.3 0.6"/><path d="M142.0 369.3L143.3 369.5L144.5 369.6L145.8 369.8L147.1 369.9L148.3 370.0L149.6 370.0L150.9 370.0L152.1 370.0L153.4 369.9" stroke="#ec992e" stroke-width="1.6" fill="none" stroke-dasharray="8.4 0.8 10.5 0.8"/><path d="M142.0 366.9L143.3 367.0L144.5 367.1L145.8 367.2L147.1 367.3L148.3 367.3L149.6 367.2L150.9 367.2L152.1 367.1L153.4 367.0" stroke="#ec992e" stroke-width="1.6" fill="none" stroke-dasharray="5.7 0.5 11.2 0.5"/><path d="M142.0 364.2L143.3 364.3L144.5 364.4L145.8 364.4L147.1 364.4L148.3 364.4L149.6 364.3L150.9 364.1L152.1 364.0L153.4 363.8" stroke="#ec992e" stroke-width="1.6" fill="none" stroke-dasharray="10.4 0.4 10.3 0.4"/><path d="M142.0 361.3L143.3 361.4L144.5 361.4L145.8 361.4L147.1 361.3L148.3 361.2L149.6 361.0L150.9 360.8L152.1 360.7L153.4 360.6" stroke="#ec992e" stroke-width="1.6" fill="none" stroke-dasharray="6.9 0.5 10.2 0.7"/><path d="M142.0 358.4L143.3 358.4L144.5 358.4L145.8 358.3L147.1 358.2L148.3 358.0L149.6 357.9L150.9 357.7L152.1 357.6L153.4 357.6" stroke="#ec992e" stroke-width="1.6" fill="none" stroke-dasharray="7.7 0.4 8.6 0.7"/><path d="M142.0 355.9L143.3 355.8L144.5 355.7L145.8 355.5L147.1 355.3L148.3 355.2L149.6 355.1L150.9 355.0L152.1 354.9L153.4 355.0" stroke="#ec992e" stroke-width="1.6" fill="none" stroke-dasharray="11.0 0.8 11.9 0.7"/><path d="M142.0 353.2L143.3 353.0L144.5 352.8L145.8 352.6L147.1 352.4L148.3 352.3L149.6 352.2L150.9 352.2L152.1 352.2L153.4 352.4" stroke="#ec992e" stroke-width="1.6" fill="none" stroke-dasharray="13.4 0.4 13.7 0.3"/><path d="M142.1 350.0L143.3 349.8L144.6 349.7L145.8 349.6L147.0 349.5L148.3 349.5L149.5 349.5L150.8 349.6L152.0 349.7L153.3 349.8" stroke="#ec992e" stroke-width="1.6" fill="none" stroke-dasharray="6.9 0.8 9.2 0.5"/><path d="M142.3 347.2L143.7 347.1L145.0 346.9L146.3 346.9L147.7 346.9L149.0 346.9L150.3 347.1L151.7 347.3L153.0 347.5" stroke="#ec992e" stroke-width="1.6" fill="none" stroke-dasharray="8.4 0.8 5.2 0.9"/><path d="M156.7 370.0L158.1 370.0L159.5 370.0L160.9 369.7L162.3 369.2" stroke="#ec992e" stroke-width="1.6" fill="none" stroke-dasharray="7.2 0.7"/><path d="M156.7 366.9L158.1 366.9L159.5 366.8L160.9 366.5L162.3 366.3" stroke="#ec992e" stroke-width="1.6" fill="none" stroke-dasharray="9.3 0.4"/><path d="M156.7 364.4L158.1 364.3L159.5 364.0L160.9 363.8L162.3 363.7" stroke="#ec992e" stroke-width="1.6" fill="none" stroke-dasharray="12.0 0.6"/><path d="M156.7 361.8L158.1 361.6L159.5 361.2L160.9 361.1L162.3 361.1" stroke="#ec992e" stroke-width="1.6" fill="none" stroke-dasharray="10.8 0.7"/><path d="M156.7 358.7L158.1 358.4L159.5 358.1L160.9 358.1L162.3 358.3" stroke="#ec992e" stroke-width="1.6" fill="none" stroke-dasharray="12.0 0.7"/><path d="M156.7 355.8L158.1 355.4L159.5 355.2L160.9 355.4L162.3 355.8" stroke="#ec992e" stroke-width="1.6" fill="none" stroke-dasharray="10.4 0.7"/><path d="M156.7 352.9L158.1 352.6L159.5 352.7L160.9 353.0L162.3 353.5" stroke="#ec992e" stroke-width="1.6" fill="none" stroke-dasharray="9.6 0.6"/><path d="M156.8 350.3L158.2 350.2L159.5 350.4L160.9 350.7L162.3 350.9" stroke="#ec992e" stroke-width="1.6" fill="none" stroke-dasharray="9.0 0.4"/><path d="M156.9 347.2L158.2 347.4L159.5 347.7L160.9 348.1L162.2 348.3" stroke="#ec992e" stroke-width="1.6" fill="none" stroke-dasharray="8.3 0.7"/><text x="94.7" y="384.5" font-family="Liberation Sans" font-size="9.6" fill="#e3b53e" text-anchor="middle">E:What&#39;s the matter?</text><path d="M23.2 406.4H78.9" stroke="#e5b833" stroke-width="1.2"/><polygon points="33.90,406.40 34.40,403.76 34.90,401.22 35.40,398.37 35.83,397.78 36.27,397.67 36.70,396.72 37.13,396.93 37.57,396.72 38.00,395.75 38.50,394.58 39.00,394.42 39.50,393.30 39.75,399.91 40.00,406.40 40.00,406.40 39.75,412.26 39.50,417.60 39.00,417.61 38.50,416.09 38.00,415.56 37.57,415.87 37.13,415.66 36.70,414.91 36.27,414.69 35.83,414.97 35.40,414.82 34.90,412.01 34.40,409.02 33.90,406.40" fill="#e5b833"/><polygon points="42.80,406.40 43.00,400.89 43.20,396.25 43.65,395.09 44.10,394.06 44.50,393.74 44.90,394.32 45.30,393.84 45.70,394.46 46.10,393.79 46.50,394.75 46.90,394.51 47.30,394.70 47.70,394.64 48.10,394.21 48.50,395.11 48.90,395.21 49.30,395.50 49.70,396.95 50.12,396.04 50.54,395.56 50.97,396.15 51.39,396.22 51.81,395.51 52.23,395.18 52.66,394.76 53.08,394.69 53.50,394.84 53.91,394.67 54.33,394.05 54.74,393.48 55.16,393.55 55.57,393.01 55.99,391.66 56.40,392.06 56.65,399.49 56.90,406.40 56.90,406.40 56.65,413.52 56.40,419.29 55.99,419.92 55.57,419.64 55.16,419.62 54.74,418.39 54.33,418.10 53.91,418.43 53.50,418.51 53.08,417.51 52.66,417.26 52.23,417.48 51.81,417.97 51.39,417.56 50.97,416.74 50.54,417.16 50.12,416.84 49.70,416.49 49.30,416.55 48.90,417.35 48.50,417.82 48.10,417.53 47.70,418.20 47.30,418.03 46.90,418.77 46.50,418.42 46.10,418.46 45.70,418.73 45.30,417.96 44.90,419.45 44.50,418.89 44.10,419.20 43.65,417.46 43.20,416.99 43.00,411.77 42.80,406.40" fill="#e5b833"/><polygon points="57.40,406.40 57.80,401.79 58.20,396.39 58.67,396.09 59.13,395.54 59.60,395.08 60.07,394.01 60.53,393.73 61.00,393.10 61.42,394.37 61.83,394.21 62.25,396.03 62.67,395.79 63.08,396.63 63.50,397.88 63.94,399.40 64.39,400.53 64.83,401.75 65.27,402.67 65.71,404.01 66.16,405.12 66.60,406.40 66.60,406.40 66.16,407.38 65.71,408.38 65.27,409.42 64.83,410.16 64.39,411.06 63.94,411.89 63.50,412.84 63.08,413.97 62.67,414.37 62.25,415.13 61.83,415.88 61.42,416.28 61.00,417.43 60.53,416.86 60.07,416.50 59.60,415.59 59.13,415.26 58.67,415.42 58.20,415.49 57.80,410.84 57.40,406.40" fill="#e5b833"/><path d="M111.5 417.8H169.2" stroke="#e5b833" stroke-width="1.3" fill="none" opacity="0.85"/><path d="M111.5 417.8V386.5M169.2 417.8V386.5" stroke="#e5b833" stroke-width="0.8" fill="none" opacity="0.6"/><path d="M122.0 416.8L123.4 416.4L124.8 415.8L126.2 415.6L127.6 415.8L129.0 416.3" stroke="#e5b833" stroke-width="1.6" fill="none" stroke-dasharray="8.4 0.5 6.7 0.9"/><path d="M122.0 413.8L123.4 413.3L124.8 412.9L126.2 413.0L127.6 413.4L129.0 413.9" stroke="#e5b833" stroke-width="1.6" fill="none" stroke-dasharray="8.9 0.8"/><path d="M122.0 410.8L123.4 410.5L124.8 410.5L126.2 410.7L127.6 411.0L129.0 411.4" stroke="#e5b833" stroke-width="1.6" fill="none" stroke-dasharray="13.5 0.3"/><path d="M122.0 407.5L123.4 407.3L124.8 407.5L126.2 407.9L127.6 408.3L129.0 408.6" stroke="#e5b833" stroke-width="1.6" fill="none" stroke-dasharray="13.3 0.9"/><path d="M122.0 404.6L123.4 404.7L124.8 405.0L126.2 405.4L127.6 405.7L129.0 405.7" stroke="#e5b833" stroke-width="1.6" fill="none" stroke-dasharray="8.1 0.5 8.7 0.3"/><path d="M122.0 401.6L123.4 401.8L124.8 402.3L126.2 402.6L127.6 402.8L129.0 402.6" stroke="#e5b833" stroke-width="1.6" fill="none" stroke-dasharray="12.3 0.7"/><path d="M122.0 399.1L123.4 399.4L124.8 399.8L126.2 400.0L127.6 399.9L129.0 399.6" stroke="#e5b833" stroke-width="1.6" fill="none" stroke-dasharray="12.3 0.3"/><path d="M122.0 396.3L123.4 396.9L124.8 397.3L126.2 397.3L127.6 397.0L129.0 396.4" stroke="#e5b833" stroke-width="1.6" fill="none" stroke-dasharray="9.3 0.6"/><path d="M122.2 393.8L123.5 394.1L124.9 394.2L126.2 394.0L127.5 393.7L128.8 393.4" stroke="#e5b833" stroke-width="1.6" fill="none" stroke-dasharray="7.5 0.8 8.6 0.8"/><path d="M131.0 416.3L132.3 416.2L133.5 416.1L134.8 416.0L136.1 415.9L137.3 415.9L138.6 415.9L139.9 416.0L141.1 416.0L142.4 416.1L143.7 416.2L144.9 416.4L146.2 416.5L147.5 416.6L148.7 416.7L150.0 416.8" stroke="#e5b833" stroke-width="1.6" fill="none" stroke-dasharray="6.3 0.8 9.1 0.5 10.3 0.4"/><path d="M131.0 413.2L132.3 413.1L133.5 413.0L134.8 413.0L136.1 413.0L137.3 413.1L138.6 413.2L139.9 413.3L141.1 413.4L142.4 413.6L143.7 413.7L144.9 413.9L146.2 414.0L147.5 414.1L148.7 414.2L150.0 414.3" stroke="#e5b833" stroke-width="1.6" fill="none" stroke-dasharray="11.7 0.8 13.7 0.6"/><path d="M131.0 409.8L132.3 409.8L133.5 409.8L134.8 409.9L136.1 410.0L137.3 410.1L138.6 410.3L139.9 410.5L141.1 410.7L142.4 410.9L143.7 411.1L144.9 411.2L146.2 411.3L147.5 411.3L148.7 411.3L150.0 411.3" stroke="#e5b833" stroke-width="1.6" fill="none" stroke-dasharray="10.8 0.6 11.3 0.5 13.9 0.5"/><path d="M131.0 407.0L132.3 407.0L133.5 407.1L134.8 407.2L136.1 407.3L137.3 407.5L138.6 407.6L139.9 407.7L141.1 407.8L142.4 407.9L143.7 408.0L144.9 408.0L146.2 408.0L147.5 408.0L148.7 407.9L150.0 407.8" stroke="#e5b833" stroke-width="1.6" fill="none" stroke-dasharray="7.3 0.5 11.0 0.8 13.3 0.6"/><path d="M131.0 404.1L132.3 404.2L133.5 404.3L134.8 404.4L136.1 404.5L137.3 404.6L138.6 404.8L139.9 404.8L141.1 404.9L142.4 404.9L143.7 404.9L144.9 404.9L146.2 404.9L147.5 404.8L148.7 404.7L150.0 404.5" stroke="#e5b833" stroke-width="1.6" fill="none" stroke-dasharray="5.7 0.8 12.4 0.6 13.3 0.7"/><path d="M131.0 401.5L132.3 401.6L133.5 401.8L134.8 402.0L136.1 402.2L137.3 402.3L138.6 402.4L139.9 402.4L141.1 402.4L142.4 402.4L143.7 402.3L144.9 402.2L146.2 402.0L147.5 401.9L148.7 401.7L150.0 401.5" stroke="#e5b833" stroke-width="1.6" fill="none" stroke-dasharray="13.9 0.7 12.0 0.8"/><path d="M131.0 399.1L132.3 399.2L133.5 399.3L134.8 399.4L136.1 399.5L137.3 399.5L138.6 399.5L139.9 399.5L141.1 399.4L142.4 399.4L143.7 399.3L144.9 399.2L146.2 399.1L147.5 399.0L148.7 398.9L150.0 398.8" stroke="#e5b833" stroke-width="1.6" fill="none" stroke-dasharray="13.7 0.6 13.3 0.5"/><path d="M131.2 396.8L132.4 396.9L133.7 397.0L134.9 397.0L136.2 397.0L137.4 397.0L138.6 396.9L139.9 396.9L141.1 396.7L142.4 396.6L143.6 396.5L144.8 396.3L146.1 396.2L147.3 396.1L148.5 396.0L149.8 395.9" stroke="#e5b833" stroke-width="1.6" fill="none" stroke-dasharray="9.8 0.5 12.1 0.6 7.7 0.8"/><path d="M131.6 394.6L132.9 394.6L134.1 394.6L135.3 394.6L136.5 394.5L137.7 394.4L138.9 394.2L140.1 394.1L141.3 393.9L142.5 393.7L143.7 393.6L144.9 393.4L146.1 393.3L147.3 393.2L148.5 393.2L149.8 393.2" stroke="#e5b833" stroke-width="1.6" fill="none" stroke-dasharray="12.0 0.3 6.1 0.5 14.0 0.3"/><path d="M150.5 416.6L151.8 416.3L153.0 416.0L154.2 415.9L155.5 416.0L156.8 416.2L158.0 416.5" stroke="#e5b833" stroke-width="1.6" fill="none" stroke-dasharray="13.1 0.6"/><path d="M150.5 413.4L151.8 413.0L153.0 412.8L154.2 412.9L155.5 413.2L156.8 413.6L158.0 414.0" stroke="#e5b833" stroke-width="1.6" fill="none" stroke-dasharray="12.9 0.4"/><path d="M150.5 410.6L151.8 410.4L153.0 410.4L154.2 410.6L155.5 410.9L156.8 411.3L158.0 411.5" stroke="#e5b833" stroke-width="1.6" fill="none" stroke-dasharray="13.5 0.6"/><path d="M150.5 407.9L151.8 407.9L153.0 408.0L154.2 408.2L155.5 408.5L156.8 408.7L158.0 408.7" stroke="#e5b833" stroke-width="1.6" fill="none" stroke-dasharray="12.3 0.8"/><path d="M150.5 404.8L151.8 404.9L153.0 405.3L154.2 405.8L155.5 406.2L156.8 406.3L158.0 406.1" stroke="#e5b833" stroke-width="1.6" fill="none" stroke-dasharray="5.0 0.6 5.8 0.4"/><path d="M150.5 402.3L151.8 402.6L153.0 403.0L154.2 403.3L155.5 403.5L156.8 403.4L158.0 403.1" stroke="#e5b833" stroke-width="1.6" fill="none" stroke-dasharray="8.6 0.4 13.6 0.7"/><path d="M150.5 399.9L151.8 400.2L153.0 400.4L154.2 400.6L155.5 400.5L156.8 400.3L158.0 400.1" stroke="#e5b833" stroke-width="1.6" fill="none" stroke-dasharray="9.6 0.5"/><path d="M150.6 397.5L151.8 397.8L153.0 398.0L154.3 398.0L155.5 397.8L156.7 397.5L158.0 397.3" stroke="#e5b833" stroke-width="1.6" fill="none" stroke-dasharray="13.8 0.7"/><path d="M150.7 395.0L152.1 395.2L153.5 395.2L154.9 395.0L156.3 394.6L157.7 394.4" stroke="#e5b833" stroke-width="1.6" fill="none" stroke-dasharray="6.1 0.4 5.7 0.7"/><text x="277.7" y="198.1" font-family="Liberation Sans" font-size="9.6" fill="#d8c44e" text-anchor="middle">F:My throat is sore.</text><path d="M204.4 217.3H271.7" stroke="#dbc844" stroke-width="1.2"/><polygon points="212.00,217.30 212.43,216.41 212.85,215.38 213.27,214.54 213.70,213.46 214.16,213.87 214.62,214.12 215.08,214.30 215.54,214.39 216.00,214.49 216.42,213.60 216.83,212.96 217.25,212.33 217.67,211.15 218.08,210.61 218.50,209.82 218.91,209.12 219.33,208.76 219.74,208.71 220.16,207.44 220.57,207.85 220.99,207.38 221.40,206.28 221.87,207.18 222.33,208.39 222.80,208.70 223.15,213.30 223.50,217.30 223.50,217.30 223.15,221.93 222.80,226.35 222.33,227.51 221.87,227.67 221.40,229.33 220.99,228.16 220.57,228.37 220.16,227.57 219.74,226.32 219.33,226.24 218.91,225.57 218.50,225.41 218.08,224.73 217.67,223.79 217.25,223.02 216.83,222.29 216.42,221.75 216.00,221.25 215.54,221.09 215.08,221.09 214.62,221.20 214.16,220.93 213.70,221.12 213.27,220.21 212.85,219.20 212.43,218.28 212.00,217.30" fill="#dbc844"/><polygon points="226.80,217.30 227.05,214.60 227.30,212.22 227.73,211.44 228.15,211.59 228.57,211.37 229.00,211.09 229.40,210.57 229.80,211.00 230.20,210.61 230.60,210.72 231.00,210.14 231.40,210.65 231.80,210.44 232.20,209.86 232.60,209.99 233.00,210.25 233.40,208.63 233.80,208.43 234.20,207.58 234.60,206.37 235.00,205.87 235.50,207.52 236.00,209.88 236.46,210.12 236.92,209.84 237.38,209.55 237.84,210.03 238.30,209.69 238.71,210.01 239.12,210.18 239.54,210.72 239.95,211.08 240.36,211.02 240.78,211.16 241.19,211.69 241.60,212.17 242.01,211.41 242.42,211.28 242.82,210.84 243.23,210.97 243.64,210.10 244.05,210.12 244.46,209.34 244.87,209.61 245.28,209.54 245.68,208.92 246.09,208.18 246.50,207.85 246.93,208.19 247.35,209.29 247.77,209.37 248.20,210.29 248.45,213.73 248.70,217.30 248.70,217.30 248.45,221.31 248.20,224.68 247.77,225.09 247.35,225.71 246.93,225.49 246.50,225.54 246.09,225.26 245.68,225.95 245.28,225.39 244.87,225.33 244.46,225.58 244.05,225.62 243.64,224.95 243.23,224.94 242.82,225.62 242.42,225.32 242.01,224.73 241.60,224.87 241.19,225.68 240.78,224.93 240.36,225.36 239.95,225.89 239.54,225.95 239.12,225.82 238.71,225.74 238.30,226.40 237.84,225.66 237.38,226.08 236.92,226.09 236.46,226.53 236.00,225.60 235.50,226.24 235.00,225.92 234.60,226.49 234.20,225.77 233.80,226.47 233.40,226.05 233.00,226.05 232.60,225.57 232.20,225.64 231.80,225.79 231.40,225.46 231.00,225.57 230.60,225.20 230.20,225.74 229.80,225.16 229.40,225.67 229.00,225.35 228.57,224.84 228.15,225.04 227.73,224.47 227.30,224.16 227.05,220.85 226.80,217.30" fill="#dbc844"/><polygon points="252.00,217.30 252.30,213.51 252.60,209.80 253.15,209.13 253.70,208.01 254.16,208.49 254.61,208.61 255.07,208.88 255.53,209.85 255.99,210.46 256.44,210.63 256.90,210.85 257.30,211.85 257.70,212.64 258.10,213.34 258.50,213.82 258.93,214.73 259.35,215.70 259.77,216.48 260.20,217.30 260.20,217.30 259.77,218.24 259.35,219.27 258.93,220.00 258.50,221.20 258.10,221.84 257.70,222.39 257.30,223.33 256.90,223.95 256.44,224.06 255.99,224.57 255.53,224.93 255.07,225.24 254.61,224.87 254.16,225.13 253.70,225.68 253.15,225.51 252.60,224.90 252.30,221.35 252.00,217.30" fill="#dbc844"/><path d="M291 228H362.5" stroke="#dbc844" stroke-width="1.3" fill="none" opacity="0.85"/><path d="M291 228V196.7M362.5 228V196.7" stroke="#dbc844" stroke-width="0.8" fill="none" opacity="0.6"/><path d="M298.7 226.5L299.9 226.3L301.2 226.2L302.4 226.0L303.6 225.7L304.9 225.4L306.1 225.0L307.3 224.4L308.5 223.9L309.8 223.2L311.0 222.6" stroke="#dbc844" stroke-width="1.5" fill="none" stroke-dasharray="10.6 0.8 9.1 0.7"/><path d="M298.7 223.7L299.9 223.6L301.2 223.4L302.4 223.1L303.6 222.7L304.9 222.2L306.1 221.7L307.3 221.1L308.5 220.4L309.8 219.8L311.0 219.2" stroke="#dbc844" stroke-width="1.5" fill="none" stroke-dasharray="9.3 0.8 6.3 0.6"/><path d="M298.7 221.1L299.9 220.9L301.2 220.6L302.4 220.2L303.6 219.6L304.9 219.0L306.1 218.4L307.3 217.7L308.5 217.0L309.8 216.5L311.0 216.0" stroke="#dbc844" stroke-width="1.5" fill="none" stroke-dasharray="12.2 0.3 9.0 0.4"/><path d="M298.7 218.2L299.9 217.9L301.2 217.4L302.4 216.8L303.6 216.1L304.9 215.4L306.1 214.7L307.3 214.0L308.5 213.4L309.8 213.0L311.0 212.7" stroke="#dbc844" stroke-width="1.5" fill="none" stroke-dasharray="6.1 0.8 13.0 0.8"/><path d="M298.7 215.0L299.9 214.5L301.2 213.9L302.4 213.3L303.6 212.6L304.9 212.0L306.1 211.4L307.3 210.9L308.5 210.5L309.8 210.2L311.0 210.0" stroke="#dbc844" stroke-width="1.5" fill="none" stroke-dasharray="8.8 0.3 9.7 0.4"/><path d="M298.7 212.2L299.9 211.5L301.2 210.7L302.4 210.0L303.6 209.2L304.9 208.6L306.1 208.1L307.3 207.7L308.5 207.5L309.8 207.5L311.0 207.5" stroke="#dbc844" stroke-width="1.5" fill="none" stroke-dasharray="11.1 0.7 7.2 0.7"/><path d="M298.7 208.8L299.9 208.2L301.2 207.6L302.4 207.1L303.6 206.6L304.9 206.2L306.1 205.8L307.3 205.6L308.5 205.4L309.8 205.2L311.0 205.1" stroke="#dbc844" stroke-width="1.5" fill="none" stroke-dasharray="11.3 0.5 5.3 0.8"/><path d="M298.9 205.1L300.2 204.3L301.6 203.6L302.9 203.1L304.2 202.7L305.5 202.5L306.8 202.4L308.2 202.4L309.5 202.5L310.8 202.4" stroke="#dbc844" stroke-width="1.5" fill="none" stroke-dasharray="13.4 0.7 12.1 0.8"/><path d="M299.1 202.0L300.4 201.4L301.7 200.9L303.0 200.6L304.3 200.3L305.6 200.2L306.8 200.2L308.1 200.1L309.4 200.0L310.7 199.7" stroke="#dbc844" stroke-width="1.5" fill="none" stroke-dasharray="12.9 0.3 6.2 0.5"/><path d="M315.4 226.1L316.6 226.0L317.9 225.9L319.1 225.8L320.3 225.7L321.5 225.7L322.8 225.6L324.0 225.6L325.2 225.5L326.4 225.4L327.7 225.3L328.9 225.2L330.1 225.0L331.4 224.8L332.6 224.6L333.8 224.4L335.0 224.1L336.3 223.8L337.5 223.5" stroke="#dbc844" stroke-width="1.5" fill="none" stroke-dasharray="5.4 0.9 10.9 0.4 12.5 0.4"/><path d="M315.4 223.3L316.6 223.2L317.9 223.2L319.1 223.2L320.3 223.1L321.5 223.1L322.8 223.0L324.0 223.0L325.2 222.9L326.4 222.7L327.7 222.6L328.9 222.4L330.1 222.1L331.4 221.9L332.6 221.6L333.8 221.3L335.0 221.0L336.3 220.6L337.5 220.3" stroke="#dbc844" stroke-width="1.5" fill="none" stroke-dasharray="8.4 0.6 9.2 0.6 13.0 0.8"/><path d="M315.4 220.8L316.6 220.9L317.9 220.9L319.1 220.9L320.3 220.9L321.5 220.9L322.8 220.8L324.0 220.6L325.2 220.5L326.4 220.3L327.7 220.0L328.9 219.7L330.1 219.3L331.4 219.0L332.6 218.6L333.8 218.2L335.0 217.8L336.3 217.4L337.5 217.0" stroke="#dbc844" stroke-width="1.5" fill="none" stroke-dasharray="8.5 0.9 10.0 0.6 9.6 0.5"/><path d="M315.4 218.2L316.6 218.2L317.9 218.1L319.1 218.0L320.3 217.9L321.5 217.8L322.8 217.6L324.0 217.4L325.2 217.1L326.4 216.8L327.7 216.5L328.9 216.1L330.1 215.7L331.4 215.4L332.6 215.0L333.8 214.6L335.0 214.3L336.3 214.0L337.5 213.7" stroke="#dbc844" stroke-width="1.5" fill="none" stroke-dasharray="5.5 0.4 8.7 0.6 12.3 0.7 6.5 0.5"/><path d="M315.4 215.6L316.6 215.6L317.9 215.5L319.1 215.3L320.3 215.1L321.5 214.8L322.8 214.5L324.0 214.2L325.2 213.8L326.4 213.4L327.7 213.0L328.9 212.6L330.1 212.2L331.4 211.8L332.6 211.5L333.8 211.1L335.0 210.8L336.3 210.6L337.5 210.4" stroke="#dbc844" stroke-width="1.5" fill="none" stroke-dasharray="7.3 0.6 7.2 0.3 11.8 0.7 13.9 0.7"/><path d="M315.4 212.5L316.6 212.3L317.9 212.1L319.1 211.9L320.3 211.6L321.5 211.4L322.8 211.1L324.0 210.8L325.2 210.5L326.4 210.1L327.7 209.8L328.9 209.5L330.1 209.3L331.4 209.0L332.6 208.8L333.8 208.5L335.0 208.4L336.3 208.2L337.5 208.1" stroke="#dbc844" stroke-width="1.5" fill="none" stroke-dasharray="9.6 0.5 5.4 0.3 8.2 0.7 6.6 0.4"/><path d="M315.4 210.0L316.6 209.8L317.9 209.4L319.1 209.1L320.3 208.7L321.5 208.3L322.8 207.9L324.0 207.5L325.2 207.1L326.4 206.8L327.7 206.4L328.9 206.1L330.1 205.9L331.4 205.6L332.6 205.5L333.8 205.3L335.0 205.3L336.3 205.2L337.5 205.2" stroke="#dbc844" stroke-width="1.5" fill="none" stroke-dasharray="5.5 0.9 12.8 0.5 5.1 0.6 6.5 0.5"/><path d="M315.6 206.6L316.8 206.3L318.0 206.0L319.2 205.6L320.4 205.3L321.7 204.9L322.9 204.6L324.1 204.3L325.3 204.0L326.5 203.7L327.7 203.5L328.9 203.3L330.1 203.2L331.3 203.0L332.5 202.9L333.7 202.9L335.0 202.8L336.2 202.8L337.4 202.8" stroke="#dbc844" stroke-width="1.5" fill="none" stroke-dasharray="6.0 0.6 13.0 0.4 9.6 0.5"/><path d="M315.8 203.1L317.0 202.8L318.3 202.4L319.5 202.1L320.7 201.7L321.9 201.4L323.2 201.2L324.4 200.9L325.6 200.7L326.9 200.5L328.1 200.4L329.3 200.3L330.5 200.3L331.8 200.2L333.0 200.2L334.2 200.2L335.5 200.2L336.7 200.2" stroke="#dbc844" stroke-width="1.5" fill="none" stroke-dasharray="12.4 0.7 10.9 0.9 5.5 0.6"/><path d="M341.5 226.8L342.8 227.0L344.0 227.0L345.3 227.0L346.6 227.0L347.9 227.0L349.1 226.8L350.4 226.5L351.7 226.2L352.9 226.1L354.2 226.0" stroke="#dbc844" stroke-width="1.5" fill="none" stroke-dasharray="13.7 0.6 13.2 0.5"/><path d="M341.5 223.6L342.8 223.7L344.0 223.8L345.3 223.7L346.6 223.5L347.9 223.3L349.1 223.1L350.4 222.9L351.7 222.9L352.9 223.0L354.2 223.1" stroke="#dbc844" stroke-width="1.5" fill="none" stroke-dasharray="9.3 0.6 9.6 0.9"/><path d="M341.5 220.8L342.8 220.8L344.0 220.6L345.3 220.3L346.6 220.0L347.9 219.8L349.1 219.6L350.4 219.5L351.7 219.6L352.9 219.9L354.2 220.3" stroke="#dbc844" stroke-width="1.5" fill="none" stroke-dasharray="6.6 0.4 10.3 0.4"/><path d="M341.5 217.5L342.8 217.3L344.0 217.0L345.3 216.7L346.6 216.4L347.9 216.3L349.1 216.3L350.4 216.4L351.7 216.7L352.9 217.2L354.2 217.7" stroke="#dbc844" stroke-width="1.5" fill="none" stroke-dasharray="7.2 0.6 5.1 0.7 9.1 0.6"/><path d="M341.5 214.0L342.8 213.9L344.0 213.8L345.3 213.8L346.6 213.8L347.9 213.8L349.1 214.0L350.4 214.3L351.7 214.6L352.9 214.9L354.2 215.3" stroke="#dbc844" stroke-width="1.5" fill="none" stroke-dasharray="8.1 0.8 6.1 0.5 5.7 0.8"/><path d="M341.5 210.5L342.8 210.3L344.0 210.3L345.3 210.2L346.6 210.4L347.9 210.6L349.1 210.9L350.4 211.2L351.7 211.7L352.9 212.1L354.2 212.4" stroke="#dbc844" stroke-width="1.5" fill="none" stroke-dasharray="7.1 0.9 8.0 0.7"/><path d="M341.5 207.1L342.8 207.0L344.0 207.0L345.3 207.2L346.6 207.4L347.9 207.8L349.1 208.2L350.4 208.6L351.7 209.0L352.9 209.4L354.2 209.6" stroke="#dbc844" stroke-width="1.5" fill="none" stroke-dasharray="9.5 0.6 10.7 0.8"/><path d="M341.8 203.4L343.0 203.4L344.2 203.6L345.5 203.9L346.7 204.4L347.9 204.9L349.1 205.4L350.4 205.9L351.6 206.3L352.8 206.6L354.0 206.7" stroke="#dbc844" stroke-width="1.5" fill="none" stroke-dasharray="6.0 0.7 5.4 0.9 9.3 0.5"/><path d="M342.1 200.6L343.4 200.9L344.7 201.3L346.0 201.9L347.3 202.4L348.7 203.0L350.0 203.4L351.3 203.7L352.6 203.8L353.9 203.7" stroke="#dbc844" stroke-width="1.5" fill="none" stroke-dasharray="11.9 0.4 11.3 0.6"/><text x="277.0" y="244.1" font-family="Liberation Sans" font-size="9.6" fill="#a9bc74" text-anchor="middle">G:Who&#39;s that man?</text><path d="M207.1 262H265.7" stroke="#a2bd62" stroke-width="1.2"/><polygon points="220.30,262.00 220.65,256.76 221.00,251.54 221.40,250.69 221.80,250.52 222.20,249.99 222.60,248.81 223.00,247.81 223.53,248.12 224.07,249.02 224.60,249.19 225.07,251.02 225.53,252.96 226.00,254.73 226.40,258.54 226.80,262.00 226.80,262.00 226.40,267.32 226.00,272.53 225.53,273.88 225.07,275.56 224.60,278.34 224.07,277.35 223.53,276.13 223.00,274.40 222.60,275.11 222.20,274.06 221.80,273.54 221.40,272.50 221.00,272.68 220.65,267.24 220.30,262.00" fill="#a2bd62"/><polygon points="238.10,262.00 238.25,258.13 238.40,254.33 238.95,253.97 239.50,253.54 239.90,253.68 240.30,253.69 240.70,253.79 241.10,253.28 241.50,253.61 241.65,258.14 241.80,262.00 241.80,262.00 241.65,266.86 241.50,271.26 241.10,271.33 240.70,271.40 240.30,272.43 239.90,272.33 239.50,272.83 238.95,271.73 238.40,271.05 238.25,266.61 238.10,262.00" fill="#a2bd62"/><polygon points="246.00,262.00 246.25,258.82 246.50,255.71 246.93,255.50 247.35,255.19 247.77,253.90 248.20,253.28 248.66,254.59 249.12,255.03 249.58,255.30 250.04,255.59 250.50,255.78 250.90,256.56 251.30,257.05 251.70,257.59 252.10,258.50 252.50,259.03 252.93,259.60 253.35,260.47 253.77,261.24 254.20,262.00 254.20,262.00 253.77,262.48 253.35,263.03 252.93,263.60 252.50,264.01 252.10,264.41 251.70,264.87 251.30,265.18 250.90,265.78 250.50,266.06 250.04,266.15 249.58,266.29 249.12,266.43 248.66,266.93 248.20,266.81 247.77,267.03 247.35,267.09 246.93,267.11 246.50,267.28 246.25,264.60 246.00,262.00" fill="#a2bd62"/><path d="M293.7 276H354.8" stroke="#a2bd62" stroke-width="1.3" fill="none" opacity="0.85"/><path d="M293.7 276V244.6M354.8 276V244.6" stroke="#a2bd62" stroke-width="0.8" fill="none" opacity="0.6"/><path d="M307.0 274.6L308.3 274.4L309.6 274.2L310.9 274.1L312.2 274.2L313.5 274.4L314.8 274.6" stroke="#a2bd62" stroke-width="1.7" fill="none" stroke-dasharray="10.9 0.7"/><path d="M307.0 271.7L308.3 271.5L309.6 271.4L310.9 271.5L312.2 271.6L313.5 271.9L314.8 272.1" stroke="#a2bd62" stroke-width="1.7" fill="none" stroke-dasharray="8.4 0.5 9.3 0.4"/><path d="M307.0 269.0L308.3 268.9L309.6 269.0L310.9 269.1L312.2 269.3L313.5 269.5L314.8 269.7" stroke="#a2bd62" stroke-width="1.7" fill="none" stroke-dasharray="6.4 0.5 6.7 0.7"/><path d="M307.0 266.4L308.3 266.5L309.6 266.6L310.9 266.7L312.2 266.9L313.5 267.0L314.8 267.1" stroke="#a2bd62" stroke-width="1.7" fill="none" stroke-dasharray="13.4 0.4"/><path d="M307.0 263.7L308.3 263.8L309.6 264.0L310.9 264.2L312.2 264.4L313.5 264.5L314.8 264.5" stroke="#a2bd62" stroke-width="1.7" fill="none" stroke-dasharray="5.5 0.8 11.4 0.5"/><path d="M307.0 260.8L308.3 261.0L309.6 261.3L310.9 261.4L312.2 261.5L313.5 261.5L314.8 261.4" stroke="#a2bd62" stroke-width="1.7" fill="none" stroke-dasharray="5.7 0.9 13.9 0.4"/><path d="M307.0 258.2L308.3 258.4L309.6 258.6L310.9 258.6L312.2 258.6L313.5 258.5L314.8 258.3" stroke="#a2bd62" stroke-width="1.7" fill="none" stroke-dasharray="6.1 0.5 8.0 0.7"/><path d="M307.0 255.6L308.3 255.7L309.6 255.8L310.9 255.8L312.2 255.7L313.5 255.6L314.8 255.4" stroke="#a2bd62" stroke-width="1.7" fill="none" stroke-dasharray="8.3 0.8 12.5 0.9"/><path d="M307.1 252.9L308.4 253.0L309.6 252.9L310.9 252.8L312.2 252.7L313.4 252.5L314.7 252.3" stroke="#a2bd62" stroke-width="1.7" fill="none" stroke-dasharray="9.6 0.3 6.0 0.8"/><path d="M307.2 250.1L308.4 250.1L309.6 250.0L310.9 249.8L312.1 249.7L313.3 249.5L314.5 249.4" stroke="#a2bd62" stroke-width="1.7" fill="none" stroke-dasharray="12.6 0.3"/><path d="M326.5 274.9L327.9 274.9L329.2 274.6L330.6 274.4L332.0 274.3" stroke="#a2bd62" stroke-width="1.7" fill="none" stroke-dasharray="11.7 0.4"/><path d="M326.5 272.3L327.9 272.1L329.2 271.8L330.6 271.5L332.0 271.5" stroke="#a2bd62" stroke-width="1.7" fill="none" stroke-dasharray="6.2 0.8 13.4 0.3"/><path d="M326.5 269.2L327.9 269.0L329.2 268.7L330.6 268.6L332.0 268.7" stroke="#a2bd62" stroke-width="1.7" fill="none" stroke-dasharray="6.5 0.7 13.0 0.3"/><path d="M326.5 266.3L327.9 266.0L329.2 265.8L330.6 265.9L332.0 266.2" stroke="#a2bd62" stroke-width="1.7" fill="none" stroke-dasharray="8.3 0.4"/><path d="M326.5 263.5L327.9 263.2L329.2 263.2L330.6 263.4L332.0 263.8" stroke="#a2bd62" stroke-width="1.7" fill="none" stroke-dasharray="12.4 0.7"/><path d="M326.5 260.5L327.9 260.4L329.2 260.5L330.6 260.7L332.0 260.9" stroke="#a2bd62" stroke-width="1.7" fill="none" stroke-dasharray="9.5 0.7"/><path d="M326.5 257.8L327.9 257.9L329.2 258.1L330.6 258.4L332.0 258.6" stroke="#a2bd62" stroke-width="1.7" fill="none" stroke-dasharray="10.0 0.4"/><path d="M326.6 255.0L327.9 255.1L329.3 255.4L330.6 255.7L332.0 255.7" stroke="#a2bd62" stroke-width="1.7" fill="none" stroke-dasharray="13.0 0.5"/><path d="M326.6 252.2L327.9 252.4L329.3 252.6L330.6 252.7L331.9 252.6" stroke="#a2bd62" stroke-width="1.7" fill="none" stroke-dasharray="13.9 0.3"/><path d="M334.8 274.8L336.0 274.7L337.2 274.6L338.4 274.5L339.6 274.4L340.9 274.3L342.1 274.3L343.3 274.4L344.5 274.4" stroke="#a2bd62" stroke-width="1.7" fill="none" stroke-dasharray="9.8 0.5 6.7 0.4"/><path d="M334.8 272.0L336.0 271.9L337.2 271.7L338.4 271.6L339.6 271.6L340.9 271.6L342.1 271.6L343.3 271.7L344.5 271.9" stroke="#a2bd62" stroke-width="1.7" fill="none" stroke-dasharray="12.8 0.7"/><path d="M334.8 269.4L336.0 269.3L337.2 269.2L338.4 269.2L339.6 269.2L340.9 269.2L342.1 269.3L343.3 269.4L344.5 269.5" stroke="#a2bd62" stroke-width="1.7" fill="none" stroke-dasharray="7.2 0.3 10.9 0.5"/><path d="M334.8 266.2L336.0 266.1L337.2 266.1L338.4 266.1L339.6 266.2L340.9 266.3L342.1 266.5L343.3 266.7L344.5 266.8" stroke="#a2bd62" stroke-width="1.7" fill="none" stroke-dasharray="11.6 0.6 8.8 0.8"/><path d="M334.8 263.7L336.0 263.7L337.2 263.7L338.4 263.8L339.6 263.9L340.9 264.0L342.1 264.1L343.3 264.2L344.5 264.2" stroke="#a2bd62" stroke-width="1.7" fill="none" stroke-dasharray="10.0 0.5 11.7 0.8"/><path d="M334.8 261.0L336.0 261.1L337.2 261.2L338.4 261.4L339.6 261.5L340.9 261.7L342.1 261.8L343.3 261.9L344.5 261.9" stroke="#a2bd62" stroke-width="1.7" fill="none" stroke-dasharray="9.3 0.8 8.8 0.8"/><path d="M334.8 258.2L336.0 258.3L337.2 258.5L338.4 258.6L339.6 258.8L340.9 258.9L342.1 258.9L343.3 258.9L344.5 258.8" stroke="#a2bd62" stroke-width="1.7" fill="none" stroke-dasharray="7.1 0.6 13.1 0.8"/><path d="M334.8 255.5L336.0 255.6L337.2 255.8L338.4 255.9L339.6 256.0L340.9 256.0L342.1 256.0L343.3 255.9L344.5 255.7" stroke="#a2bd62" stroke-width="1.7" fill="none" stroke-dasharray="8.1 0.6 6.9 0.5"/><path d="M334.9 253.0L336.2 253.1L337.6 253.2L338.9 253.2L340.3 253.2L341.6 253.1L342.9 253.0L344.3 252.9" stroke="#a2bd62" stroke-width="1.7" fill="none" stroke-dasharray="13.9 0.4"/><path d="M335.0 250.6L336.3 250.7L337.7 250.7L339.0 250.7L340.3 250.6L341.7 250.4L343.0 250.2L344.3 250.1" stroke="#a2bd62" stroke-width="1.7" fill="none" stroke-dasharray="13.2 0.5"/><text x="277.7" y="291.1" font-family="Liberation Sans" font-size="9.6" fill="#adc07c" text-anchor="middle">H:He&#39;s my teacher.</text><path d="M202.7 310.7H270.1" stroke="#6e9c4b" stroke-width="1.2"/><polygon points="218.10,310.70 218.25,306.41 218.40,302.16 218.82,301.73 219.24,301.53 219.66,300.65 220.08,300.41 220.50,299.42 220.95,299.11 221.40,298.22 221.87,297.93 222.33,299.11 222.80,300.22 223.00,305.11 223.20,310.70 223.20,310.70 223.00,314.66 222.80,319.24 222.33,319.39 221.87,320.60 221.40,321.49 220.95,320.43 220.50,319.84 220.08,320.22 219.66,318.82 219.24,318.89 218.82,318.62 218.40,317.91 218.25,314.46 218.10,310.70" fill="#6e9c4b"/><polygon points="224.10,310.70 224.30,304.15 224.50,297.74 224.85,297.77 225.20,296.99 225.61,297.38 226.02,297.00 226.44,298.20 226.85,297.91 227.26,298.15 227.68,297.68 228.09,297.59 228.50,298.27 228.93,297.10 229.36,297.93 229.79,298.42 230.22,297.25 230.65,298.15 231.08,298.24 231.51,297.75 231.94,297.41 232.37,297.71 232.80,297.51 233.21,297.76 233.62,297.32 234.04,296.53 234.45,297.25 234.86,296.73 235.28,297.26 235.69,297.33 236.10,296.94 236.53,298.11 236.97,298.16 237.40,298.57 237.60,304.83 237.80,310.70 237.80,310.70 237.60,315.84 237.40,321.70 236.97,321.63 236.53,322.87 236.10,323.04 235.69,323.33 235.28,322.85 234.86,322.42 234.45,322.90 234.04,323.39 233.62,322.88 233.21,323.36 232.80,324.08 232.37,323.09 231.94,323.22 231.51,323.30 231.08,323.43 230.65,324.49 230.22,324.59 229.79,324.13 229.36,324.77 228.93,324.74 228.50,324.08 228.09,324.32 227.68,324.12 227.26,323.79 226.85,323.02 226.44,323.10 226.02,324.10 225.61,322.92 225.20,323.42 224.85,322.40 224.50,321.78 224.30,316.63 224.10,310.70" fill="#6e9c4b"/><polygon points="242.20,310.70 242.45,305.31 242.70,300.30 243.15,298.15 243.60,296.36 244.00,298.20 244.40,299.04 244.80,300.12 245.10,305.16 245.40,310.70 245.40,310.70 245.10,313.92 244.80,317.19 244.40,317.25 244.00,317.86 243.60,319.15 243.15,318.22 242.70,316.71 242.45,314.04 242.20,310.70" fill="#6e9c4b"/><polygon points="247.30,310.70 247.65,306.03 248.00,300.98 248.43,300.18 248.87,299.01 249.30,299.04 249.75,299.99 250.20,299.65 250.65,300.72 251.10,301.95 251.55,302.67 252.00,303.02 252.42,303.80 252.83,304.36 253.25,305.09 253.67,305.36 254.08,306.12 254.50,306.88 254.97,308.03 255.45,308.76 255.92,309.78 256.40,310.70 256.40,310.70 255.92,311.79 255.45,312.83 254.97,314.03 254.50,315.03 254.08,316.12 253.67,316.46 253.25,317.24 252.83,318.34 252.42,319.10 252.00,320.08 251.55,321.38 251.10,321.46 250.65,323.46 250.20,323.00 249.75,324.27 249.30,325.91 248.87,325.10 248.43,323.72 248.00,321.63 247.65,316.18 247.30,310.70" fill="#6e9c4b"/><path d="M290.4 321.6H361.1" stroke="#6e9c4b" stroke-width="1.3" fill="none" opacity="0.85"/><path d="M290.4 321.6V291.1M361.1 321.6V291.1" stroke="#6e9c4b" stroke-width="0.8" fill="none" opacity="0.6"/><path d="M305.7 319.8L307.0 319.7L308.2 319.6L309.5 319.7L310.7 319.9L312.0 320.1L313.2 320.4L314.5 320.6L315.7 320.6L317.0 320.6" stroke="#6e9c4b" stroke-width="1.8" fill="none" stroke-dasharray="5.3 0.5 6.2 0.4 5.5 0.8"/><path d="M305.7 316.9L307.0 316.9L308.2 317.0L309.5 317.2L310.7 317.5L312.0 317.7L313.2 318.0L314.5 318.1L315.7 318.1L317.0 318.1" stroke="#6e9c4b" stroke-width="1.8" fill="none" stroke-dasharray="9.1 0.8 5.8 0.4"/><path d="M305.7 314.4L307.0 314.6L308.2 314.8L309.5 315.0L310.7 315.3L312.0 315.4L313.2 315.6L314.5 315.6L315.7 315.5L317.0 315.3" stroke="#6e9c4b" stroke-width="1.8" fill="none" stroke-dasharray="13.9 0.9"/><path d="M305.7 312.1L307.0 312.3L308.2 312.5L309.5 312.7L310.7 312.9L312.0 313.0L313.2 313.0L314.5 312.9L315.7 312.7L317.0 312.5" stroke="#6e9c4b" stroke-width="1.8" fill="none" stroke-dasharray="9.6 0.4 5.5 0.5"/><path d="M305.7 309.6L307.0 309.8L308.2 310.0L309.5 310.1L310.7 310.2L312.0 310.1L313.2 310.0L314.5 309.9L315.7 309.7L317.0 309.5" stroke="#6e9c4b" stroke-width="1.8" fill="none" stroke-dasharray="13.6 0.7 13.8 0.6"/><path d="M305.7 307.2L307.0 307.5L308.2 307.7L309.5 307.8L310.7 307.7L312.0 307.5L313.2 307.3L314.5 306.9L315.7 306.6L317.0 306.4" stroke="#6e9c4b" stroke-width="1.8" fill="none" stroke-dasharray="5.2 0.4 7.6 0.4 8.9 0.8"/><path d="M305.7 304.7L307.0 304.8L308.2 304.9L309.5 304.8L310.7 304.7L312.0 304.6L313.2 304.4L314.5 304.2L315.7 304.1L317.0 304.0" stroke="#6e9c4b" stroke-width="1.8" fill="none" stroke-dasharray="5.4 0.8 13.4 0.7"/><path d="M305.7 302.3L307.0 302.3L308.2 302.2L309.5 302.0L310.7 301.7L312.0 301.4L313.2 301.2L314.5 301.0L315.7 300.9L317.0 300.9" stroke="#6e9c4b" stroke-width="1.8" fill="none" stroke-dasharray="12.9 0.7 13.5 0.8"/><path d="M305.9 299.5L307.1 299.4L308.3 299.2L309.5 298.9L310.7 298.7L311.9 298.4L313.2 298.3L314.4 298.2L315.6 298.2L316.8 298.4" stroke="#6e9c4b" stroke-width="1.8" fill="none" stroke-dasharray="6.3 0.5 12.4 0.5"/><path d="M306.2 296.3L307.5 296.1L308.8 295.9L310.1 295.7L311.4 295.5L312.8 295.5L314.1 295.5L315.4 295.6L316.7 295.8" stroke="#6e9c4b" stroke-width="1.8" fill="none" stroke-dasharray="10.7 0.8 12.9 0.8"/><path d="M317.5 319.7L318.8 319.7L320.1 319.7L321.4 319.9L322.7 320.0L324.0 320.3L325.3 320.5L326.6 320.6L327.9 320.6L329.2 320.6" stroke="#6e9c4b" stroke-width="1.8" fill="none" stroke-dasharray="9.0 0.7 6.0 0.7"/><path d="M317.5 316.7L318.8 316.8L320.1 316.9L321.4 317.2L322.7 317.4L324.0 317.6L325.3 317.8L326.6 317.9L327.9 317.9L329.2 317.8" stroke="#6e9c4b" stroke-width="1.8" fill="none" stroke-dasharray="9.2 0.5 11.2 0.7"/><path d="M317.5 313.9L318.8 314.1L320.1 314.4L321.4 314.7L322.7 314.9L324.0 315.1L325.3 315.2L326.6 315.1L327.9 315.0L329.2 314.7" stroke="#6e9c4b" stroke-width="1.8" fill="none" stroke-dasharray="7.3 0.6 8.5 0.3"/><path d="M317.5 311.5L318.8 311.7L320.1 311.9L321.4 312.0L322.7 312.1L324.0 312.2L325.3 312.1L326.6 312.0L327.9 311.8L329.2 311.6" stroke="#6e9c4b" stroke-width="1.8" fill="none" stroke-dasharray="5.6 0.6 9.9 0.4"/><path d="M317.5 308.8L318.8 309.1L320.1 309.4L321.4 309.5L322.7 309.6L324.0 309.5L325.3 309.2L326.6 308.9L327.9 308.6L329.2 308.3" stroke="#6e9c4b" stroke-width="1.8" fill="none" stroke-dasharray="8.8 0.8 13.4 0.6"/><path d="M317.5 306.3L318.8 306.5L320.1 306.5L321.4 306.5L322.7 306.5L324.0 306.3L325.3 306.1L326.6 305.8L327.9 305.6L329.2 305.5" stroke="#6e9c4b" stroke-width="1.8" fill="none" stroke-dasharray="8.0 0.3 13.7 0.3"/><path d="M317.5 303.7L318.8 303.8L320.1 303.8L321.4 303.7L322.7 303.5L324.0 303.2L325.3 303.0L326.6 302.8L327.9 302.6L329.2 302.6" stroke="#6e9c4b" stroke-width="1.8" fill="none" stroke-dasharray="6.1 0.4 12.5 0.3"/><path d="M317.6 301.1L318.9 301.1L320.2 301.0L321.4 300.8L322.7 300.6L324.0 300.4L325.2 300.3L326.5 300.2L327.8 300.2L329.0 300.2" stroke="#6e9c4b" stroke-width="1.8" fill="none" stroke-dasharray="13.6 0.4 5.1 0.7"/><path d="M317.9 298.1L319.1 298.0L320.3 297.8L321.5 297.7L322.7 297.5L324.0 297.4L325.2 297.3L326.4 297.3L327.6 297.4L328.8 297.5" stroke="#6e9c4b" stroke-width="1.8" fill="none" stroke-dasharray="10.0 0.7 7.5 0.8"/><path d="M332.0 319.9L333.4 320.6L334.8 320.6L336.2 320.0" stroke="#6e9c4b" stroke-width="1.8" fill="none" stroke-dasharray="13.5 0.4"/><path d="M332.0 317.6L333.4 318.1L334.8 317.8L336.2 317.1" stroke="#6e9c4b" stroke-width="1.8" fill="none" stroke-dasharray="6.6 0.6"/><path d="M332.0 315.3L333.4 315.5L334.8 315.0L336.2 314.5" stroke="#6e9c4b" stroke-width="1.8" fill="none" stroke-dasharray="8.3 0.7"/><path d="M332.0 313.1L333.4 312.9L334.8 312.2L336.2 311.9" stroke="#6e9c4b" stroke-width="1.8" fill="none" stroke-dasharray="7.7 0.5"/><path d="M332.0 310.8L333.4 310.2L334.8 309.4L336.2 309.4" stroke="#6e9c4b" stroke-width="1.8" fill="none" stroke-dasharray="10.5 0.7"/><path d="M332.0 307.8L333.4 307.3L334.8 307.0L336.2 307.3" stroke="#6e9c4b" stroke-width="1.8" fill="none" stroke-dasharray="6.8 0.8"/><path d="M332.0 305.1L333.4 304.5L334.8 304.3L336.2 304.9" stroke="#6e9c4b" stroke-width="1.8" fill="none" stroke-dasharray="5.9 0.7"/><path d="M332.0 302.2L333.4 301.7L334.8 301.9L336.2 302.5" stroke="#6e9c4b" stroke-width="1.8" fill="none" stroke-dasharray="7.4 0.6"/><path d="M332.1 299.3L333.4 299.1L334.8 299.5L336.1 299.9" stroke="#6e9c4b" stroke-width="1.8" fill="none" stroke-dasharray="12.5 0.6"/><path d="M337.0 319.5L338.3 319.4L339.6 319.5L340.9 319.6L342.2 319.9L343.5 320.2L344.8 320.6L346.1 320.6L347.4 320.6L348.7 320.6" stroke="#6e9c4b" stroke-width="1.8" fill="none" stroke-dasharray="9.3 0.6 10.7 0.9"/><path d="M337.0 316.7L338.3 316.8L339.6 317.0L340.9 317.2L342.2 317.5L343.5 317.8L344.8 318.1L346.1 318.2L347.4 318.2L348.7 318.0" stroke="#6e9c4b" stroke-width="1.8" fill="none" stroke-dasharray="13.2 0.5 7.7 0.6"/><path d="M337.0 314.6L338.3 314.7L339.6 314.9L340.9 315.1L342.2 315.2L343.5 315.4L344.8 315.4L346.1 315.4L347.4 315.3L348.7 315.2" stroke="#6e9c4b" stroke-width="1.8" fill="none" stroke-dasharray="13.8 0.4 5.4 0.7"/><path d="M337.0 311.8L338.3 312.0L339.6 312.2L340.9 312.3L342.2 312.4L343.5 312.5L344.8 312.5L346.1 312.4L347.4 312.2L348.7 312.0" stroke="#6e9c4b" stroke-width="1.8" fill="none" stroke-dasharray="10.8 0.8 11.0 0.9"/><path d="M337.0 309.4L338.3 309.7L339.6 310.0L340.9 310.1L342.2 310.2L343.5 310.1L344.8 309.9L346.1 309.6L347.4 309.4L348.7 309.1" stroke="#6e9c4b" stroke-width="1.8" fill="none" stroke-dasharray="11.5 0.8 10.2 0.7"/><path d="M337.0 307.1L338.3 307.4L339.6 307.5L340.9 307.6L342.2 307.4L343.5 307.2L344.8 306.9L346.1 306.6L347.4 306.4L348.7 306.2" stroke="#6e9c4b" stroke-width="1.8" fill="none" stroke-dasharray="10.4 0.6 13.3 0.7"/><path d="M337.0 304.6L338.3 304.7L339.6 304.7L340.9 304.6L342.2 304.4L343.5 304.1L344.8 303.9L346.1 303.6L347.4 303.4L348.7 303.4" stroke="#6e9c4b" stroke-width="1.8" fill="none" stroke-dasharray="7.8 0.7 6.3 0.8"/><path d="M337.1 301.9L338.3 301.8L339.6 301.7L340.9 301.5L342.2 301.2L343.5 301.0L344.7 300.7L346.0 300.6L347.3 300.6L348.6 300.6" stroke="#6e9c4b" stroke-width="1.8" fill="none" stroke-dasharray="11.7 0.8 11.5 0.6"/><path d="M337.4 299.1L338.6 299.0L339.8 298.8L341.0 298.6L342.3 298.4L343.5 298.3L344.7 298.2L345.9 298.2L347.2 298.2L348.4 298.4" stroke="#6e9c4b" stroke-width="1.8" fill="none" stroke-dasharray="7.1 0.4 9.4 0.7"/><text x="278.6" y="336.5" font-family="Liberation Sans" font-size="9.6" fill="#568a40" text-anchor="middle">I:Why do you like winter?</text><path d="M200.1 354.7H273.9" stroke="#4c8638" stroke-width="1.2"/><polygon points="218.10,354.70 218.55,348.96 219.00,342.61 219.41,342.54 219.83,341.63 220.24,340.43 220.66,339.22 221.07,339.38 221.49,338.31 221.90,336.24 222.33,338.06 222.77,339.18 223.20,340.33 223.63,341.99 224.07,342.01 224.50,343.33 225.00,347.37 225.50,351.27 226.00,354.70 226.00,354.70 225.50,359.13 225.00,363.23 224.50,368.21 224.07,368.27 223.63,369.84 223.20,369.98 222.77,371.37 222.33,371.91 221.90,372.31 221.49,370.94 221.07,371.65 220.66,369.53 220.24,368.77 219.83,368.23 219.41,367.41 219.00,365.66 218.55,360.31 218.10,354.70" fill="#4c8638"/><polygon points="228.10,354.70 228.30,349.02 228.50,342.21 229.00,342.56 229.50,342.71 229.92,342.12 230.34,342.31 230.76,341.44 231.19,341.30 231.61,341.43 232.03,341.52 232.45,341.64 232.87,342.38 233.29,341.43 233.71,341.79 234.14,341.91 234.56,341.43 234.98,341.89 235.40,340.68 235.81,341.33 236.23,341.14 236.64,342.18 237.06,342.34 237.47,342.17 237.89,342.19 238.30,341.67 238.71,341.55 239.13,341.23 239.54,342.49 239.96,341.92 240.37,341.72 240.79,342.13 241.20,342.69 241.66,342.87 242.12,343.21 242.58,342.97 243.04,343.41 243.50,342.55 244.00,348.84 244.50,354.70 244.50,354.70 244.00,360.43 243.50,366.68 243.04,366.03 242.58,366.44 242.12,366.58 241.66,366.84 241.20,367.11 240.79,366.86 240.37,367.73 239.96,366.71 239.54,366.69 239.13,367.29 238.71,367.50 238.30,367.91 237.89,366.88 237.47,367.90 237.06,368.06 236.64,368.02 236.23,367.28 235.81,367.42 235.40,368.09 234.98,367.63 234.56,367.30 234.14,366.86 233.71,366.93 233.29,366.18 232.87,366.11 232.45,366.08 232.03,365.73 231.61,365.12 231.19,365.77 230.76,364.70 230.34,364.95 229.92,364.71 229.50,364.34 229.00,363.96 228.50,364.48 228.30,359.41 228.10,354.70" fill="#4c8638"/><polygon points="248.50,354.70 248.75,350.14 249.00,345.59 249.42,344.99 249.84,344.69 250.26,344.47 250.68,344.09 251.10,343.34 251.50,344.16 251.90,344.36 252.30,344.71 252.70,345.43 253.10,345.82 253.50,346.29 253.80,350.36 254.10,354.70 254.10,354.70 253.80,357.77 253.50,361.45 253.10,361.02 252.70,361.84 252.30,362.02 251.90,361.75 251.50,362.39 251.10,362.48 250.68,362.59 250.26,362.57 249.84,362.48 249.42,361.77 249.00,362.17 248.75,358.22 248.50,354.70" fill="#4c8638"/><polygon points="257.00,354.70 257.25,349.33 257.50,343.43 257.85,343.18 258.20,342.98 258.63,343.49 259.07,344.98 259.50,346.26 259.70,350.16 259.90,354.70 259.90,354.70 259.70,358.30 259.50,362.48 259.07,362.80 258.63,363.20 258.20,364.28 257.85,363.82 257.50,362.92 257.25,358.75 257.00,354.70" fill="#4c8638"/><path d="M286.2 369H364.7" stroke="#4c8638" stroke-width="1.3" fill="none" opacity="0.85"/><path d="M286.2 369V338.5M364.7 369V338.5" stroke="#4c8638" stroke-width="0.8" fill="none" opacity="0.6"/><path d="M304.3 368.0L305.6 368.0L306.8 368.0L308.1 368.0L309.4 368.0L310.7 367.8L311.9 367.4L313.2 367.0" stroke="#4c8638" stroke-width="1.5" fill="none" stroke-dasharray="11.5 0.5"/><path d="M304.3 365.6L305.6 365.6L306.8 365.5L308.1 365.3L309.4 364.9L310.7 364.5L311.9 364.1L313.2 363.8" stroke="#4c8638" stroke-width="1.5" fill="none" stroke-dasharray="8.6 0.7 6.9 0.8"/><path d="M304.3 362.9L305.6 362.8L306.8 362.4L308.1 362.0L309.4 361.5L310.7 361.1L311.9 360.9L313.2 360.8" stroke="#4c8638" stroke-width="1.5" fill="none" stroke-dasharray="9.3 0.6 8.8 0.6"/><path d="M304.3 359.9L305.6 359.5L306.8 359.1L308.1 358.6L309.4 358.2L310.7 357.9L311.9 357.9L313.2 358.1" stroke="#4c8638" stroke-width="1.5" fill="none" stroke-dasharray="8.7 0.8 12.5 0.3"/><path d="M304.3 356.3L305.6 355.9L306.8 355.4L308.1 355.0L309.4 354.8L310.7 354.8L311.9 355.0L313.2 355.3" stroke="#4c8638" stroke-width="1.5" fill="none" stroke-dasharray="12.5 0.7"/><path d="M304.3 353.1L305.6 352.6L306.8 352.3L308.1 352.1L309.4 352.1L310.7 352.3L311.9 352.7L313.2 353.1" stroke="#4c8638" stroke-width="1.5" fill="none" stroke-dasharray="6.7 0.5 5.2 0.5"/><path d="M304.3 349.6L305.6 349.3L306.8 349.1L308.1 349.2L309.4 349.4L310.7 349.7L311.9 350.2L313.2 350.6" stroke="#4c8638" stroke-width="1.5" fill="none" stroke-dasharray="5.9 0.5 12.0 0.9"/><path d="M304.4 346.4L305.6 346.3L306.9 346.4L308.1 346.5L309.4 346.8L310.6 347.1L311.8 347.3L313.1 347.5" stroke="#4c8638" stroke-width="1.5" fill="none" stroke-dasharray="10.0 0.3 5.8 0.8"/><path d="M304.7 342.9L306.1 343.0L307.4 343.3L308.8 343.7L310.1 344.2L311.5 344.5L312.8 344.6" stroke="#4c8638" stroke-width="1.5" fill="none" stroke-dasharray="11.9 0.6"/><path d="M315.4 368.0L316.7 368.0L318.0 368.0L319.2 368.0L320.5 368.0L321.8 368.0L323.1 368.0L324.3 368.0L325.6 367.9L326.9 367.7L328.2 367.6L329.4 367.4L330.7 367.2L332.0 367.1" stroke="#4c8638" stroke-width="1.5" fill="none" stroke-dasharray="12.5 0.8 12.1 0.8"/><path d="M315.4 365.3L316.7 365.3L318.0 365.3L319.2 365.3L320.5 365.2L321.8 365.1L323.1 364.9L324.3 364.7L325.6 364.6L326.9 364.4L328.2 364.3L329.4 364.1L330.7 364.0L332.0 363.9" stroke="#4c8638" stroke-width="1.5" fill="none" stroke-dasharray="8.6 0.7 11.3 0.7 7.3 0.9"/><path d="M315.4 362.4L316.7 362.3L318.0 362.3L319.2 362.1L320.5 362.0L321.8 361.8L323.1 361.6L324.3 361.5L325.6 361.3L326.9 361.2L328.2 361.1L329.4 361.0L330.7 361.0L332.0 361.0" stroke="#4c8638" stroke-width="1.5" fill="none" stroke-dasharray="11.1 0.7 5.0 0.6 11.5 0.7"/><path d="M315.4 359.6L316.7 359.5L318.0 359.3L319.2 359.1L320.5 358.9L321.8 358.7L323.1 358.5L324.3 358.3L325.6 358.2L326.9 358.1L328.2 358.1L329.4 358.1L330.7 358.2L332.0 358.3" stroke="#4c8638" stroke-width="1.5" fill="none" stroke-dasharray="7.1 0.6 5.6 0.4 8.4 0.3"/><path d="M315.4 356.5L316.7 356.3L318.0 356.0L319.2 355.8L320.5 355.5L321.8 355.3L323.1 355.2L324.3 355.1L325.6 355.0L326.9 355.1L328.2 355.1L329.4 355.3L330.7 355.5L332.0 355.7" stroke="#4c8638" stroke-width="1.5" fill="none" stroke-dasharray="5.9 0.6 8.6 0.7 8.6 0.6"/><path d="M315.4 353.2L316.7 353.0L318.0 352.9L319.2 352.7L320.5 352.6L321.8 352.5L323.1 352.5L324.3 352.6L325.6 352.6L326.9 352.7L328.2 352.9L329.4 353.0L330.7 353.2L332.0 353.4" stroke="#4c8638" stroke-width="1.5" fill="none" stroke-dasharray="11.7 0.5 11.9 0.3"/><path d="M315.4 349.6L316.7 349.4L318.0 349.3L319.2 349.2L320.5 349.2L321.8 349.2L323.1 349.3L324.3 349.5L325.6 349.7L326.9 349.9L328.2 350.2L329.4 350.4L330.7 350.7L332.0 350.9" stroke="#4c8638" stroke-width="1.5" fill="none" stroke-dasharray="7.4 0.6 13.3 0.7"/><path d="M315.7 346.5L317.0 346.4L318.2 346.4L319.4 346.5L320.6 346.6L321.8 346.8L323.1 347.0L324.3 347.2L325.5 347.5L326.7 347.8L328.0 348.1L329.2 348.3L330.4 348.5L331.6 348.7" stroke="#4c8638" stroke-width="1.5" fill="none" stroke-dasharray="12.6 0.9 12.0 0.5"/><path d="M316.0 343.6L317.2 343.6L318.5 343.7L319.8 343.9L321.0 344.1L322.3 344.4L323.6 344.6L324.8 344.9L326.1 345.1L327.3 345.3L328.6 345.5L329.9 345.5L331.1 345.6" stroke="#4c8638" stroke-width="1.5" fill="none" stroke-dasharray="5.1 0.6 13.0 0.6 8.4 0.4"/><path d="M336.2 368.0L337.6 368.0L339.0 368.0L340.4 367.5L341.7 366.9L343.1 366.5L344.5 366.4" stroke="#4c8638" stroke-width="1.5" fill="none" stroke-dasharray="13.0 0.7"/><path d="M336.2 365.6L337.6 365.3L339.0 364.8L340.4 364.3L341.7 363.9L343.1 363.8L344.5 364.0" stroke="#4c8638" stroke-width="1.5" fill="none" stroke-dasharray="9.7 0.3 10.9 0.3"/><path d="M336.2 362.6L337.6 362.0L339.0 361.5L340.4 361.2L341.7 361.1L343.1 361.2L344.5 361.6" stroke="#4c8638" stroke-width="1.5" fill="none" stroke-dasharray="9.9 0.6 10.3 0.3"/><path d="M336.2 359.5L337.6 358.9L339.0 358.5L340.4 358.3L341.7 358.5L343.1 358.9L344.5 359.5" stroke="#4c8638" stroke-width="1.5" fill="none" stroke-dasharray="11.2 0.9"/><path d="M336.2 355.9L337.6 355.5L339.0 355.4L340.4 355.5L341.7 355.9L343.1 356.4L344.5 356.9" stroke="#4c8638" stroke-width="1.5" fill="none" stroke-dasharray="6.6 0.6 12.9 0.5"/><path d="M336.2 352.8L337.6 352.7L339.0 352.8L340.4 353.1L341.7 353.6L343.1 354.1L344.5 354.4" stroke="#4c8638" stroke-width="1.5" fill="none" stroke-dasharray="14.0 0.9"/><path d="M336.2 350.1L337.6 350.2L339.0 350.5L340.3 350.9L341.7 351.4L343.1 351.7L344.4 351.8" stroke="#4c8638" stroke-width="1.5" fill="none" stroke-dasharray="6.0 0.5 8.4 0.7"/><path d="M336.3 347.4L337.7 347.7L339.0 348.1L340.3 348.5L341.6 348.8L342.9 348.9L344.3 348.8" stroke="#4c8638" stroke-width="1.5" fill="none" stroke-dasharray="7.8 0.4 13.2 0.5"/><path d="M345.9 368.0L347.3 368.0L348.6 368.0L350.0 367.8L351.4 367.1" stroke="#4c8638" stroke-width="1.5" fill="none" stroke-dasharray="7.8 0.6"/><path d="M345.9 365.5L347.3 365.5L348.6 365.2L350.0 364.7L351.4 364.4" stroke="#4c8638" stroke-width="1.5" fill="none" stroke-dasharray="8.8 0.4"/><path d="M345.9 362.9L347.3 362.6L348.6 361.9L350.0 361.2L351.4 361.0" stroke="#4c8638" stroke-width="1.5" fill="none" stroke-dasharray="8.2 0.9"/><path d="M345.9 360.1L347.3 359.4L348.6 358.5L350.0 357.9L351.4 358.0" stroke="#4c8638" stroke-width="1.5" fill="none" stroke-dasharray="9.5 0.8"/><path d="M345.9 356.3L347.3 355.8L348.6 355.4L350.0 355.3L351.4 355.6" stroke="#4c8638" stroke-width="1.5" fill="none" stroke-dasharray="12.6 0.5"/><path d="M345.9 353.2L347.3 352.6L348.6 352.3L350.0 352.5L351.4 353.1" stroke="#4c8638" stroke-width="1.5" fill="none" stroke-dasharray="9.0 0.8"/><path d="M346.0 349.8L347.4 349.2L348.7 349.2L350.0 349.9L351.3 350.7" stroke="#4c8638" stroke-width="1.5" fill="none" stroke-dasharray="7.1 0.9"/><text x="278.9" y="383.5" font-family="Liberation Sans" font-size="9.6" fill="#1e5e34" text-anchor="middle">J:Because I can make a snowman.</text><path d="M192 403.1H276.7" stroke="#1b5d33" stroke-width="1.2"/><polygon points="207.10,403.10 207.40,396.82 207.70,389.90 208.13,389.62 208.57,387.59 209.00,387.01 209.50,388.69 210.00,390.28 210.20,396.27 210.40,403.10 210.40,403.10 210.20,410.25 210.00,417.84 209.50,418.65 209.00,419.63 208.57,419.97 208.13,417.28 207.70,416.46 207.40,410.16 207.10,403.10" fill="#1b5d33"/><polygon points="211.30,403.10 211.55,396.25 211.80,389.61 212.28,388.92 212.75,387.15 213.22,386.75 213.70,385.68 214.11,386.18 214.52,385.12 214.94,387.17 215.35,387.62 215.76,387.49 216.18,388.14 216.59,388.02 217.00,387.34 217.60,395.21 218.20,403.10 218.20,403.10 217.60,410.91 217.00,419.08 216.59,418.84 216.18,420.00 215.76,420.58 215.35,419.69 214.94,421.08 214.52,421.12 214.11,419.97 213.70,421.40 213.22,420.28 212.75,419.90 212.28,418.35 211.80,418.98 211.55,410.55 211.30,403.10" fill="#1b5d33"/><polygon points="218.40,403.10 218.95,400.67 219.50,398.57 220.00,397.70 220.50,397.24 221.00,400.19 221.50,403.10 221.50,403.10 221.00,406.91 220.50,410.99 220.00,410.75 219.50,409.96 218.95,406.64 218.40,403.10" fill="#1b5d33"/><polygon points="222.20,403.10 222.60,398.19 223.00,393.08 223.45,392.08 223.90,390.91 224.35,390.26 224.80,390.45 225.30,390.53 225.80,391.42 226.30,392.78 226.55,397.99 226.80,403.10 226.80,403.10 226.55,409.69 226.30,416.82 225.80,416.47 225.30,417.26 224.80,419.33 224.35,417.96 223.90,417.47 223.45,416.81 223.00,416.17 222.60,409.44 222.20,403.10" fill="#1b5d33"/><polygon points="228.80,403.10 229.05,397.53 229.30,392.07 229.75,391.52 230.20,390.80 230.65,391.61 231.10,390.00 231.55,390.82 232.00,390.06 232.40,389.62 232.80,390.77 233.20,390.06 233.60,390.21 234.00,390.37 234.40,390.04 234.80,391.16 235.20,391.10 235.60,390.17 236.00,390.20 236.41,391.86 236.82,391.59 237.24,392.81 237.65,392.25 238.06,392.74 238.48,393.53 238.89,394.24 239.30,394.55 239.60,398.87 239.90,403.10 239.90,403.10 239.60,408.91 239.30,414.82 238.89,415.21 238.48,416.33 238.06,415.83 237.65,416.40 237.24,416.61 236.82,416.21 236.41,416.10 236.00,417.67 235.60,416.85 235.20,417.90 234.80,417.87 234.40,418.28 234.00,417.27 233.60,417.02 233.20,417.64 232.80,418.46 232.40,417.73 232.00,417.19 231.55,418.48 231.10,417.46 230.65,417.39 230.20,416.29 229.75,416.02 229.30,416.68 229.05,409.91 228.80,403.10" fill="#1b5d33"/><polygon points="240.60,403.10 240.95,397.27 241.30,391.70 241.73,391.91 242.17,390.78 242.60,390.56 243.07,391.07 243.55,392.11 244.03,391.92 244.50,393.18 244.85,397.95 245.20,403.10 245.20,403.10 244.85,408.87 244.50,414.27 244.03,414.72 243.55,415.75 243.07,415.72 242.60,416.13 242.17,415.85 241.73,414.81 241.30,414.79 240.95,408.97 240.60,403.10" fill="#1b5d33"/><polygon points="249.80,403.10 250.05,397.93 250.30,393.04 250.77,392.38 251.23,391.89 251.70,391.32 252.10,391.80 252.50,391.36 252.90,391.87 253.30,391.90 253.70,391.98 254.10,391.40 254.50,392.43 254.90,391.27 255.30,392.44 255.70,391.91 256.11,392.33 256.52,391.65 256.94,391.33 257.35,391.80 257.76,391.67 258.18,390.87 258.59,391.33 259.00,391.55 259.43,392.49 259.87,392.49 260.30,393.47 260.73,394.66 261.17,395.23 261.60,396.32 262.00,397.25 262.40,398.65 262.80,400.19 263.20,401.65 263.60,403.10 263.60,403.10 263.20,405.17 262.80,407.31 262.40,409.43 262.00,411.52 261.60,413.34 261.17,413.67 260.73,413.57 260.30,413.73 259.87,415.12 259.43,414.38 259.00,415.43 258.59,415.60 258.18,416.01 257.76,415.48 257.35,415.84 256.94,415.11 256.52,415.49 256.11,415.35 255.70,414.45 255.30,415.64 254.90,414.50 254.50,414.67 254.10,415.40 253.70,415.52 253.30,414.55 252.90,414.55 252.50,414.96 252.10,415.10 251.70,415.16 251.23,415.06 250.77,414.66 250.30,414.65 250.05,408.68 249.80,403.10" fill="#1b5d33"/><path d="M282 416.3H369.7" stroke="#1b5d33" stroke-width="1.3" fill="none" opacity="0.85"/><path d="M282 416.3V385.5" stroke="#1b5d33" stroke-width="0.8" fill="none" opacity="0.6"/><path d="M297.5 414.6L298.8 414.7L300.2 415.0L301.5 415.2" stroke="#1b5d33" stroke-width="2.0" fill="none" stroke-dasharray="10.8 0.9"/><path d="M297.5 411.9L298.8 412.3L300.2 412.7L301.5 412.8" stroke="#1b5d33" stroke-width="2.0" fill="none" stroke-dasharray="13.3 0.6"/><path d="M297.5 409.7L298.8 410.1L300.2 410.3L301.5 410.2" stroke="#1b5d33" stroke-width="2.0" fill="none" stroke-dasharray="12.2 0.9"/><path d="M297.5 407.3L298.8 407.6L300.2 407.7L301.5 407.4" stroke="#1b5d33" stroke-width="2.0" fill="none" stroke-dasharray="7.3 0.4"/><path d="M297.5 404.6L298.8 404.8L300.2 404.7L301.5 404.4" stroke="#1b5d33" stroke-width="2.0" fill="none" stroke-dasharray="11.5 0.6"/><path d="M297.5 402.2L298.8 402.3L300.2 402.0L301.5 401.5" stroke="#1b5d33" stroke-width="2.0" fill="none" stroke-dasharray="10.6 0.5"/><path d="M297.5 399.6L298.8 399.5L300.2 399.0L301.5 398.7" stroke="#1b5d33" stroke-width="2.0" fill="none" stroke-dasharray="8.4 0.5"/><path d="M297.6 396.9L298.9 396.6L300.1 396.1L301.4 396.0" stroke="#1b5d33" stroke-width="2.0" fill="none" stroke-dasharray="10.6 0.3"/><path d="M297.6 394.3L298.8 393.8L300.1 393.4L301.4 393.5" stroke="#1b5d33" stroke-width="2.0" fill="none" stroke-dasharray="5.1 0.8"/><path d="M302.2 415.0L303.5 414.9L304.9 414.7L306.2 414.6L307.5 414.6L308.9 414.6L310.2 414.8" stroke="#1b5d33" stroke-width="2.0" fill="none" stroke-dasharray="9.7 0.8"/><path d="M302.2 412.3L303.5 412.0L304.9 411.8L306.2 411.8L307.5 411.9L308.9 412.1L310.2 412.4" stroke="#1b5d33" stroke-width="2.0" fill="none" stroke-dasharray="13.6 0.6"/><path d="M302.2 409.5L303.5 409.4L304.9 409.4L306.2 409.4L307.5 409.6L308.9 409.8L310.2 410.0" stroke="#1b5d33" stroke-width="2.0" fill="none" stroke-dasharray="6.0 0.6 8.4 0.3"/><path d="M302.2 406.8L303.5 406.7L304.9 406.8L306.2 406.9L307.5 407.1L308.9 407.3L310.2 407.5" stroke="#1b5d33" stroke-width="2.0" fill="none" stroke-dasharray="9.1 0.5 8.8 0.6"/><path d="M302.2 403.7L303.5 403.7L304.9 403.9L306.2 404.2L307.5 404.4L308.9 404.6L310.2 404.7" stroke="#1b5d33" stroke-width="2.0" fill="none" stroke-dasharray="8.9 0.9 10.4 0.9"/><path d="M302.2 401.2L303.5 401.4L304.9 401.6L306.2 401.8L307.5 402.0L308.9 402.1L310.2 402.0" stroke="#1b5d33" stroke-width="2.0" fill="none" stroke-dasharray="5.9 0.5 12.8 0.7"/><path d="M302.2 398.9L303.5 399.1L304.9 399.3L306.2 399.5L307.5 399.5L308.9 399.5L310.2 399.3" stroke="#1b5d33" stroke-width="2.0" fill="none" stroke-dasharray="8.8 0.6 13.7 0.6"/><path d="M302.3 396.4L303.6 396.5L304.9 396.7L306.2 396.7L307.5 396.7L308.8 396.6L310.1 396.4" stroke="#1b5d33" stroke-width="2.0" fill="none" stroke-dasharray="10.7 0.4"/><path d="M302.4 393.8L303.7 393.9L304.9 394.0L306.2 394.0L307.4 393.8L308.7 393.7L309.9 393.5" stroke="#1b5d33" stroke-width="2.0" fill="none" stroke-dasharray="7.8 0.6 11.4 0.4"/><path d="M310.9 414.8L312.2 415.1L313.6 415.3L314.9 415.3L316.2 415.3L317.6 415.3L318.9 415.0" stroke="#1b5d33" stroke-width="2.0" fill="none" stroke-dasharray="6.0 0.7 11.7 0.4"/><path d="M310.9 412.4L312.2 412.6L313.6 412.7L314.9 412.7L316.2 412.6L317.6 412.4L318.9 412.1" stroke="#1b5d33" stroke-width="2.0" fill="none" stroke-dasharray="11.7 0.8"/><path d="M310.9 409.8L312.2 409.9L313.6 409.9L314.9 409.8L316.2 409.7L317.6 409.5L318.9 409.4" stroke="#1b5d33" stroke-width="2.0" fill="none" stroke-dasharray="9.8 0.7"/><path d="M310.9 407.2L312.2 407.2L313.6 407.1L314.9 406.9L316.2 406.6L317.6 406.4L318.9 406.3" stroke="#1b5d33" stroke-width="2.0" fill="none" stroke-dasharray="11.9 0.5"/><path d="M310.9 404.3L312.2 404.2L313.6 403.9L314.9 403.7L316.2 403.5L317.6 403.3L318.9 403.3" stroke="#1b5d33" stroke-width="2.0" fill="none" stroke-dasharray="9.0 0.6 12.6 0.6"/><path d="M310.9 401.3L312.2 401.1L313.6 400.9L314.9 400.7L316.2 400.6L317.6 400.6L318.9 400.7" stroke="#1b5d33" stroke-width="2.0" fill="none" stroke-dasharray="8.5 0.7 7.1 0.6"/><path d="M311.0 398.3L312.3 398.1L313.6 398.0L314.9 397.9L316.2 397.8L317.5 397.9L318.8 398.0" stroke="#1b5d33" stroke-width="2.0" fill="none" stroke-dasharray="10.9 0.8"/><path d="M311.1 395.5L312.4 395.3L313.6 395.1L314.9 395.1L316.2 395.2L317.5 395.4L318.8 395.6" stroke="#1b5d33" stroke-width="2.0" fill="none" stroke-dasharray="12.1 0.5"/><path d="M320.3 414.4L321.5 414.4L322.7 414.5L323.9 414.6L325.1 414.8L326.4 415.0L327.6 415.1L328.8 415.3L330.0 415.3L331.2 415.3L332.4 415.3" stroke="#1b5d33" stroke-width="2.0" fill="none" stroke-dasharray="7.2 0.7 5.1 0.8 5.6 0.7"/><path d="M320.3 411.9L321.5 411.9L322.7 412.0L323.9 412.1L325.1 412.2L326.4 412.3L327.6 412.4L328.8 412.4L330.0 412.4L331.2 412.4L332.4 412.4" stroke="#1b5d33" stroke-width="2.0" fill="none" stroke-dasharray="12.3 0.9 7.2 0.6"/><path d="M320.3 409.3L321.5 409.4L322.7 409.6L323.9 409.7L325.1 409.9L326.4 410.0L327.6 410.0L328.8 410.0L330.0 409.9L331.2 409.8L332.4 409.7" stroke="#1b5d33" stroke-width="2.0" fill="none" stroke-dasharray="7.1 0.4 11.8 0.6"/><path d="M320.3 406.7L321.5 406.8L322.7 407.0L323.9 407.1L325.1 407.1L326.4 407.1L327.6 407.1L328.8 407.0L330.0 406.9L331.2 406.8L332.4 406.6" stroke="#1b5d33" stroke-width="2.0" fill="none" stroke-dasharray="5.1 0.9 7.1 0.8 6.8 0.6"/><path d="M320.3 404.3L321.5 404.4L322.7 404.5L323.9 404.6L325.1 404.5L326.4 404.5L327.6 404.4L328.8 404.2L330.0 404.1L331.2 403.9L332.4 403.8" stroke="#1b5d33" stroke-width="2.0" fill="none" stroke-dasharray="9.2 0.8 9.2 0.4"/><path d="M320.3 401.4L321.5 401.4L322.7 401.4L323.9 401.4L325.1 401.3L326.4 401.3L327.6 401.2L328.8 401.1L330.0 401.0L331.2 400.9L332.4 400.8" stroke="#1b5d33" stroke-width="2.0" fill="none" stroke-dasharray="7.4 0.7 8.8 0.8"/><path d="M320.3 399.2L321.5 399.1L322.7 399.1L323.9 398.9L325.1 398.8L326.4 398.6L327.6 398.5L328.8 398.3L330.0 398.2L331.2 398.1L332.4 398.1" stroke="#1b5d33" stroke-width="2.0" fill="none" stroke-dasharray="7.1 0.8 8.7 0.5"/><path d="M320.6 396.3L321.8 396.2L323.1 396.1L324.4 395.9L325.7 395.7L327.0 395.6L328.3 395.5L329.6 395.4L330.9 395.4L332.2 395.5" stroke="#1b5d33" stroke-width="2.0" fill="none" stroke-dasharray="11.4 0.6 9.6 0.8"/><path d="M320.8 393.2L322.0 393.1L323.3 392.9L324.5 392.8L325.8 392.6L327.0 392.5L328.3 392.5L329.6 392.5L330.8 392.6L332.1 392.7" stroke="#1b5d33" stroke-width="2.0" fill="none" stroke-dasharray="9.3 0.4 9.4 0.3"/><path d="M333.0 415.3L334.4 415.2L335.7 414.9L337.1 414.7L338.4 414.5L339.8 414.5" stroke="#1b5d33" stroke-width="2.0" fill="none" stroke-dasharray="10.8 0.8"/><path d="M333.0 412.6L334.4 412.5L335.7 412.2L337.1 412.1L338.4 412.0L339.8 412.1" stroke="#1b5d33" stroke-width="2.0" fill="none" stroke-dasharray="8.6 0.3"/><path d="M333.0 410.0L334.4 409.8L335.7 409.6L337.1 409.5L338.4 409.5L339.8 409.7" stroke="#1b5d33" stroke-width="2.0" fill="none" stroke-dasharray="6.7 0.8 5.3 0.5"/><path d="M333.0 406.9L334.4 406.7L335.7 406.6L337.1 406.6L338.4 406.8L339.8 407.0" stroke="#1b5d33" stroke-width="2.0" fill="none" stroke-dasharray="12.2 0.6"/><path d="M333.0 404.2L334.4 404.1L335.7 404.1L337.1 404.2L338.4 404.5L339.8 404.7" stroke="#1b5d33" stroke-width="2.0" fill="none" stroke-dasharray="6.9 0.7 11.4 0.8"/><path d="M333.0 401.3L334.4 401.3L335.7 401.4L337.1 401.6L338.4 401.9L339.8 402.0" stroke="#1b5d33" stroke-width="2.0" fill="none" stroke-dasharray="10.3 0.6"/><path d="M333.0 398.6L334.4 398.8L335.7 399.1L337.1 399.4L338.4 399.6L339.8 399.7" stroke="#1b5d33" stroke-width="2.0" fill="none" stroke-dasharray="7.8 0.6 14.0 0.3"/><path d="M333.2 396.1L334.5 396.3L335.8 396.5L337.1 396.7L338.4 396.8L339.6 396.7" stroke="#1b5d33" stroke-width="2.0" fill="none" stroke-dasharray="12.5 0.8"/><path d="M333.3 393.6L334.6 393.8L335.8 394.1L337.1 394.2L338.3 394.2L339.6 394.0" stroke="#1b5d33" stroke-width="2.0" fill="none" stroke-dasharray="13.5 0.8"/><path d="M343.1 414.8L344.3 414.7L345.6 414.6L346.8 414.5L348.1 414.5L349.3 414.5L350.5 414.4L351.8 414.5L353.0 414.5L354.2 414.6L355.5 414.7L356.7 414.8L358.0 414.9L359.2 415.0" stroke="#1b5d33" stroke-width="2.0" fill="none" stroke-dasharray="8.8 0.6 12.9 0.6"/><path d="M343.1 411.9L344.3 411.8L345.6 411.7L346.8 411.7L348.1 411.7L349.3 411.7L350.5 411.7L351.8 411.8L353.0 411.9L354.2 412.0L355.5 412.1L356.7 412.3L358.0 412.4L359.2 412.5" stroke="#1b5d33" stroke-width="2.0" fill="none" stroke-dasharray="11.6 0.7 11.5 0.4"/><path d="M343.1 409.0L344.3 409.0L345.6 409.0L346.8 409.0L348.1 409.0L349.3 409.1L350.5 409.2L351.8 409.2L353.0 409.3L354.2 409.4L355.5 409.5L356.7 409.6L358.0 409.6L359.2 409.7" stroke="#1b5d33" stroke-width="2.0" fill="none" stroke-dasharray="10.7 0.9 5.5 0.3 9.5 0.4"/><path d="M343.1 406.3L344.3 406.3L345.6 406.4L346.8 406.5L348.1 406.6L349.3 406.7L350.5 406.9L351.8 407.0L353.0 407.2L354.2 407.3L355.5 407.4L356.7 407.4L358.0 407.5L359.2 407.5" stroke="#1b5d33" stroke-width="2.0" fill="none" stroke-dasharray="7.6 0.7 5.6 0.7 11.4 0.7"/><path d="M343.1 403.8L344.3 403.9L345.6 404.0L346.8 404.1L348.1 404.2L349.3 404.3L350.5 404.4L351.8 404.6L353.0 404.6L354.2 404.7L355.5 404.7L356.7 404.7L358.0 404.7L359.2 404.6" stroke="#1b5d33" stroke-width="2.0" fill="none" stroke-dasharray="7.6 0.3 8.4 0.8 6.5 0.8"/><path d="M343.1 401.4L344.3 401.5L345.6 401.6L346.8 401.7L348.1 401.8L349.3 401.9L350.5 402.0L351.8 402.0L353.0 402.0L354.2 402.0L355.5 402.0L356.7 402.0L358.0 401.9L359.2 401.8" stroke="#1b5d33" stroke-width="2.0" fill="none" stroke-dasharray="11.0 0.8 7.4 0.7 12.9 0.8"/><path d="M343.1 398.6L344.3 398.7L345.6 398.8L346.8 398.9L348.1 398.9L349.3 399.0L350.5 399.0L351.8 399.0L353.0 398.9L354.2 398.9L355.5 398.9L356.7 398.8L358.0 398.7L359.2 398.6" stroke="#1b5d33" stroke-width="2.0" fill="none" stroke-dasharray="5.4 0.6 13.6 0.5 7.4 0.9"/><path d="M343.2 396.0L344.4 396.1L345.7 396.1L346.9 396.2L348.1 396.2L349.3 396.2L350.5 396.2L351.8 396.1L353.0 396.1L354.2 396.0L355.4 395.9L356.6 395.8L357.8 395.8L359.1 395.7" stroke="#1b5d33" stroke-width="2.0" fill="none" stroke-dasharray="5.7 0.8 11.3 0.4 8.9 0.6"/><path d="M343.4 393.5L344.7 393.5L346.0 393.5L347.3 393.5L348.6 393.5L349.8 393.4L351.1 393.3L352.4 393.1L353.7 393.0L355.0 392.8L356.3 392.7L357.6 392.5L358.9 392.4" stroke="#1b5d33" stroke-width="2.0" fill="none" stroke-dasharray="10.5 0.3 8.7 0.7 9.6 0.4"/><text x="395.2" y="184.8" font-family="Liberation Sans" font-size="14.5" fill="#222">c</text><rect x="437.5" y="193.4" width="206.5" height="196.49999999999997" fill="#eff4ef"/><rect x="437.50" y="370.25" width="20.65" height="19.65" fill="#2c6848"/><text x="447.82" y="382.68" font-family="Liberation Sans" font-size="8" fill="#edf3ee" text-anchor="middle">100%</text><rect x="458.15" y="350.60" width="20.65" height="19.65" fill="#2c6848"/><text x="468.47" y="363.02" font-family="Liberation Sans" font-size="8" fill="#edf3ee" text-anchor="middle">99%</text><rect x="478.80" y="330.95" width="20.65" height="19.65" fill="#2c6848"/><text x="489.12" y="343.38" font-family="Liberation Sans" font-size="8" fill="#edf3ee" text-anchor="middle">100%</text><rect x="499.45" y="311.30" width="20.65" height="19.65" fill="#2c6848"/><text x="509.77" y="323.72" font-family="Liberation Sans" font-size="8" fill="#edf3ee" text-anchor="middle">99%</text><rect x="520.10" y="291.65" width="20.65" height="19.65" fill="#2c6848"/><text x="530.43" y="304.07" font-family="Liberation Sans" font-size="8" fill="#edf3ee" text-anchor="middle">100%</text><rect x="540.75" y="272.00" width="20.65" height="19.65" fill="#2c6848"/><text x="551.08" y="284.43" font-family="Liberation Sans" font-size="8" fill="#edf3ee" text-anchor="middle">100%</text><rect x="561.40" y="252.35" width="20.65" height="19.65" fill="#2c6848"/><text x="571.73" y="264.78" font-family="Liberation Sans" font-size="8" fill="#edf3ee" text-anchor="middle">100%</text><rect x="582.05" y="232.70" width="20.65" height="19.65" fill="#2c6848"/><text x="592.38" y="245.12" font-family="Liberation Sans" font-size="8" fill="#edf3ee" text-anchor="middle">100%</text><rect x="602.70" y="213.05" width="20.65" height="19.65" fill="#2c6848"/><text x="613.03" y="225.47" font-family="Liberation Sans" font-size="8" fill="#edf3ee" text-anchor="middle">100%</text><rect x="623.35" y="193.40" width="20.65" height="19.65" fill="#2c6848"/><text x="633.68" y="205.82" font-family="Liberation Sans" font-size="8" fill="#edf3ee" text-anchor="middle">100%</text><text x="489.12" y="323.73" font-family="Liberation Sans" font-size="8" fill="#3d7a55" text-anchor="middle">1%</text><text x="509.77" y="363.02" font-family="Liberation Sans" font-size="8" fill="#3d7a55" text-anchor="middle">1%</text><rect x="437.5" y="193.4" width="206.5" height="196.49999999999997" fill="none" stroke="#333" stroke-width="1"/><text x="447.82" y="405.2" font-family="Liberation Sans" font-size="10" fill="#333" text-anchor="middle">A</text><text x="430" y="383.57" font-family="Liberation Sans" font-size="10" fill="#333" text-anchor="end">A</text><text x="468.48" y="405.2" font-family="Liberation Sans" font-size="10" fill="#333" text-anchor="middle">B</text><text x="430" y="363.92" font-family="Liberation Sans" font-size="10" fill="#333" text-anchor="end">B</text><text x="489.12" y="405.2" font-family="Liberation Sans" font-size="10" fill="#333" text-anchor="middle">C</text><text x="430" y="344.27" font-family="Liberation Sans" font-size="10" fill="#333" text-anchor="end">C</text><text x="509.77" y="405.2" font-family="Liberation Sans" font-size="10" fill="#333" text-anchor="middle">D</text><text x="430" y="324.62" font-family="Liberation Sans" font-size="10" fill="#333" text-anchor="end">D</text><text x="530.42" y="405.2" font-family="Liberation Sans" font-size="10" fill="#333" text-anchor="middle">E</text><text x="430" y="304.97" font-family="Liberation Sans" font-size="10" fill="#333" text-anchor="end">E</text><text x="551.08" y="405.2" font-family="Liberation Sans" font-size="10" fill="#333" text-anchor="middle">F</text><text x="430" y="285.32" font-family="Liberation Sans" font-size="10" fill="#333" text-anchor="end">F</text><text x="571.73" y="405.2" font-family="Liberation Sans" font-size="10" fill="#333" text-anchor="middle">G</text><text x="430" y="265.67" font-family="Liberation Sans" font-size="10" fill="#333" text-anchor="end">G</text><text x="592.38" y="405.2" font-family="Liberation Sans" font-size="10" fill="#333" text-anchor="middle">H</text><text x="430" y="246.02" font-family="Liberation Sans" font-size="10" fill="#333" text-anchor="end">H</text><text x="613.02" y="405.2" font-family="Liberation Sans" font-size="10" fill="#333" text-anchor="middle">I</text><text x="430" y="226.38" font-family="Liberation Sans" font-size="10" fill="#333" text-anchor="end">I</text><text x="633.67" y="405.2" font-family="Liberation Sans" font-size="10" fill="#333" text-anchor="middle">J</text><text x="430" y="206.72" font-family="Liberation Sans" font-size="10" fill="#333" text-anchor="end">J</text><path d="M447.82 389.9V394.5M433.1 380.07H437.5M468.48 389.9V394.5M433.1 360.42H437.5M489.12 389.9V394.5M433.1 340.77H437.5M509.77 389.9V394.5M433.1 321.12H437.5M530.42 389.9V394.5M433.1 301.47H437.5M551.08 389.9V394.5M433.1 281.82H437.5M571.73 389.9V394.5M433.1 262.17H437.5M592.38 389.9V394.5M433.1 242.52H437.5M613.02 389.9V394.5M433.1 222.88H437.5M633.67 389.9V394.5M433.1 203.22H437.5" stroke="#333" stroke-width="1" fill="none"/><text x="538.5" y="186.1" font-family="Liberation Sans" font-size="12.3" fill="#262626" text-anchor="middle">Accuracy:99.8%</text><text x="540.8" y="423.9" font-family="Liberation Sans" font-size="12.3" fill="#262626" text-anchor="middle">Actural state</text><text transform="translate(411.4 291.5) rotate(-90)" font-family="Liberation Sans" font-size="12.2" fill="#262626" text-anchor="middle">Predicted state</text><defs><linearGradient id="cbg" x1="0" y1="1" x2="0" y2="0"><stop offset="0" stop-color="#f2f6f2"/><stop offset="0.5" stop-color="#93b39f"/><stop offset="1" stop-color="#2c6848"/></linearGradient></defs><rect x="650.8" y="194.3" width="11.700000000000045" height="195.5" fill="url(#cbg)"/><path d="M650.8 194.3V389.8" stroke="#888" stroke-width="0.8"/><path d="M650.8 389.8H662.5V194.3" stroke="#333" stroke-width="1" fill="none"/><path d="M662.5 389.80H666.7" stroke="#333" stroke-width="1"/><text x="670.2" y="392.70" font-family="Liberation Sans" font-size="8" fill="#333">0</text><path d="M662.5 350.70H666.7" stroke="#333" stroke-width="1"/><text x="670.2" y="353.60" font-family="Liberation Sans" font-size="8" fill="#333">20</text><path d="M662.5 311.60H666.7" stroke="#333" stroke-width="1"/><text x="670.2" y="314.50" font-family="Liberation Sans" font-size="8" fill="#333">40</text><path d="M662.5 272.50H666.7" stroke="#333" stroke-width="1"/><text x="670.2" y="275.40" font-family="Liberation Sans" font-size="8" fill="#333">60</text><path d="M662.5 233.40H666.7" stroke="#333" stroke-width="1"/><text x="670.2" y="236.30" font-family="Liberation Sans" font-size="8" fill="#333">80</text><path d="M662.5 194.30H666.7" stroke="#333" stroke-width="1"/><text x="670.2" y="197.20" font-family="Liberation Sans" font-size="8" fill="#333">100</text><text x="646.8" y="187" font-family="Liberation Sans" font-size="12.6" fill="#262626">(%)</text><text x="-0.6" y="442.8" font-family="Liberation Sans" font-size="14.5" fill="#222">d</text><rect x="36.2" y="447.8" width="169.60000000000002" height="156.7" fill="none" stroke="#333" stroke-width="1"/><text x="28.3" y="607.90" font-family="Liberation Sans" font-size="9.8" fill="#333" text-anchor="end">0.0</text><text x="28.3" y="579.50" font-family="Liberation Sans" font-size="9.8" fill="#333" text-anchor="end">0.2</text><text x="28.3" y="551.10" font-family="Liberation Sans" font-size="9.8" fill="#333" text-anchor="end">0.4</text><text x="28.3" y="522.70" font-family="Liberation Sans" font-size="9.8" fill="#333" text-anchor="end">0.6</text><text x="28.3" y="494.30" font-family="Liberation Sans" font-size="9.8" fill="#333" text-anchor="end">0.8</text><text x="28.3" y="465.90" font-family="Liberation Sans" font-size="9.8" fill="#333" text-anchor="end">1.0</text><text x="36.20" y="620" font-family="Liberation Sans" font-size="10" fill="#333" text-anchor="middle">0</text><text x="92.73" y="620" font-family="Liberation Sans" font-size="10" fill="#333" text-anchor="middle">20</text><text x="149.27" y="620" font-family="Liberation Sans" font-size="10" fill="#333" text-anchor="middle">40</text><text x="205.80" y="620" font-family="Liberation Sans" font-size="10" fill="#333" text-anchor="middle">60</text><path d="M32.2 604.50H36.2M32.2 576.10H36.2M32.2 547.70H36.2M32.2 519.30H36.2M32.2 490.90H36.2M32.2 462.50H36.2M36.20 604.5V608.5M92.73 604.5V608.5M149.27 604.5V608.5M205.80 604.5V608.5" stroke="#333" stroke-width="1"/><polyline points="39.03,565.45 41.57,580.36 44.11,571.13 46.80,561.90 53.16,524.98 55.70,523.56 58.81,493.74 62.21,482.38 64.75,476.70 67.29,480.96 72.38,472.44 78.88,469.60 86.80,464.63 95.56,466.05 104.61,464.63 115.06,466.05 130.05,465.34 149.27,463.92 177.53,463.92 205.80,464.63" fill="none" stroke="#e2b548" stroke-width="1"/><polyline points="39.03,594.56 41.57,571.84 44.11,581.07 46.80,561.90 50.05,559.77 55.70,518.59 58.39,518.59 60.93,493.74 62.21,482.38 64.18,485.22 67.29,472.44 69.84,472.44 78.88,462.50 205.80,462.50" fill="none" stroke="#5a9a4a" stroke-width="1"/><path d="M138 557.3H157.4" stroke="#5a9a4a" stroke-width="1"/><path d="M138 568.3H157.4" stroke="#e2b548" stroke-width="1"/><text x="160" y="560.5" font-family="Liberation Sans" font-size="8.8" fill="#333">Trained</text><text x="160.6" y="571.5" font-family="Liberation Sans" font-size="8.8" fill="#333">Tested</text><text x="121.3" y="638.6" font-family="Liberation Sans" font-size="12.8" fill="#262626" text-anchor="middle">Epoch</text><text transform="translate(12.4 529.5) rotate(-90)" font-family="Liberation Sans" font-size="13.3" fill="#262626" text-anchor="middle">Normalized accuracy</text><text x="219.2" y="443.2" font-family="Liberation Sans" font-size="14.5" fill="#222">e</text><rect x="260.6" y="446.9" width="170.60" height="156.40" fill="none" stroke="#333" stroke-width="1"/><text x="272.79" y="619" font-family="Liberation Sans" font-size="10.1" fill="#333" text-anchor="middle">-60</text><text x="253.00" y="595.63" font-family="Liberation Sans" font-size="10.1" fill="#333" text-anchor="end">-60</text><text x="297.16" y="619" font-family="Liberation Sans" font-size="10.1" fill="#333" text-anchor="middle">-40</text><text x="253.00" y="573.29" font-family="Liberation Sans" font-size="10.1" fill="#333" text-anchor="end">-40</text><text x="321.53" y="619" font-family="Liberation Sans" font-size="10.1" fill="#333" text-anchor="middle">-20</text><text x="253.00" y="550.94" font-family="Liberation Sans" font-size="10.1" fill="#333" text-anchor="end">-20</text><text x="345.90" y="619" font-family="Liberation Sans" font-size="10.1" fill="#333" text-anchor="middle">0</text><text x="253.00" y="528.60" font-family="Liberation Sans" font-size="10.1" fill="#333" text-anchor="end">0</text><text x="370.27" y="619" font-family="Liberation Sans" font-size="10.1" fill="#333" text-anchor="middle">20</text><text x="253.00" y="506.26" font-family="Liberation Sans" font-size="10.1" fill="#333" text-anchor="end">20</text><text x="394.64" y="619" font-family="Liberation Sans" font-size="10.1" fill="#333" text-anchor="middle">40</text><text x="253.00" y="483.91" font-family="Liberation Sans" font-size="10.1" fill="#333" text-anchor="end">40</text><text x="419.01" y="619" font-family="Liberation Sans" font-size="10.1" fill="#333" text-anchor="middle">60</text><text x="253.00" y="461.57" font-family="Liberation Sans" font-size="10.1" fill="#333" text-anchor="end">60</text><path d="M260.60 603.3V605.8M258.1 603.30H260.6M272.79 603.3V607.9M256.0 592.13H260.6M284.97 603.3V605.8M258.1 580.96H260.6M297.16 603.3V607.9M256.0 569.79H260.6M309.34 603.3V605.8M258.1 558.61H260.6M321.53 603.3V607.9M256.0 547.44H260.6M333.71 603.3V605.8M258.1 536.27H260.6M345.90 603.3V607.9M256.0 525.10H260.6M358.09 603.3V605.8M258.1 513.93H260.6M370.27 603.3V607.9M256.0 502.76H260.6M382.46 603.3V605.8M258.1 491.59H260.6M394.64 603.3V607.9M256.0 480.41H260.6M406.83 603.3V605.8M258.1 469.24H260.6M419.01 603.3V607.9M256.0 458.07H260.6M431.20 603.3V605.8M258.1 446.90H260.6" stroke="#333" stroke-width="0.9"/><text x="345.90" y="637" font-family="Liberation Sans" font-size="12.2" fill="#262626" text-anchor="middle">Principal component 1</text><text transform="translate(233.40 525.10) rotate(-90)" font-family="Liberation Sans" font-size="12.2" fill="#262626" text-anchor="middle">Principal component 2</text><circle cx="378.2" cy="556.5" r="1.6" fill="#6b4747"/><circle cx="345.7" cy="498.0" r="1.6" fill="#7b7e1c"/><circle cx="361.1" cy="492.3" r="1.6" fill="#16b9c4"/><circle cx="331.9" cy="521.2" r="1.6" fill="#ee3d43"/><circle cx="363.8" cy="472.8" r="1.6" fill="#9a7cc4"/><circle cx="350.2" cy="496.4" r="1.6" fill="#16b9c4"/><circle cx="364.1" cy="563.4" r="1.6" fill="#189a5a"/><circle cx="313.5" cy="566.3" r="1.6" fill="#c8951d"/><circle cx="344.4" cy="514.9" r="1.6" fill="#6e6e6e"/><circle cx="310.8" cy="502.4" r="1.6" fill="#7b7e1c"/><circle cx="378.3" cy="501.4" r="1.6" fill="#16b9c4"/><circle cx="304.7" cy="544.2" r="1.6" fill="#7b7e1c"/><circle cx="338.2" cy="555.5" r="1.6" fill="#189a5a"/><circle cx="314.4" cy="501.8" r="1.6" fill="#7b7e1c"/><circle cx="377.6" cy="522.8" r="1.6" fill="#f26a2a"/><circle cx="344.7" cy="492.5" r="1.6" fill="#f26a2a"/><circle cx="329.2" cy="572.5" r="1.6" fill="#9a7cc4"/><circle cx="332.7" cy="570.9" r="1.6" fill="#9a7cc4"/><circle cx="350.3" cy="492.9" r="1.6" fill="#c8951d"/><circle cx="371.0" cy="541.5" r="1.6" fill="#6e6e6e"/><circle cx="364.6" cy="517.9" r="1.6" fill="#9a7cc4"/><circle cx="312.9" cy="537.8" r="1.6" fill="#189a5a"/><circle cx="300.0" cy="543.5" r="1.6" fill="#16b9c4"/><circle cx="359.2" cy="508.2" r="1.6" fill="#16b9c4"/><circle cx="377.4" cy="487.7" r="1.6" fill="#16b9c4"/><circle cx="331.7" cy="555.4" r="1.6" fill="#1f5fb0"/><circle cx="330.6" cy="545.9" r="1.6" fill="#1f5fb0"/><circle cx="356.6" cy="571.4" r="1.6" fill="#c8951d"/><circle cx="378.6" cy="483.1" r="1.6" fill="#16b9c4"/><circle cx="367.8" cy="560.9" r="1.6" fill="#c8951d"/><circle cx="332.9" cy="528.0" r="1.6" fill="#9a7cc4"/><circle cx="341.7" cy="573.4" r="1.6" fill="#c8951d"/><circle cx="323.5" cy="511.0" r="1.6" fill="#16b9c4"/><circle cx="358.7" cy="570.7" r="1.6" fill="#9a7cc4"/><circle cx="391.5" cy="502.7" r="1.6" fill="#9a7cc4"/><circle cx="380.2" cy="483.6" r="1.6" fill="#16b9c4"/><circle cx="303.7" cy="525.0" r="1.6" fill="#1f5fb0"/><circle cx="316.9" cy="521.1" r="1.6" fill="#1f5fb0"/><circle cx="350.0" cy="477.9" r="1.6" fill="#16b9c4"/><circle cx="384.8" cy="497.2" r="1.6" fill="#16b9c4"/><circle cx="326.3" cy="569.9" r="1.6" fill="#16b9c4"/><circle cx="387.6" cy="519.8" r="1.6" fill="#f26a2a"/><circle cx="338.9" cy="540.7" r="1.6" fill="#7b7e1c"/><circle cx="384.2" cy="503.8" r="1.6" fill="#f26a2a"/><circle cx="376.9" cy="510.7" r="1.6" fill="#f26a2a"/><circle cx="354.5" cy="548.6" r="1.6" fill="#16b9c4"/><circle cx="344.2" cy="543.4" r="1.6" fill="#1f5fb0"/><circle cx="355.3" cy="565.2" r="1.6" fill="#f26a2a"/><circle cx="327.1" cy="507.0" r="1.6" fill="#7b7e1c"/><circle cx="334.7" cy="542.2" r="1.6" fill="#189a5a"/><circle cx="330.1" cy="545.2" r="1.6" fill="#189a5a"/><circle cx="326.3" cy="558.3" r="1.6" fill="#f26a2a"/><circle cx="313.8" cy="563.6" r="1.6" fill="#ee3d43"/><circle cx="344.6" cy="547.2" r="1.6" fill="#16b9c4"/><circle cx="347.9" cy="501.4" r="1.6" fill="#7b7e1c"/><circle cx="341.4" cy="559.3" r="1.6" fill="#7b7e1c"/><circle cx="343.0" cy="533.0" r="1.6" fill="#7b7e1c"/><circle cx="369.7" cy="524.8" r="1.6" fill="#f26a2a"/><circle cx="351.1" cy="521.1" r="1.6" fill="#7b7e1c"/><circle cx="356.9" cy="493.8" r="1.6" fill="#16b9c4"/><circle cx="349.9" cy="541.3" r="1.6" fill="#6b4747"/><circle cx="320.9" cy="515.7" r="1.6" fill="#f26a2a"/><circle cx="365.2" cy="493.9" r="1.6" fill="#16b9c4"/><circle cx="363.9" cy="522.2" r="1.6" fill="#6b4747"/><circle cx="349.5" cy="516.8" r="1.6" fill="#ee3d43"/><circle cx="318.7" cy="520.7" r="1.6" fill="#1f5fb0"/><circle cx="370.1" cy="494.1" r="1.6" fill="#16b9c4"/><circle cx="328.9" cy="485.7" r="1.6" fill="#9a7cc4"/><circle cx="312.0" cy="512.8" r="1.6" fill="#f26a2a"/><circle cx="387.7" cy="493.1" r="1.6" fill="#f26a2a"/><circle cx="356.5" cy="569.2" r="1.6" fill="#c8951d"/><circle cx="332.4" cy="553.5" r="1.6" fill="#1f5fb0"/><circle cx="324.1" cy="536.1" r="1.6" fill="#1f5fb0"/><circle cx="344.8" cy="477.7" r="1.6" fill="#9a7cc4"/><circle cx="373.1" cy="558.2" r="1.6" fill="#6b4747"/><circle cx="342.1" cy="509.5" r="1.6" fill="#7b7e1c"/><circle cx="394.1" cy="507.9" r="1.6" fill="#f26a2a"/><circle cx="386.5" cy="512.9" r="1.6" fill="#f26a2a"/><circle cx="329.8" cy="506.5" r="1.6" fill="#ee3d43"/><circle cx="348.7" cy="515.5" r="1.6" fill="#ee3d43"/><circle cx="329.8" cy="572.5" r="1.6" fill="#c8951d"/><circle cx="364.6" cy="495.2" r="1.6" fill="#16b9c4"/><circle cx="341.8" cy="493.9" r="1.6" fill="#7b7e1c"/><circle cx="308.6" cy="511.3" r="1.6" fill="#1f5fb0"/><circle cx="371.0" cy="545.9" r="1.6" fill="#6b4747"/><circle cx="309.3" cy="503.2" r="1.6" fill="#16b9c4"/><circle cx="335.6" cy="509.3" r="1.6" fill="#189a5a"/><circle cx="364.4" cy="554.3" r="1.6" fill="#6b4747"/><circle cx="325.6" cy="515.4" r="1.6" fill="#ee3d43"/><circle cx="394.1" cy="522.2" r="1.6" fill="#f26a2a"/><circle cx="350.4" cy="533.9" r="1.6" fill="#6e6e6e"/><circle cx="351.5" cy="556.1" r="1.6" fill="#1f5fb0"/><circle cx="317.1" cy="501.5" r="1.6" fill="#7b7e1c"/><circle cx="387.3" cy="522.0" r="1.6" fill="#ee3d43"/><circle cx="375.7" cy="519.0" r="1.6" fill="#f26a2a"/><circle cx="341.1" cy="564.7" r="1.6" fill="#c8951d"/><circle cx="302.6" cy="523.6" r="1.6" fill="#189a5a"/><circle cx="316.0" cy="504.4" r="1.6" fill="#7b7e1c"/><circle cx="379.5" cy="510.6" r="1.6" fill="#f26a2a"/><circle cx="364.0" cy="488.0" r="1.6" fill="#16b9c4"/><circle cx="361.6" cy="487.3" r="1.6" fill="#16b9c4"/><circle cx="308.4" cy="559.9" r="1.6" fill="#ee3d43"/><circle cx="315.3" cy="558.4" r="1.6" fill="#c8951d"/><circle cx="317.6" cy="531.5" r="1.6" fill="#1f5fb0"/><circle cx="329.0" cy="530.0" r="1.6" fill="#7b7e1c"/><circle cx="352.1" cy="497.5" r="1.6" fill="#16b9c4"/><circle cx="354.7" cy="475.4" r="1.6" fill="#16b9c4"/><circle cx="378.5" cy="540.7" r="1.6" fill="#9a7cc4"/><circle cx="342.9" cy="539.3" r="1.6" fill="#9a7cc4"/><circle cx="317.3" cy="500.0" r="1.6" fill="#7b7e1c"/><circle cx="345.7" cy="473.7" r="1.6" fill="#16b9c4"/><circle cx="353.9" cy="486.4" r="1.6" fill="#6e6e6e"/><circle cx="316.4" cy="566.8" r="1.6" fill="#c8951d"/><circle cx="353.8" cy="493.3" r="1.6" fill="#16b9c4"/><circle cx="325.2" cy="531.3" r="1.6" fill="#9a7cc4"/><circle cx="353.5" cy="475.9" r="1.6" fill="#16b9c4"/><circle cx="365.6" cy="524.4" r="1.6" fill="#6b4747"/><circle cx="346.5" cy="548.6" r="1.6" fill="#6e6e6e"/><circle cx="323.0" cy="528.8" r="1.6" fill="#1f5fb0"/><circle cx="390.5" cy="515.4" r="1.6" fill="#f26a2a"/><circle cx="346.7" cy="508.6" r="1.6" fill="#6e6e6e"/><circle cx="369.9" cy="549.2" r="1.6" fill="#6b4747"/><circle cx="388.4" cy="518.5" r="1.6" fill="#f26a2a"/><circle cx="314.7" cy="568.0" r="1.6" fill="#c8951d"/><circle cx="311.7" cy="539.9" r="1.6" fill="#189a5a"/><circle cx="335.4" cy="527.7" r="1.6" fill="#7b7e1c"/><circle cx="375.2" cy="528.4" r="1.6" fill="#6b4747"/><circle cx="346.1" cy="492.8" r="1.6" fill="#6e6e6e"/><circle cx="360.8" cy="531.2" r="1.6" fill="#6e6e6e"/><circle cx="324.5" cy="516.7" r="1.6" fill="#c8951d"/><circle cx="307.2" cy="545.2" r="1.6" fill="#189a5a"/><circle cx="322.3" cy="520.5" r="1.6" fill="#7b7e1c"/><circle cx="335.5" cy="490.1" r="1.6" fill="#7b7e1c"/><circle cx="369.7" cy="560.0" r="1.6" fill="#c8951d"/><circle cx="346.1" cy="482.6" r="1.6" fill="#16b9c4"/><circle cx="381.5" cy="512.1" r="1.6" fill="#f26a2a"/><circle cx="376.1" cy="509.9" r="1.6" fill="#f26a2a"/><circle cx="292.2" cy="541.1" r="1.6" fill="#ee3d43"/><circle cx="351.3" cy="530.6" r="1.6" fill="#f26a2a"/><circle cx="388.2" cy="499.3" r="1.6" fill="#ee3d43"/><circle cx="339.3" cy="483.0" r="1.6" fill="#9a7cc4"/><circle cx="319.4" cy="548.6" r="1.6" fill="#7b7e1c"/><circle cx="330.2" cy="504.3" r="1.6" fill="#7b7e1c"/><circle cx="314.2" cy="525.5" r="1.6" fill="#1f5fb0"/><circle cx="382.5" cy="552.8" r="1.6" fill="#f26a2a"/><circle cx="355.3" cy="526.8" r="1.6" fill="#ee3d43"/><circle cx="346.2" cy="477.5" r="1.6" fill="#6b4747"/><circle cx="369.7" cy="518.3" r="1.6" fill="#f26a2a"/><circle cx="337.6" cy="563.4" r="1.6" fill="#c8951d"/><circle cx="380.7" cy="525.8" r="1.6" fill="#6b4747"/><circle cx="358.5" cy="475.9" r="1.6" fill="#16b9c4"/><circle cx="341.8" cy="571.6" r="1.6" fill="#9a7cc4"/><circle cx="299.5" cy="542.4" r="1.6" fill="#ee3d43"/><circle cx="382.6" cy="490.9" r="1.6" fill="#6e6e6e"/><circle cx="348.3" cy="551.5" r="1.6" fill="#1f5fb0"/><circle cx="301.2" cy="519.5" r="1.6" fill="#189a5a"/><circle cx="385.1" cy="505.8" r="1.6" fill="#f26a2a"/><circle cx="377.3" cy="516.9" r="1.6" fill="#f26a2a"/><circle cx="393.6" cy="510.9" r="1.6" fill="#f26a2a"/><circle cx="333.2" cy="511.4" r="1.6" fill="#7b7e1c"/><circle cx="314.9" cy="512.9" r="1.6" fill="#ee3d43"/><circle cx="364.3" cy="530.7" r="1.6" fill="#6b4747"/><circle cx="315.3" cy="545.7" r="1.6" fill="#189a5a"/><circle cx="367.4" cy="513.2" r="1.6" fill="#f26a2a"/><circle cx="339.5" cy="485.4" r="1.6" fill="#9a7cc4"/><circle cx="381.5" cy="505.9" r="1.6" fill="#f26a2a"/><circle cx="320.8" cy="570.0" r="1.6" fill="#c8951d"/><circle cx="330.8" cy="523.8" r="1.6" fill="#7b7e1c"/><circle cx="356.8" cy="510.6" r="1.6" fill="#c8951d"/><circle cx="391.8" cy="517.7" r="1.6" fill="#f26a2a"/><circle cx="338.2" cy="516.0" r="1.6" fill="#7b7e1c"/><circle cx="318.9" cy="557.3" r="1.6" fill="#7b7e1c"/><circle cx="327.2" cy="520.3" r="1.6" fill="#7b7e1c"/><circle cx="369.7" cy="513.5" r="1.6" fill="#f26a2a"/><circle cx="343.5" cy="541.8" r="1.6" fill="#9a7cc4"/><circle cx="339.4" cy="514.0" r="1.6" fill="#6e6e6e"/><circle cx="342.9" cy="517.0" r="1.6" fill="#ee3d43"/><circle cx="328.8" cy="541.4" r="1.6" fill="#189a5a"/><circle cx="379.8" cy="551.6" r="1.6" fill="#9a7cc4"/><circle cx="342.8" cy="557.2" r="1.6" fill="#f26a2a"/><circle cx="351.2" cy="555.8" r="1.6" fill="#7b7e1c"/><circle cx="365.2" cy="474.1" r="1.6" fill="#16b9c4"/><circle cx="355.6" cy="495.0" r="1.6" fill="#7b7e1c"/><circle cx="326.4" cy="520.8" r="1.6" fill="#9a7cc4"/><circle cx="360.1" cy="492.2" r="1.6" fill="#16b9c4"/><circle cx="380.9" cy="527.3" r="1.6" fill="#f26a2a"/><circle cx="378.8" cy="494.6" r="1.6" fill="#16b9c4"/><circle cx="353.8" cy="534.4" r="1.6" fill="#9a7cc4"/><circle cx="304.1" cy="559.3" r="1.6" fill="#f26a2a"/><circle cx="342.6" cy="533.1" r="1.6" fill="#1f5fb0"/><circle cx="362.2" cy="489.0" r="1.6" fill="#16b9c4"/><circle cx="378.0" cy="512.0" r="1.6" fill="#f26a2a"/><circle cx="343.8" cy="480.1" r="1.6" fill="#16b9c4"/><circle cx="316.5" cy="517.0" r="1.6" fill="#1f5fb0"/><circle cx="369.1" cy="517.2" r="1.6" fill="#f26a2a"/><circle cx="350.8" cy="550.8" r="1.6" fill="#6b4747"/><circle cx="350.9" cy="571.7" r="1.6" fill="#ee3d43"/><circle cx="361.3" cy="520.8" r="1.6" fill="#1f5fb0"/><circle cx="299.6" cy="523.5" r="1.6" fill="#6e6e6e"/><circle cx="344.5" cy="571.8" r="1.6" fill="#9a7cc4"/><circle cx="327.1" cy="559.6" r="1.6" fill="#f26a2a"/><circle cx="346.5" cy="553.4" r="1.6" fill="#ee3d43"/><circle cx="301.4" cy="548.3" r="1.6" fill="#1f5fb0"/><circle cx="302.8" cy="535.6" r="1.6" fill="#189a5a"/><circle cx="323.3" cy="529.4" r="1.6" fill="#1f5fb0"/><circle cx="312.5" cy="510.7" r="1.6" fill="#ee3d43"/><circle cx="389.0" cy="532.9" r="1.6" fill="#f26a2a"/><circle cx="342.5" cy="547.3" r="1.6" fill="#16b9c4"/><circle cx="305.5" cy="511.4" r="1.6" fill="#ee3d43"/><circle cx="371.1" cy="551.8" r="1.6" fill="#f26a2a"/><circle cx="328.3" cy="560.6" r="1.6" fill="#189a5a"/><circle cx="342.2" cy="526.4" r="1.6" fill="#6e6e6e"/><circle cx="320.6" cy="527.6" r="1.6" fill="#6b4747"/><circle cx="355.8" cy="503.7" r="1.6" fill="#7b7e1c"/><circle cx="355.4" cy="550.5" r="1.6" fill="#6b4747"/><circle cx="327.7" cy="517.1" r="1.6" fill="#16b9c4"/><circle cx="370.0" cy="531.6" r="1.6" fill="#6b4747"/><circle cx="377.4" cy="485.7" r="1.6" fill="#16b9c4"/><circle cx="327.4" cy="531.2" r="1.6" fill="#1f5fb0"/><circle cx="383.8" cy="526.5" r="1.6" fill="#f26a2a"/><circle cx="381.5" cy="544.7" r="1.6" fill="#9a7cc4"/><circle cx="341.0" cy="519.4" r="1.6" fill="#7b7e1c"/><circle cx="312.6" cy="570.2" r="1.6" fill="#ee3d43"/><circle cx="318.5" cy="495.6" r="1.6" fill="#7b7e1c"/><circle cx="374.4" cy="530.6" r="1.6" fill="#f26a2a"/><circle cx="345.9" cy="529.9" r="1.6" fill="#f26a2a"/><circle cx="356.8" cy="528.8" r="1.6" fill="#1f5fb0"/><circle cx="353.6" cy="570.1" r="1.6" fill="#c8951d"/><circle cx="338.7" cy="500.2" r="1.6" fill="#7b7e1c"/><circle cx="341.9" cy="519.5" r="1.6" fill="#c8951d"/><circle cx="330.5" cy="542.2" r="1.6" fill="#189a5a"/><circle cx="338.0" cy="521.5" r="1.6" fill="#6b4747"/><circle cx="384.8" cy="510.2" r="1.6" fill="#f26a2a"/><circle cx="299.4" cy="540.9" r="1.6" fill="#16b9c4"/><circle cx="329.3" cy="513.8" r="1.6" fill="#7b7e1c"/><circle cx="369.5" cy="560.0" r="1.6" fill="#f26a2a"/><circle cx="331.1" cy="504.4" r="1.6" fill="#9a7cc4"/><circle cx="334.2" cy="512.1" r="1.6" fill="#6b4747"/><circle cx="373.7" cy="517.9" r="1.6" fill="#f26a2a"/><circle cx="368.8" cy="551.3" r="1.6" fill="#c8951d"/><circle cx="359.3" cy="481.4" r="1.6" fill="#16b9c4"/><circle cx="375.8" cy="535.4" r="1.6" fill="#6b4747"/><circle cx="360.5" cy="476.6" r="1.6" fill="#16b9c4"/><circle cx="320.2" cy="530.2" r="1.6" fill="#6b4747"/><circle cx="313.0" cy="513.2" r="1.6" fill="#1f5fb0"/><circle cx="327.3" cy="540.7" r="1.6" fill="#1f5fb0"/><circle cx="346.0" cy="558.9" r="1.6" fill="#6b4747"/><circle cx="357.6" cy="546.7" r="1.6" fill="#6b4747"/><circle cx="375.7" cy="553.9" r="1.6" fill="#c8951d"/><circle cx="297.3" cy="534.9" r="1.6" fill="#ee3d43"/><circle cx="322.9" cy="507.4" r="1.6" fill="#16b9c4"/><circle cx="341.4" cy="555.3" r="1.6" fill="#9a7cc4"/><circle cx="340.5" cy="479.5" r="1.6" fill="#9a7cc4"/><circle cx="339.6" cy="526.8" r="1.6" fill="#9a7cc4"/><circle cx="388.8" cy="511.1" r="1.6" fill="#f26a2a"/><circle cx="310.4" cy="533.0" r="1.6" fill="#189a5a"/><circle cx="336.4" cy="545.5" r="1.6" fill="#189a5a"/><circle cx="309.5" cy="518.7" r="1.6" fill="#1f5fb0"/><circle cx="390.3" cy="532.0" r="1.6" fill="#f26a2a"/><circle cx="303.1" cy="538.3" r="1.6" fill="#1f5fb0"/><circle cx="308.3" cy="540.4" r="1.6" fill="#ee3d43"/><circle cx="319.1" cy="493.1" r="1.6" fill="#7b7e1c"/><circle cx="349.8" cy="524.8" r="1.6" fill="#1f5fb0"/><circle cx="347.4" cy="501.9" r="1.6" fill="#7b7e1c"/><circle cx="312.0" cy="540.5" r="1.6" fill="#189a5a"/><circle cx="370.2" cy="495.1" r="1.6" fill="#16b9c4"/><circle cx="362.6" cy="491.3" r="1.6" fill="#16b9c4"/><circle cx="387.2" cy="510.6" r="1.6" fill="#7b7e1c"/><circle cx="341.0" cy="484.8" r="1.6" fill="#9a7cc4"/><circle cx="340.0" cy="497.0" r="1.6" fill="#189a5a"/><circle cx="375.8" cy="481.2" r="1.6" fill="#16b9c4"/><circle cx="347.8" cy="511.3" r="1.6" fill="#7b7e1c"/><circle cx="390.2" cy="539.3" r="1.6" fill="#f26a2a"/><circle cx="351.0" cy="482.4" r="1.6" fill="#16b9c4"/><circle cx="299.6" cy="533.8" r="1.6" fill="#189a5a"/><circle cx="335.3" cy="507.4" r="1.6" fill="#9a7cc4"/><circle cx="339.9" cy="520.0" r="1.6" fill="#7b7e1c"/><circle cx="381.0" cy="535.8" r="1.6" fill="#f26a2a"/><circle cx="314.9" cy="573.6" r="1.6" fill="#189a5a"/><circle cx="301.7" cy="536.9" r="1.6" fill="#6e6e6e"/><circle cx="336.7" cy="517.7" r="1.6" fill="#1f5fb0"/><circle cx="376.3" cy="528.6" r="1.6" fill="#f26a2a"/><circle cx="360.5" cy="516.4" r="1.6" fill="#6e6e6e"/><circle cx="369.9" cy="487.0" r="1.6" fill="#16b9c4"/><circle cx="375.7" cy="498.5" r="1.6" fill="#16b9c4"/><circle cx="307.4" cy="528.1" r="1.6" fill="#1f5fb0"/><circle cx="384.3" cy="496.2" r="1.6" fill="#7b7e1c"/><circle cx="311.4" cy="553.9" r="1.6" fill="#189a5a"/><circle cx="351.4" cy="529.6" r="1.6" fill="#7b7e1c"/><circle cx="354.7" cy="556.6" r="1.6" fill="#6b4747"/><circle cx="375.4" cy="495.7" r="1.6" fill="#16b9c4"/><circle cx="381.8" cy="526.5" r="1.6" fill="#6e6e6e"/><circle cx="323.9" cy="566.8" r="1.6" fill="#ee3d43"/><circle cx="319.7" cy="517.8" r="1.6" fill="#1f5fb0"/><circle cx="354.5" cy="551.9" r="1.6" fill="#6b4747"/><circle cx="367.2" cy="542.9" r="1.6" fill="#1f5fb0"/><circle cx="311.2" cy="503.9" r="1.6" fill="#7b7e1c"/><circle cx="372.0" cy="530.7" r="1.6" fill="#ee3d43"/><circle cx="382.9" cy="514.2" r="1.6" fill="#f26a2a"/><circle cx="309.6" cy="526.1" r="1.6" fill="#1f5fb0"/><circle cx="350.2" cy="529.9" r="1.6" fill="#9a7cc4"/><circle cx="350.6" cy="545.2" r="1.6" fill="#189a5a"/><circle cx="336.7" cy="562.6" r="1.6" fill="#6b4747"/><circle cx="377.4" cy="496.1" r="1.6" fill="#16b9c4"/><circle cx="331.3" cy="541.6" r="1.6" fill="#189a5a"/><circle cx="376.4" cy="500.2" r="1.6" fill="#16b9c4"/><circle cx="314.5" cy="568.0" r="1.6" fill="#189a5a"/><circle cx="368.7" cy="562.1" r="1.6" fill="#c8951d"/><circle cx="375.7" cy="523.5" r="1.6" fill="#f26a2a"/><circle cx="308.7" cy="543.9" r="1.6" fill="#189a5a"/><circle cx="349.4" cy="547.7" r="1.6" fill="#1f5fb0"/><circle cx="363.6" cy="554.4" r="1.6" fill="#c8951d"/><circle cx="386.9" cy="542.7" r="1.6" fill="#16b9c4"/><circle cx="296.1" cy="538.7" r="1.6" fill="#ee3d43"/><circle cx="353.5" cy="542.8" r="1.6" fill="#6e6e6e"/><circle cx="315.3" cy="500.1" r="1.6" fill="#7b7e1c"/><circle cx="379.2" cy="539.3" r="1.6" fill="#6b4747"/><circle cx="372.0" cy="492.4" r="1.6" fill="#16b9c4"/><circle cx="303.0" cy="518.9" r="1.6" fill="#189a5a"/><circle cx="389.2" cy="495.1" r="1.6" fill="#16b9c4"/><circle cx="373.4" cy="544.7" r="1.6" fill="#9a7cc4"/><circle cx="329.0" cy="544.4" r="1.6" fill="#6e6e6e"/><circle cx="317.2" cy="509.7" r="1.6" fill="#ee3d43"/><circle cx="310.1" cy="510.9" r="1.6" fill="#f26a2a"/><circle cx="370.0" cy="561.9" r="1.6" fill="#ee3d43"/><circle cx="362.4" cy="526.7" r="1.6" fill="#6b4747"/><circle cx="366.0" cy="508.5" r="1.6" fill="#1f5fb0"/><circle cx="338.9" cy="543.1" r="1.6" fill="#1f5fb0"/><circle cx="320.7" cy="566.5" r="1.6" fill="#f26a2a"/><circle cx="377.7" cy="496.3" r="1.6" fill="#ee3d43"/><circle cx="355.6" cy="539.5" r="1.6" fill="#1f5fb0"/><circle cx="303.3" cy="538.7" r="1.6" fill="#189a5a"/><circle cx="358.1" cy="563.6" r="1.6" fill="#c8951d"/><circle cx="348.9" cy="562.1" r="1.6" fill="#c8951d"/><circle cx="373.2" cy="476.4" r="1.6" fill="#16b9c4"/><circle cx="383.0" cy="514.9" r="1.6" fill="#f26a2a"/><circle cx="335.6" cy="558.5" r="1.6" fill="#1f5fb0"/><circle cx="375.8" cy="525.3" r="1.6" fill="#6b4747"/><circle cx="371.8" cy="536.1" r="1.6" fill="#6b4747"/><circle cx="372.9" cy="496.8" r="1.6" fill="#9a7cc4"/><circle cx="374.1" cy="561.6" r="1.6" fill="#9a7cc4"/><circle cx="341.7" cy="555.0" r="1.6" fill="#189a5a"/><circle cx="360.6" cy="515.8" r="1.6" fill="#189a5a"/><circle cx="384.2" cy="516.6" r="1.6" fill="#f26a2a"/><circle cx="331.3" cy="571.3" r="1.6" fill="#6e6e6e"/><circle cx="345.9" cy="496.2" r="1.6" fill="#16b9c4"/><circle cx="348.0" cy="489.9" r="1.6" fill="#16b9c4"/><circle cx="361.4" cy="532.7" r="1.6" fill="#6e6e6e"/><circle cx="316.6" cy="513.0" r="1.6" fill="#ee3d43"/><circle cx="386.5" cy="495.3" r="1.6" fill="#6e6e6e"/><circle cx="378.8" cy="478.4" r="1.6" fill="#9a7cc4"/><circle cx="339.7" cy="553.7" r="1.6" fill="#f26a2a"/><circle cx="376.4" cy="556.0" r="1.6" fill="#f26a2a"/><circle cx="324.3" cy="526.4" r="1.6" fill="#1f5fb0"/><circle cx="370.2" cy="510.0" r="1.6" fill="#f26a2a"/><circle cx="343.3" cy="531.3" r="1.6" fill="#7b7e1c"/><circle cx="328.2" cy="503.0" r="1.6" fill="#7b7e1c"/><circle cx="394.4" cy="527.5" r="1.6" fill="#f26a2a"/><circle cx="339.6" cy="518.7" r="1.6" fill="#ee3d43"/><circle cx="344.9" cy="489.2" r="1.6" fill="#16b9c4"/><circle cx="391.1" cy="505.8" r="1.6" fill="#f26a2a"/><circle cx="310.3" cy="514.2" r="1.6" fill="#ee3d43"/><circle cx="375.3" cy="490.3" r="1.6" fill="#16b9c4"/><circle cx="384.5" cy="547.6" r="1.6" fill="#6e6e6e"/><circle cx="389.4" cy="527.1" r="1.6" fill="#f26a2a"/><circle cx="391.2" cy="517.8" r="1.6" fill="#6b4747"/><circle cx="326.3" cy="559.3" r="1.6" fill="#c8951d"/><circle cx="317.5" cy="511.6" r="1.6" fill="#ee3d43"/><circle cx="380.6" cy="509.7" r="1.6" fill="#f26a2a"/><circle cx="361.4" cy="483.0" r="1.6" fill="#16b9c4"/><circle cx="332.7" cy="535.0" r="1.6" fill="#6b4747"/><circle cx="327.8" cy="521.6" r="1.6" fill="#9a7cc4"/><circle cx="333.1" cy="517.9" r="1.6" fill="#189a5a"/><circle cx="383.7" cy="512.3" r="1.6" fill="#f26a2a"/><circle cx="371.3" cy="561.9" r="1.6" fill="#f26a2a"/><circle cx="333.8" cy="504.1" r="1.6" fill="#1f5fb0"/><circle cx="298.2" cy="541.4" r="1.6" fill="#189a5a"/><circle cx="377.5" cy="537.0" r="1.6" fill="#ee3d43"/><circle cx="318.9" cy="544.8" r="1.6" fill="#189a5a"/><circle cx="313.1" cy="556.1" r="1.6" fill="#189a5a"/><circle cx="393.5" cy="502.5" r="1.6" fill="#16b9c4"/><circle cx="355.7" cy="516.9" r="1.6" fill="#9a7cc4"/><circle cx="325.2" cy="565.8" r="1.6" fill="#16b9c4"/><circle cx="323.3" cy="554.8" r="1.6" fill="#189a5a"/><circle cx="372.4" cy="478.5" r="1.6" fill="#16b9c4"/><circle cx="380.8" cy="508.0" r="1.6" fill="#f26a2a"/><circle cx="329.3" cy="515.9" r="1.6" fill="#7b7e1c"/><circle cx="332.8" cy="513.2" r="1.6" fill="#c8951d"/><circle cx="372.5" cy="500.8" r="1.6" fill="#7b7e1c"/><circle cx="305.8" cy="550.7" r="1.6" fill="#189a5a"/><circle cx="336.1" cy="526.3" r="1.6" fill="#f26a2a"/><circle cx="307.4" cy="541.6" r="1.6" fill="#189a5a"/><circle cx="356.7" cy="537.2" r="1.6" fill="#9a7cc4"/><circle cx="329.1" cy="538.0" r="1.6" fill="#189a5a"/><circle cx="379.1" cy="497.0" r="1.6" fill="#16b9c4"/><circle cx="391.1" cy="515.0" r="1.6" fill="#f26a2a"/><circle cx="358.0" cy="519.3" r="1.6" fill="#c8951d"/><circle cx="381.8" cy="486.3" r="1.6" fill="#9a7cc4"/><circle cx="337.8" cy="541.5" r="1.6" fill="#16b9c4"/><circle cx="334.2" cy="531.4" r="1.6" fill="#1f5fb0"/><circle cx="351.3" cy="480.4" r="1.6" fill="#16b9c4"/><circle cx="359.0" cy="528.4" r="1.6" fill="#9a7cc4"/><circle cx="388.0" cy="510.5" r="1.6" fill="#f26a2a"/><circle cx="351.6" cy="537.4" r="1.6" fill="#6e6e6e"/><circle cx="351.9" cy="513.1" r="1.6" fill="#9a7cc4"/><circle cx="380.6" cy="552.4" r="1.6" fill="#f26a2a"/><circle cx="335.2" cy="547.8" r="1.6" fill="#189a5a"/><circle cx="317.6" cy="533.9" r="1.6" fill="#c8951d"/><circle cx="336.2" cy="486.4" r="1.6" fill="#ee3d43"/><circle cx="305.1" cy="551.9" r="1.6" fill="#ee3d43"/><circle cx="336.2" cy="515.2" r="1.6" fill="#6e6e6e"/><circle cx="328.0" cy="534.3" r="1.6" fill="#6e6e6e"/><circle cx="358.2" cy="554.9" r="1.6" fill="#189a5a"/><circle cx="322.0" cy="533.5" r="1.6" fill="#6e6e6e"/><circle cx="344.9" cy="476.7" r="1.6" fill="#16b9c4"/><circle cx="384.5" cy="534.3" r="1.6" fill="#f26a2a"/><circle cx="342.1" cy="524.0" r="1.6" fill="#6e6e6e"/><circle cx="346.7" cy="512.0" r="1.6" fill="#f26a2a"/><circle cx="345.5" cy="558.4" r="1.6" fill="#1f5fb0"/><circle cx="330.2" cy="551.0" r="1.6" fill="#1f5fb0"/><circle cx="371.3" cy="539.3" r="1.6" fill="#f26a2a"/><circle cx="337.5" cy="557.2" r="1.6" fill="#c8951d"/><circle cx="321.8" cy="511.4" r="1.6" fill="#16b9c4"/><circle cx="367.1" cy="510.1" r="1.6" fill="#6e6e6e"/><circle cx="368.5" cy="491.6" r="1.6" fill="#16b9c4"/><circle cx="328.6" cy="552.7" r="1.6" fill="#189a5a"/><circle cx="336.6" cy="523.0" r="1.6" fill="#16b9c4"/><circle cx="305.7" cy="548.3" r="1.6" fill="#6b4747"/><circle cx="371.9" cy="510.6" r="1.6" fill="#f26a2a"/><circle cx="316.5" cy="568.3" r="1.6" fill="#f26a2a"/><circle cx="336.1" cy="525.0" r="1.6" fill="#f26a2a"/><circle cx="345.9" cy="479.0" r="1.6" fill="#16b9c4"/><circle cx="359.4" cy="491.9" r="1.6" fill="#16b9c4"/><circle cx="343.6" cy="479.2" r="1.6" fill="#9a7cc4"/><circle cx="318.7" cy="497.3" r="1.6" fill="#7b7e1c"/><circle cx="392.3" cy="523.8" r="1.6" fill="#f26a2a"/><circle cx="345.2" cy="519.0" r="1.6" fill="#6b4747"/><circle cx="327.6" cy="540.8" r="1.6" fill="#1f5fb0"/><circle cx="340.3" cy="528.9" r="1.6" fill="#189a5a"/><circle cx="367.8" cy="538.3" r="1.6" fill="#6b4747"/><circle cx="307.1" cy="529.2" r="1.6" fill="#1f5fb0"/><circle cx="327.9" cy="528.1" r="1.6" fill="#9a7cc4"/><circle cx="360.7" cy="492.2" r="1.6" fill="#16b9c4"/><circle cx="334.4" cy="533.6" r="1.6" fill="#7b7e1c"/><circle cx="311.3" cy="550.8" r="1.6" fill="#189a5a"/><circle cx="376.7" cy="521.5" r="1.6" fill="#f26a2a"/><circle cx="348.6" cy="539.9" r="1.6" fill="#9a7cc4"/><circle cx="333.1" cy="566.6" r="1.6" fill="#c8951d"/><circle cx="324.9" cy="488.4" r="1.6" fill="#c8951d"/><circle cx="312.2" cy="542.0" r="1.6" fill="#ee3d43"/><circle cx="346.1" cy="511.4" r="1.6" fill="#c8951d"/><circle cx="346.7" cy="499.4" r="1.6" fill="#6b4747"/><circle cx="370.0" cy="502.6" r="1.6" fill="#7b7e1c"/><circle cx="330.4" cy="511.5" r="1.6" fill="#9a7cc4"/><circle cx="346.9" cy="557.9" r="1.6" fill="#6b4747"/><circle cx="373.7" cy="518.6" r="1.6" fill="#f26a2a"/><circle cx="321.4" cy="574.9" r="1.6" fill="#c8951d"/><circle cx="332.1" cy="574.0" r="1.6" fill="#c8951d"/><circle cx="371.4" cy="502.9" r="1.6" fill="#f26a2a"/><circle cx="311.0" cy="546.5" r="1.6" fill="#c8951d"/><circle cx="362.9" cy="530.6" r="1.6" fill="#6b4747"/><circle cx="348.7" cy="496.9" r="1.6" fill="#16b9c4"/><circle cx="390.4" cy="523.0" r="1.6" fill="#f26a2a"/><circle cx="371.7" cy="484.6" r="1.6" fill="#16b9c4"/><circle cx="316.4" cy="532.2" r="1.6" fill="#ee3d43"/><circle cx="301.7" cy="551.1" r="1.6" fill="#ee3d43"/><circle cx="353.3" cy="533.1" r="1.6" fill="#9a7cc4"/><circle cx="380.4" cy="504.0" r="1.6" fill="#f26a2a"/><circle cx="394.1" cy="517.6" r="1.6" fill="#f26a2a"/><circle cx="361.7" cy="554.3" r="1.6" fill="#9a7cc4"/><circle cx="329.9" cy="558.2" r="1.6" fill="#c8951d"/><circle cx="346.7" cy="476.0" r="1.6" fill="#16b9c4"/><circle cx="365.4" cy="501.8" r="1.6" fill="#7b7e1c"/><circle cx="355.8" cy="553.3" r="1.6" fill="#189a5a"/><circle cx="372.3" cy="549.8" r="1.6" fill="#6b4747"/><circle cx="378.1" cy="511.2" r="1.6" fill="#f26a2a"/><circle cx="371.7" cy="520.7" r="1.6" fill="#6b4747"/><circle cx="327.3" cy="515.7" r="1.6" fill="#6e6e6e"/><circle cx="360.7" cy="529.5" r="1.6" fill="#1f5fb0"/><circle cx="361.0" cy="514.2" r="1.6" fill="#9a7cc4"/><circle cx="315.8" cy="571.5" r="1.6" fill="#7b7e1c"/><circle cx="369.5" cy="479.3" r="1.6" fill="#16b9c4"/><circle cx="376.6" cy="548.9" r="1.6" fill="#6b4747"/><circle cx="317.2" cy="532.4" r="1.6" fill="#1f5fb0"/><circle cx="303.5" cy="541.1" r="1.6" fill="#ee3d43"/><circle cx="360.3" cy="518.3" r="1.6" fill="#c8951d"/><circle cx="370.5" cy="563.9" r="1.6" fill="#c8951d"/><circle cx="331.0" cy="528.4" r="1.6" fill="#9a7cc4"/><circle cx="314.5" cy="521.6" r="1.6" fill="#c8951d"/><circle cx="307.0" cy="522.4" r="1.6" fill="#ee3d43"/><circle cx="371.6" cy="532.6" r="1.6" fill="#6b4747"/><circle cx="334.6" cy="573.0" r="1.6" fill="#c8951d"/><circle cx="300.3" cy="531.4" r="1.6" fill="#189a5a"/><circle cx="298.7" cy="530.0" r="1.6" fill="#189a5a"/><circle cx="315.0" cy="506.3" r="1.6" fill="#7b7e1c"/><circle cx="340.5" cy="542.5" r="1.6" fill="#189a5a"/><circle cx="317.9" cy="558.0" r="1.6" fill="#7b7e1c"/><circle cx="297.3" cy="548.1" r="1.6" fill="#6e6e6e"/><circle cx="372.7" cy="544.8" r="1.6" fill="#6b4747"/><circle cx="309.1" cy="521.7" r="1.6" fill="#1f5fb0"/><circle cx="322.1" cy="518.8" r="1.6" fill="#16b9c4"/><circle cx="373.4" cy="555.4" r="1.6" fill="#7b7e1c"/><circle cx="309.1" cy="536.8" r="1.6" fill="#189a5a"/><circle cx="361.7" cy="554.5" r="1.6" fill="#c8951d"/><circle cx="330.8" cy="532.8" r="1.6" fill="#1f5fb0"/><circle cx="320.5" cy="549.7" r="1.6" fill="#189a5a"/><circle cx="387.3" cy="542.3" r="1.6" fill="#9a7cc4"/><circle cx="345.4" cy="520.8" r="1.6" fill="#f26a2a"/><circle cx="386.8" cy="491.0" r="1.6" fill="#7b7e1c"/><circle cx="354.3" cy="490.1" r="1.6" fill="#16b9c4"/><circle cx="394.7" cy="528.9" r="1.6" fill="#f26a2a"/><circle cx="318.7" cy="536.0" r="1.6" fill="#189a5a"/><circle cx="326.7" cy="488.5" r="1.6" fill="#1f5fb0"/><circle cx="397.7" cy="518.8" r="1.6" fill="#1f5fb0"/><circle cx="334.6" cy="516.1" r="1.6" fill="#6e6e6e"/><circle cx="359.7" cy="506.7" r="1.6" fill="#6b4747"/><circle cx="334.1" cy="562.7" r="1.6" fill="#189a5a"/><circle cx="355.3" cy="502.7" r="1.6" fill="#7b7e1c"/><circle cx="350.3" cy="543.0" r="1.6" fill="#1f5fb0"/><circle cx="334.2" cy="507.0" r="1.6" fill="#7b7e1c"/><circle cx="313.8" cy="521.9" r="1.6" fill="#ee3d43"/><circle cx="349.7" cy="528.9" r="1.6" fill="#1f5fb0"/><circle cx="349.6" cy="514.2" r="1.6" fill="#16b9c4"/><circle cx="371.6" cy="531.0" r="1.6" fill="#6e6e6e"/><circle cx="331.1" cy="535.0" r="1.6" fill="#7b7e1c"/><circle cx="357.7" cy="498.6" r="1.6" fill="#9a7cc4"/><circle cx="315.0" cy="564.6" r="1.6" fill="#7b7e1c"/><circle cx="348.4" cy="497.7" r="1.6" fill="#16b9c4"/><circle cx="386.7" cy="508.0" r="1.6" fill="#f26a2a"/><circle cx="319.8" cy="548.7" r="1.6" fill="#189a5a"/><circle cx="318.6" cy="569.5" r="1.6" fill="#c8951d"/><circle cx="380.5" cy="506.4" r="1.6" fill="#f26a2a"/><circle cx="362.2" cy="471.8" r="1.6" fill="#1f5fb0"/><circle cx="293.3" cy="531.9" r="1.6" fill="#189a5a"/><circle cx="375.8" cy="497.2" r="1.6" fill="#f26a2a"/><circle cx="350.7" cy="505.6" r="1.6" fill="#7b7e1c"/><circle cx="319.6" cy="545.1" r="1.6" fill="#189a5a"/><circle cx="292.9" cy="535.8" r="1.6" fill="#ee3d43"/><circle cx="392.9" cy="526.4" r="1.6" fill="#6e6e6e"/><circle cx="378.5" cy="483.2" r="1.6" fill="#16b9c4"/><circle cx="329.1" cy="515.5" r="1.6" fill="#7b7e1c"/><circle cx="367.5" cy="533.4" r="1.6" fill="#6b4747"/><circle cx="330.2" cy="522.9" r="1.6" fill="#c8951d"/><circle cx="345.4" cy="518.1" r="1.6" fill="#f26a2a"/><circle cx="366.1" cy="517.1" r="1.6" fill="#6b4747"/><circle cx="391.0" cy="532.3" r="1.6" fill="#c8951d"/><circle cx="356.2" cy="534.1" r="1.6" fill="#6e6e6e"/><circle cx="321.3" cy="565.9" r="1.6" fill="#c8951d"/><circle cx="308.5" cy="533.8" r="1.6" fill="#1f5fb0"/><circle cx="311.8" cy="543.5" r="1.6" fill="#189a5a"/><circle cx="379.8" cy="513.4" r="1.6" fill="#f26a2a"/><circle cx="363.0" cy="561.5" r="1.6" fill="#c8951d"/><circle cx="326.9" cy="486.5" r="1.6" fill="#7b7e1c"/><circle cx="327.8" cy="542.1" r="1.6" fill="#189a5a"/><circle cx="389.3" cy="500.3" r="1.6" fill="#7b7e1c"/><circle cx="340.8" cy="520.0" r="1.6" fill="#6e6e6e"/><circle cx="366.5" cy="501.3" r="1.6" fill="#16b9c4"/><circle cx="310.5" cy="537.0" r="1.6" fill="#189a5a"/><circle cx="326.2" cy="502.8" r="1.6" fill="#7b7e1c"/><circle cx="369.3" cy="514.3" r="1.6" fill="#7b7e1c"/><circle cx="359.5" cy="550.9" r="1.6" fill="#ee3d43"/><circle cx="370.1" cy="565.4" r="1.6" fill="#1f5fb0"/><circle cx="343.8" cy="539.0" r="1.6" fill="#6b4747"/><circle cx="370.1" cy="500.1" r="1.6" fill="#16b9c4"/><circle cx="357.0" cy="503.6" r="1.6" fill="#c8951d"/><circle cx="377.6" cy="528.1" r="1.6" fill="#6b4747"/><circle cx="374.8" cy="525.1" r="1.6" fill="#6b4747"/><circle cx="348.8" cy="472.8" r="1.6" fill="#16b9c4"/><circle cx="374.2" cy="563.3" r="1.6" fill="#7b7e1c"/><circle cx="386.5" cy="539.8" r="1.6" fill="#9a7cc4"/><circle cx="341.1" cy="497.5" r="1.6" fill="#16b9c4"/><circle cx="340.2" cy="517.7" r="1.6" fill="#6e6e6e"/><circle cx="312.7" cy="562.7" r="1.6" fill="#6b4747"/><circle cx="329.7" cy="521.4" r="1.6" fill="#16b9c4"/><circle cx="353.5" cy="498.1" r="1.6" fill="#16b9c4"/><circle cx="374.2" cy="547.8" r="1.6" fill="#7b7e1c"/><circle cx="325.9" cy="525.7" r="1.6" fill="#ee3d43"/><circle cx="339.5" cy="551.7" r="1.6" fill="#189a5a"/><circle cx="324.3" cy="558.8" r="1.6" fill="#c8951d"/><circle cx="365.0" cy="519.0" r="1.6" fill="#6b4747"/><circle cx="323.8" cy="531.4" r="1.6" fill="#1f5fb0"/><circle cx="348.3" cy="473.0" r="1.6" fill="#1f5fb0"/><circle cx="393.1" cy="516.7" r="1.6" fill="#f26a2a"/><circle cx="345.1" cy="543.3" r="1.6" fill="#189a5a"/><circle cx="351.3" cy="572.8" r="1.6" fill="#c8951d"/><circle cx="371.6" cy="543.7" r="1.6" fill="#f26a2a"/><circle cx="338.1" cy="521.1" r="1.6" fill="#9a7cc4"/><circle cx="302.6" cy="548.3" r="1.6" fill="#ee3d43"/><circle cx="321.0" cy="506.7" r="1.6" fill="#9a7cc4"/><circle cx="311.2" cy="549.9" r="1.6" fill="#189a5a"/><circle cx="356.0" cy="517.3" r="1.6" fill="#1f5fb0"/><circle cx="369.1" cy="541.0" r="1.6" fill="#6b4747"/><circle cx="351.5" cy="486.2" r="1.6" fill="#16b9c4"/><circle cx="364.3" cy="471.3" r="1.6" fill="#16b9c4"/><circle cx="357.2" cy="508.2" r="1.6" fill="#16b9c4"/><circle cx="323.9" cy="560.3" r="1.6" fill="#c8951d"/><circle cx="373.4" cy="532.7" r="1.6" fill="#6b4747"/><circle cx="347.1" cy="524.1" r="1.6" fill="#6e6e6e"/><circle cx="376.9" cy="494.5" r="1.6" fill="#c8951d"/><circle cx="301.8" cy="546.0" r="1.6" fill="#ee3d43"/><circle cx="362.3" cy="512.4" r="1.6" fill="#1f5fb0"/><circle cx="320.1" cy="553.8" r="1.6" fill="#189a5a"/><circle cx="325.3" cy="518.5" r="1.6" fill="#1f5fb0"/><circle cx="316.6" cy="557.8" r="1.6" fill="#9a7cc4"/><circle cx="305.9" cy="536.4" r="1.6" fill="#189a5a"/><circle cx="342.7" cy="545.4" r="1.6" fill="#1f5fb0"/><circle cx="369.9" cy="500.7" r="1.6" fill="#189a5a"/><circle cx="365.7" cy="527.5" r="1.6" fill="#6e6e6e"/><circle cx="346.1" cy="509.0" r="1.6" fill="#7b7e1c"/><circle cx="336.7" cy="510.8" r="1.6" fill="#6e6e6e"/><circle cx="362.1" cy="526.1" r="1.6" fill="#7b7e1c"/><circle cx="351.8" cy="490.6" r="1.6" fill="#16b9c4"/><circle cx="365.8" cy="516.0" r="1.6" fill="#f26a2a"/><circle cx="311.8" cy="545.8" r="1.6" fill="#189a5a"/><circle cx="356.3" cy="470.6" r="1.6" fill="#16b9c4"/><circle cx="370.2" cy="558.4" r="1.6" fill="#c8951d"/><circle cx="337.6" cy="533.7" r="1.6" fill="#7b7e1c"/><circle cx="310.1" cy="559.5" r="1.6" fill="#7b7e1c"/><circle cx="353.8" cy="475.0" r="1.6" fill="#16b9c4"/><circle cx="349.5" cy="537.2" r="1.6" fill="#6e6e6e"/><circle cx="333.3" cy="562.0" r="1.6" fill="#7b7e1c"/><circle cx="329.4" cy="508.5" r="1.6" fill="#6b4747"/><circle cx="379.1" cy="557.2" r="1.6" fill="#6b4747"/><circle cx="337.3" cy="545.2" r="1.6" fill="#7b7e1c"/><circle cx="376.3" cy="488.8" r="1.6" fill="#16b9c4"/><circle cx="341.5" cy="481.4" r="1.6" fill="#9a7cc4"/><circle cx="349.1" cy="521.7" r="1.6" fill="#1f5fb0"/><circle cx="368.9" cy="475.1" r="1.6" fill="#16b9c4"/><circle cx="353.7" cy="505.1" r="1.6" fill="#7b7e1c"/><circle cx="352.4" cy="497.9" r="1.6" fill="#16b9c4"/><circle cx="320.2" cy="539.9" r="1.6" fill="#189a5a"/><circle cx="335.7" cy="530.3" r="1.6" fill="#f26a2a"/><circle cx="381.4" cy="480.6" r="1.6" fill="#16b9c4"/><circle cx="343.6" cy="516.4" r="1.6" fill="#7b7e1c"/><circle cx="346.9" cy="481.1" r="1.6" fill="#16b9c4"/><circle cx="322.0" cy="545.3" r="1.6" fill="#1f5fb0"/><circle cx="307.3" cy="512.5" r="1.6" fill="#ee3d43"/><circle cx="368.4" cy="495.1" r="1.6" fill="#ee3d43"/><circle cx="312.0" cy="550.4" r="1.6" fill="#189a5a"/><circle cx="350.2" cy="533.5" r="1.6" fill="#7b7e1c"/><circle cx="372.2" cy="497.9" r="1.6" fill="#16b9c4"/><circle cx="366.0" cy="537.3" r="1.6" fill="#f26a2a"/><circle cx="353.4" cy="493.5" r="1.6" fill="#16b9c4"/><circle cx="373.0" cy="496.1" r="1.6" fill="#16b9c4"/><circle cx="339.9" cy="544.1" r="1.6" fill="#189a5a"/><circle cx="333.4" cy="526.6" r="1.6" fill="#7b7e1c"/><circle cx="335.7" cy="537.5" r="1.6" fill="#189a5a"/><circle cx="349.4" cy="560.1" r="1.6" fill="#6b4747"/><circle cx="383.8" cy="493.5" r="1.6" fill="#7b7e1c"/><circle cx="317.7" cy="526.4" r="1.6" fill="#1f5fb0"/><circle cx="360.7" cy="551.7" r="1.6" fill="#6b4747"/><circle cx="330.5" cy="505.7" r="1.6" fill="#7b7e1c"/><circle cx="391.4" cy="515.5" r="1.6" fill="#f26a2a"/><circle cx="294.8" cy="528.7" r="1.6" fill="#189a5a"/><circle cx="322.5" cy="499.5" r="1.6" fill="#7b7e1c"/><circle cx="378.3" cy="543.7" r="1.6" fill="#9a7cc4"/><circle cx="390.8" cy="536.9" r="1.6" fill="#f26a2a"/><circle cx="309.7" cy="514.9" r="1.6" fill="#6b4747"/><circle cx="344.8" cy="572.4" r="1.6" fill="#6b4747"/><circle cx="383.7" cy="544.4" r="1.6" fill="#9a7cc4"/><circle cx="334.3" cy="521.1" r="1.6" fill="#16b9c4"/><circle cx="345.3" cy="480.5" r="1.6" fill="#9a7cc4"/><circle cx="327.6" cy="554.0" r="1.6" fill="#189a5a"/><circle cx="369.6" cy="553.3" r="1.6" fill="#6b4747"/><circle cx="337.5" cy="491.0" r="1.6" fill="#7b7e1c"/><circle cx="339.5" cy="572.2" r="1.6" fill="#c8951d"/><circle cx="323.5" cy="498.2" r="1.6" fill="#7b7e1c"/><circle cx="369.2" cy="520.4" r="1.6" fill="#9a7cc4"/><circle cx="309.3" cy="518.1" r="1.6" fill="#ee3d43"/><circle cx="382.2" cy="549.4" r="1.6" fill="#9a7cc4"/><circle cx="377.8" cy="528.4" r="1.6" fill="#6b4747"/><circle cx="342.6" cy="502.4" r="1.6" fill="#7b7e1c"/><circle cx="375.5" cy="530.0" r="1.6" fill="#16b9c4"/><circle cx="369.3" cy="518.3" r="1.6" fill="#ee3d43"/><circle cx="347.8" cy="557.9" r="1.6" fill="#189a5a"/><circle cx="371.4" cy="484.0" r="1.6" fill="#16b9c4"/><circle cx="361.0" cy="531.2" r="1.6" fill="#9a7cc4"/><circle cx="306.7" cy="541.0" r="1.6" fill="#189a5a"/><circle cx="321.9" cy="551.4" r="1.6" fill="#189a5a"/><circle cx="385.8" cy="517.8" r="1.6" fill="#f26a2a"/><circle cx="295.2" cy="547.6" r="1.6" fill="#ee3d43"/><circle cx="384.6" cy="500.2" r="1.6" fill="#ee3d43"/><circle cx="372.0" cy="543.5" r="1.6" fill="#6b4747"/><circle cx="329.7" cy="486.8" r="1.6" fill="#c8951d"/><circle cx="326.6" cy="497.2" r="1.6" fill="#7b7e1c"/><circle cx="367.5" cy="529.6" r="1.6" fill="#6b4747"/><circle cx="381.5" cy="550.9" r="1.6" fill="#6b4747"/><circle cx="346.4" cy="541.5" r="1.6" fill="#189a5a"/><circle cx="327.3" cy="518.0" r="1.6" fill="#ee3d43"/><circle cx="349.4" cy="486.8" r="1.6" fill="#16b9c4"/><circle cx="390.3" cy="514.8" r="1.6" fill="#189a5a"/><circle cx="357.3" cy="505.5" r="1.6" fill="#ee3d43"/><circle cx="349.5" cy="501.2" r="1.6" fill="#7b7e1c"/><circle cx="353.6" cy="481.5" r="1.6" fill="#16b9c4"/><circle cx="356.1" cy="518.4" r="1.6" fill="#ee3d43"/><circle cx="359.0" cy="530.7" r="1.6" fill="#ee3d43"/><circle cx="356.8" cy="517.0" r="1.6" fill="#c8951d"/><circle cx="385.8" cy="536.3" r="1.6" fill="#16b9c4"/><circle cx="315.0" cy="502.1" r="1.6" fill="#7b7e1c"/><circle cx="330.2" cy="494.3" r="1.6" fill="#7b7e1c"/><circle cx="381.4" cy="493.0" r="1.6" fill="#f26a2a"/><circle cx="365.7" cy="478.8" r="1.6" fill="#16b9c4"/><circle cx="307.1" cy="522.0" r="1.6" fill="#1f5fb0"/><circle cx="310.3" cy="566.7" r="1.6" fill="#189a5a"/><circle cx="339.2" cy="516.0" r="1.6" fill="#6e6e6e"/><circle cx="316.5" cy="521.9" r="1.6" fill="#1f5fb0"/><circle cx="314.8" cy="521.4" r="1.6" fill="#1f5fb0"/><circle cx="356.5" cy="561.5" r="1.6" fill="#c8951d"/><circle cx="351.7" cy="567.9" r="1.6" fill="#c8951d"/><circle cx="296.7" cy="538.2" r="1.6" fill="#189a5a"/><circle cx="339.2" cy="518.5" r="1.6" fill="#9a7cc4"/><circle cx="320.0" cy="517.3" r="1.6" fill="#ee3d43"/><circle cx="319.1" cy="564.2" r="1.6" fill="#189a5a"/><circle cx="321.4" cy="528.7" r="1.6" fill="#1f5fb0"/><circle cx="356.9" cy="475.6" r="1.6" fill="#16b9c4"/><circle cx="305.0" cy="514.7" r="1.6" fill="#ee3d43"/><circle cx="344.0" cy="477.1" r="1.6" fill="#189a5a"/><circle cx="302.6" cy="548.7" r="1.6" fill="#ee3d43"/><circle cx="363.3" cy="562.0" r="1.6" fill="#c8951d"/><circle cx="372.8" cy="547.5" r="1.6" fill="#1f5fb0"/><circle cx="353.8" cy="478.6" r="1.6" fill="#16b9c4"/><circle cx="367.7" cy="482.5" r="1.6" fill="#16b9c4"/><circle cx="325.9" cy="525.4" r="1.6" fill="#9a7cc4"/><circle cx="345.3" cy="536.1" r="1.6" fill="#189a5a"/><circle cx="331.1" cy="521.6" r="1.6" fill="#189a5a"/><circle cx="352.5" cy="490.6" r="1.6" fill="#16b9c4"/><circle cx="344.6" cy="569.3" r="1.6" fill="#ee3d43"/><circle cx="345.1" cy="534.1" r="1.6" fill="#1f5fb0"/><circle cx="344.6" cy="548.5" r="1.6" fill="#1f5fb0"/><circle cx="314.6" cy="569.5" r="1.6" fill="#189a5a"/><circle cx="379.8" cy="488.5" r="1.6" fill="#16b9c4"/><circle cx="299.8" cy="539.7" r="1.6" fill="#ee3d43"/><circle cx="368.8" cy="501.2" r="1.6" fill="#7b7e1c"/><circle cx="315.6" cy="554.1" r="1.6" fill="#c8951d"/><circle cx="370.7" cy="490.3" r="1.6" fill="#16b9c4"/><circle cx="326.9" cy="530.0" r="1.6" fill="#1f5fb0"/><circle cx="357.3" cy="526.0" r="1.6" fill="#6b4747"/><circle cx="371.0" cy="491.6" r="1.6" fill="#16b9c4"/><circle cx="340.8" cy="487.0" r="1.6" fill="#16b9c4"/><circle cx="296.8" cy="525.3" r="1.6" fill="#189a5a"/><circle cx="370.9" cy="557.0" r="1.6" fill="#6b4747"/><circle cx="327.8" cy="569.4" r="1.6" fill="#7b7e1c"/><circle cx="362.5" cy="555.0" r="1.6" fill="#c8951d"/><circle cx="317.9" cy="505.8" r="1.6" fill="#7b7e1c"/><circle cx="307.8" cy="521.1" r="1.6" fill="#1f5fb0"/><circle cx="317.1" cy="494.9" r="1.6" fill="#7b7e1c"/><circle cx="373.1" cy="521.4" r="1.6" fill="#6b4747"/><circle cx="319.3" cy="560.6" r="1.6" fill="#1f5fb0"/><circle cx="367.6" cy="548.0" r="1.6" fill="#6b4747"/><circle cx="313.7" cy="522.2" r="1.6" fill="#c8951d"/><circle cx="356.0" cy="473.9" r="1.6" fill="#16b9c4"/><circle cx="393.2" cy="532.9" r="1.6" fill="#189a5a"/><circle cx="299.6" cy="522.2" r="1.6" fill="#ee3d43"/><circle cx="354.7" cy="490.6" r="1.6" fill="#16b9c4"/><circle cx="359.2" cy="510.7" r="1.6" fill="#9a7cc4"/><circle cx="348.8" cy="556.2" r="1.6" fill="#7b7e1c"/><circle cx="369.9" cy="518.7" r="1.6" fill="#f26a2a"/><circle cx="318.8" cy="566.9" r="1.6" fill="#c8951d"/><circle cx="369.0" cy="516.4" r="1.6" fill="#1f5fb0"/><circle cx="316.1" cy="528.2" r="1.6" fill="#189a5a"/><circle cx="342.3" cy="521.2" r="1.6" fill="#ee3d43"/><circle cx="368.9" cy="536.9" r="1.6" fill="#6e6e6e"/><circle cx="358.6" cy="493.0" r="1.6" fill="#f26a2a"/><circle cx="383.4" cy="532.9" r="1.6" fill="#f26a2a"/><circle cx="340.8" cy="536.0" r="1.6" fill="#1f5fb0"/><circle cx="389.3" cy="505.3" r="1.6" fill="#189a5a"/><circle cx="371.5" cy="523.3" r="1.6" fill="#1f5fb0"/><circle cx="385.0" cy="543.1" r="1.6" fill="#c8951d"/><circle cx="319.4" cy="552.8" r="1.6" fill="#189a5a"/><circle cx="379.9" cy="485.3" r="1.6" fill="#16b9c4"/><circle cx="363.0" cy="555.8" r="1.6" fill="#c8951d"/><circle cx="346.0" cy="479.4" r="1.6" fill="#9a7cc4"/><circle cx="355.1" cy="568.2" r="1.6" fill="#6b4747"/><circle cx="308.4" cy="528.3" r="1.6" fill="#189a5a"/><circle cx="339.3" cy="547.9" r="1.6" fill="#16b9c4"/><circle cx="307.5" cy="518.3" r="1.6" fill="#ee3d43"/><circle cx="345.7" cy="532.2" r="1.6" fill="#16b9c4"/><circle cx="360.3" cy="548.0" r="1.6" fill="#7b7e1c"/><circle cx="309.2" cy="549.3" r="1.6" fill="#189a5a"/><circle cx="347.5" cy="501.3" r="1.6" fill="#6e6e6e"/><circle cx="359.1" cy="504.0" r="1.6" fill="#6e6e6e"/><circle cx="319.4" cy="530.6" r="1.6" fill="#1f5fb0"/><circle cx="350.8" cy="513.6" r="1.6" fill="#7b7e1c"/><circle cx="326.8" cy="555.6" r="1.6" fill="#189a5a"/><circle cx="310.9" cy="515.2" r="1.6" fill="#7b7e1c"/><circle cx="357.6" cy="516.2" r="1.6" fill="#9a7cc4"/><circle cx="342.6" cy="511.8" r="1.6" fill="#9a7cc4"/><circle cx="359.3" cy="534.5" r="1.6" fill="#6e6e6e"/><circle cx="342.6" cy="561.9" r="1.6" fill="#c8951d"/><circle cx="329.2" cy="550.1" r="1.6" fill="#7b7e1c"/><circle cx="339.5" cy="481.1" r="1.6" fill="#9a7cc4"/><circle cx="302.8" cy="558.0" r="1.6" fill="#c8951d"/><circle cx="314.4" cy="535.4" r="1.6" fill="#6e6e6e"/><circle cx="299.6" cy="537.6" r="1.6" fill="#ee3d43"/><circle cx="359.2" cy="477.2" r="1.6" fill="#16b9c4"/><circle cx="353.5" cy="541.6" r="1.6" fill="#6b4747"/><circle cx="349.9" cy="531.4" r="1.6" fill="#ee3d43"/><circle cx="328.0" cy="508.5" r="1.6" fill="#ee3d43"/><circle cx="357.4" cy="532.3" r="1.6" fill="#6e6e6e"/><circle cx="323.6" cy="544.1" r="1.6" fill="#1f5fb0"/><circle cx="305.2" cy="552.4" r="1.6" fill="#1f5fb0"/><circle cx="341.5" cy="506.9" r="1.6" fill="#7b7e1c"/><circle cx="348.5" cy="571.4" r="1.6" fill="#9a7cc4"/><circle cx="379.0" cy="545.2" r="1.6" fill="#9a7cc4"/><circle cx="359.9" cy="477.9" r="1.6" fill="#16b9c4"/><circle cx="327.3" cy="487.3" r="1.6" fill="#7b7e1c"/><circle cx="357.5" cy="482.4" r="1.6" fill="#16b9c4"/><circle cx="314.1" cy="569.1" r="1.6" fill="#189a5a"/><circle cx="386.4" cy="528.9" r="1.6" fill="#189a5a"/><circle cx="302.1" cy="540.9" r="1.6" fill="#6e6e6e"/><circle cx="363.3" cy="495.1" r="1.6" fill="#189a5a"/><circle cx="374.7" cy="501.7" r="1.6" fill="#16b9c4"/><circle cx="344.3" cy="478.7" r="1.6" fill="#9a7cc4"/><circle cx="359.9" cy="569.5" r="1.6" fill="#c8951d"/><circle cx="357.8" cy="501.3" r="1.6" fill="#16b9c4"/><circle cx="376.1" cy="534.7" r="1.6" fill="#1f5fb0"/><circle cx="351.6" cy="490.4" r="1.6" fill="#16b9c4"/><circle cx="372.4" cy="523.1" r="1.6" fill="#16b9c4"/><circle cx="377.2" cy="534.9" r="1.6" fill="#1f5fb0"/><circle cx="314.6" cy="573.0" r="1.6" fill="#c8951d"/><circle cx="334.9" cy="530.2" r="1.6" fill="#7b7e1c"/><circle cx="338.7" cy="500.4" r="1.6" fill="#7b7e1c"/><circle cx="370.7" cy="538.0" r="1.6" fill="#6b4747"/><circle cx="354.2" cy="544.3" r="1.6" fill="#9a7cc4"/><circle cx="363.7" cy="529.5" r="1.6" fill="#9a7cc4"/><circle cx="389.6" cy="494.3" r="1.6" fill="#16b9c4"/><circle cx="395.5" cy="505.7" r="1.6" fill="#f26a2a"/><circle cx="296.8" cy="529.5" r="1.6" fill="#189a5a"/><circle cx="324.1" cy="503.2" r="1.6" fill="#16b9c4"/><circle cx="366.4" cy="554.4" r="1.6" fill="#6b4747"/><circle cx="328.0" cy="531.0" r="1.6" fill="#9a7cc4"/><circle cx="313.6" cy="560.0" r="1.6" fill="#ee3d43"/><circle cx="329.2" cy="506.2" r="1.6" fill="#7b7e1c"/><circle cx="324.6" cy="502.5" r="1.6" fill="#7b7e1c"/><circle cx="314.2" cy="509.8" r="1.6" fill="#7b7e1c"/><circle cx="338.2" cy="538.2" r="1.6" fill="#1f5fb0"/><circle cx="300.1" cy="548.5" r="1.6" fill="#ee3d43"/><circle cx="353.9" cy="540.0" r="1.6" fill="#1f5fb0"/><circle cx="380.3" cy="506.7" r="1.6" fill="#7b7e1c"/><circle cx="365.2" cy="566.9" r="1.6" fill="#c8951d"/><circle cx="354.7" cy="495.3" r="1.6" fill="#16b9c4"/><circle cx="320.4" cy="562.1" r="1.6" fill="#c8951d"/><circle cx="362.9" cy="489.8" r="1.6" fill="#16b9c4"/><circle cx="341.2" cy="538.6" r="1.6" fill="#ee3d43"/><circle cx="386.6" cy="528.6" r="1.6" fill="#f26a2a"/><circle cx="389.5" cy="504.1" r="1.6" fill="#f26a2a"/><circle cx="308.2" cy="516.8" r="1.6" fill="#6e6e6e"/><circle cx="340.5" cy="502.2" r="1.6" fill="#7b7e1c"/><circle cx="321.0" cy="528.1" r="1.6" fill="#1f5fb0"/><circle cx="351.6" cy="569.6" r="1.6" fill="#c8951d"/><circle cx="388.7" cy="523.6" r="1.6" fill="#f26a2a"/><circle cx="378.9" cy="497.8" r="1.6" fill="#6e6e6e"/><circle cx="378.8" cy="557.6" r="1.6" fill="#ee3d43"/><circle cx="349.3" cy="527.6" r="1.6" fill="#9a7cc4"/><circle cx="376.5" cy="497.7" r="1.6" fill="#16b9c4"/><circle cx="369.9" cy="565.5" r="1.6" fill="#c8951d"/><circle cx="331.9" cy="574.5" r="1.6" fill="#ee3d43"/><circle cx="338.7" cy="524.0" r="1.6" fill="#ee3d43"/><circle cx="360.9" cy="479.8" r="1.6" fill="#16b9c4"/><circle cx="345.9" cy="510.7" r="1.6" fill="#6e6e6e"/><circle cx="396.4" cy="512.1" r="1.6" fill="#f26a2a"/><circle cx="349.7" cy="523.0" r="1.6" fill="#1f5fb0"/><circle cx="335.6" cy="526.7" r="1.6" fill="#7b7e1c"/><circle cx="368.1" cy="565.1" r="1.6" fill="#c8951d"/><circle cx="321.6" cy="506.3" r="1.6" fill="#f26a2a"/><circle cx="317.6" cy="538.3" r="1.6" fill="#189a5a"/><circle cx="370.2" cy="562.8" r="1.6" fill="#c8951d"/><circle cx="316.4" cy="573.6" r="1.6" fill="#7b7e1c"/><circle cx="337.2" cy="484.0" r="1.6" fill="#9a7cc4"/><circle cx="342.4" cy="477.0" r="1.6" fill="#9a7cc4"/><circle cx="380.6" cy="557.9" r="1.6" fill="#9a7cc4"/><circle cx="345.9" cy="558.7" r="1.6" fill="#7b7e1c"/><circle cx="378.3" cy="492.7" r="1.6" fill="#16b9c4"/><circle cx="355.1" cy="514.4" r="1.6" fill="#ee3d43"/><circle cx="343.9" cy="563.6" r="1.6" fill="#c8951d"/><circle cx="300.6" cy="545.0" r="1.6" fill="#ee3d43"/><circle cx="383.0" cy="525.0" r="1.6" fill="#f26a2a"/><circle cx="383.0" cy="518.9" r="1.6" fill="#f26a2a"/><circle cx="368.8" cy="471.6" r="1.6" fill="#16b9c4"/><circle cx="351.0" cy="511.7" r="1.6" fill="#189a5a"/><circle cx="345.6" cy="546.5" r="1.6" fill="#189a5a"/><circle cx="335.9" cy="511.0" r="1.6" fill="#7b7e1c"/><circle cx="342.6" cy="480.6" r="1.6" fill="#9a7cc4"/><circle cx="333.5" cy="570.2" r="1.6" fill="#6b4747"/><circle cx="299.2" cy="554.3" r="1.6" fill="#ee3d43"/><circle cx="361.7" cy="487.8" r="1.6" fill="#16b9c4"/><circle cx="360.7" cy="567.7" r="1.6" fill="#c8951d"/><circle cx="377.4" cy="562.8" r="1.6" fill="#f26a2a"/><circle cx="345.3" cy="546.7" r="1.6" fill="#6e6e6e"/><circle cx="386.3" cy="518.9" r="1.6" fill="#f26a2a"/><circle cx="347.3" cy="536.0" r="1.6" fill="#ee3d43"/><circle cx="331.5" cy="526.8" r="1.6" fill="#1f5fb0"/><circle cx="365.8" cy="549.5" r="1.6" fill="#6b4747"/><circle cx="366.4" cy="558.2" r="1.6" fill="#6e6e6e"/><circle cx="320.1" cy="575.5" r="1.6" fill="#189a5a"/><circle cx="363.8" cy="568.0" r="1.6" fill="#c8951d"/><circle cx="328.2" cy="512.4" r="1.6" fill="#f26a2a"/><circle cx="339.8" cy="529.8" r="1.6" fill="#9a7cc4"/><circle cx="343.0" cy="484.4" r="1.6" fill="#16b9c4"/><circle cx="310.1" cy="541.3" r="1.6" fill="#189a5a"/><circle cx="353.6" cy="539.5" r="1.6" fill="#6e6e6e"/><circle cx="324.2" cy="516.7" r="1.6" fill="#7b7e1c"/><circle cx="343.2" cy="563.6" r="1.6" fill="#c8951d"/><circle cx="328.5" cy="509.3" r="1.6" fill="#f26a2a"/><circle cx="352.4" cy="532.9" r="1.6" fill="#f26a2a"/><circle cx="316.1" cy="507.0" r="1.6" fill="#ee3d43"/><circle cx="370.8" cy="471.8" r="1.6" fill="#16b9c4"/><circle cx="380.0" cy="552.5" r="1.6" fill="#ee3d43"/><circle cx="327.7" cy="542.0" r="1.6" fill="#189a5a"/><circle cx="362.9" cy="555.0" r="1.6" fill="#6b4747"/><circle cx="378.1" cy="557.8" r="1.6" fill="#c8951d"/><circle cx="338.2" cy="484.5" r="1.6" fill="#9a7cc4"/><circle cx="351.3" cy="504.9" r="1.6" fill="#7b7e1c"/><circle cx="311.0" cy="537.5" r="1.6" fill="#1f5fb0"/><circle cx="317.0" cy="531.7" r="1.6" fill="#189a5a"/><circle cx="329.9" cy="492.7" r="1.6" fill="#7b7e1c"/><circle cx="371.8" cy="546.9" r="1.6" fill="#f26a2a"/><circle cx="365.8" cy="524.2" r="1.6" fill="#9a7cc4"/><circle cx="393.4" cy="523.8" r="1.6" fill="#f26a2a"/><circle cx="375.6" cy="513.5" r="1.6" fill="#f26a2a"/><circle cx="356.7" cy="531.5" r="1.6" fill="#f26a2a"/><circle cx="373.8" cy="504.7" r="1.6" fill="#16b9c4"/><circle cx="370.3" cy="538.2" r="1.6" fill="#6b4747"/><circle cx="374.2" cy="512.4" r="1.6" fill="#f26a2a"/><circle cx="324.8" cy="515.2" r="1.6" fill="#1f5fb0"/><circle cx="347.5" cy="551.3" r="1.6" fill="#9a7cc4"/><circle cx="318.3" cy="502.3" r="1.6" fill="#7b7e1c"/><circle cx="376.5" cy="552.9" r="1.6" fill="#f26a2a"/><circle cx="393.5" cy="524.6" r="1.6" fill="#7b7e1c"/><circle cx="344.2" cy="511.0" r="1.6" fill="#6e6e6e"/><circle cx="334.4" cy="490.9" r="1.6" fill="#7b7e1c"/><circle cx="304.5" cy="529.7" r="1.6" fill="#ee3d43"/><circle cx="357.1" cy="549.6" r="1.6" fill="#9a7cc4"/><circle cx="355.7" cy="567.9" r="1.6" fill="#c8951d"/><circle cx="356.0" cy="480.5" r="1.6" fill="#16b9c4"/><circle cx="295.7" cy="538.5" r="1.6" fill="#ee3d43"/><circle cx="323.5" cy="517.4" r="1.6" fill="#ee3d43"/><circle cx="345.9" cy="539.1" r="1.6" fill="#9a7cc4"/><circle cx="348.2" cy="498.7" r="1.6" fill="#7b7e1c"/><circle cx="374.4" cy="559.3" r="1.6" fill="#f26a2a"/><circle cx="347.7" cy="557.0" r="1.6" fill="#6b4747"/><circle cx="295.5" cy="526.9" r="1.6" fill="#ee3d43"/><circle cx="347.8" cy="478.2" r="1.6" fill="#16b9c4"/><circle cx="361.7" cy="523.2" r="1.6" fill="#6b4747"/><circle cx="355.6" cy="525.3" r="1.6" fill="#7b7e1c"/><circle cx="325.7" cy="518.9" r="1.6" fill="#7b7e1c"/><circle cx="362.9" cy="543.2" r="1.6" fill="#9a7cc4"/><circle cx="390.2" cy="529.5" r="1.6" fill="#f26a2a"/><circle cx="383.0" cy="502.3" r="1.6" fill="#f26a2a"/><circle cx="359.5" cy="493.7" r="1.6" fill="#16b9c4"/><circle cx="360.6" cy="504.6" r="1.6" fill="#7b7e1c"/><circle cx="393.1" cy="507.0" r="1.6" fill="#7b7e1c"/><circle cx="344.8" cy="501.5" r="1.6" fill="#7b7e1c"/><circle cx="373.3" cy="481.4" r="1.6" fill="#16b9c4"/><circle cx="316.6" cy="500.2" r="1.6" fill="#7b7e1c"/><circle cx="385.7" cy="519.7" r="1.6" fill="#f26a2a"/><circle cx="345.5" cy="560.9" r="1.6" fill="#189a5a"/><circle cx="316.7" cy="512.0" r="1.6" fill="#ee3d43"/><circle cx="321.9" cy="547.2" r="1.6" fill="#189a5a"/><circle cx="351.2" cy="557.2" r="1.6" fill="#7b7e1c"/><circle cx="315.6" cy="553.7" r="1.6" fill="#c8951d"/><circle cx="325.5" cy="491.1" r="1.6" fill="#7b7e1c"/><circle cx="323.3" cy="488.4" r="1.6" fill="#7b7e1c"/><circle cx="296.8" cy="524.3" r="1.6" fill="#c8951d"/><circle cx="319.9" cy="519.9" r="1.6" fill="#6e6e6e"/><circle cx="353.6" cy="479.9" r="1.6" fill="#16b9c4"/><circle cx="366.8" cy="491.8" r="1.6" fill="#16b9c4"/><circle cx="347.2" cy="542.8" r="1.6" fill="#1f5fb0"/><circle cx="381.7" cy="499.1" r="1.6" fill="#f26a2a"/><circle cx="328.7" cy="499.7" r="1.6" fill="#1f5fb0"/><circle cx="349.9" cy="502.0" r="1.6" fill="#7b7e1c"/><circle cx="376.5" cy="562.9" r="1.6" fill="#f26a2a"/><circle cx="337.3" cy="482.3" r="1.6" fill="#16b9c4"/><circle cx="359.8" cy="517.7" r="1.6" fill="#6e6e6e"/><circle cx="318.8" cy="539.2" r="1.6" fill="#189a5a"/><circle cx="374.4" cy="523.5" r="1.6" fill="#6b4747"/><circle cx="326.9" cy="553.6" r="1.6" fill="#f26a2a"/><circle cx="346.2" cy="499.1" r="1.6" fill="#7b7e1c"/><circle cx="347.8" cy="493.1" r="1.6" fill="#16b9c4"/><circle cx="344.4" cy="490.1" r="1.6" fill="#c8951d"/><circle cx="355.7" cy="508.7" r="1.6" fill="#6e6e6e"/><circle cx="312.0" cy="532.2" r="1.6" fill="#1f5fb0"/><circle cx="324.3" cy="573.7" r="1.6" fill="#c8951d"/><circle cx="354.1" cy="486.6" r="1.6" fill="#16b9c4"/><circle cx="347.5" cy="514.8" r="1.6" fill="#ee3d43"/><circle cx="300.5" cy="558.0" r="1.6" fill="#f26a2a"/><circle cx="359.4" cy="482.4" r="1.6" fill="#16b9c4"/><circle cx="374.5" cy="509.1" r="1.6" fill="#9a7cc4"/><circle cx="341.7" cy="484.6" r="1.6" fill="#16b9c4"/><circle cx="340.1" cy="487.2" r="1.6" fill="#1f5fb0"/><circle cx="365.8" cy="515.9" r="1.6" fill="#7b7e1c"/><circle cx="305.0" cy="546.5" r="1.6" fill="#ee3d43"/><circle cx="358.1" cy="497.1" r="1.6" fill="#16b9c4"/><circle cx="297.5" cy="532.9" r="1.6" fill="#7b7e1c"/><circle cx="357.5" cy="514.6" r="1.6" fill="#6e6e6e"/><circle cx="297.7" cy="523.7" r="1.6" fill="#189a5a"/><circle cx="331.8" cy="515.5" r="1.6" fill="#ee3d43"/><circle cx="390.6" cy="499.7" r="1.6" fill="#189a5a"/><circle cx="308.5" cy="525.7" r="1.6" fill="#6e6e6e"/><circle cx="367.6" cy="510.5" r="1.6" fill="#f26a2a"/><text x="474.3" y="442" font-family="Liberation Sans" font-size="14.5" fill="#222">f</text><rect x="509.2" y="446.9" width="170.60" height="156.40" fill="none" stroke="#333" stroke-width="1"/><text x="521.39" y="619" font-family="Liberation Sans" font-size="10.1" fill="#333" text-anchor="middle">-60</text><text x="501.60" y="595.63" font-family="Liberation Sans" font-size="10.1" fill="#333" text-anchor="end">-60</text><text x="545.76" y="619" font-family="Liberation Sans" font-size="10.1" fill="#333" text-anchor="middle">-40</text><text x="501.60" y="573.29" font-family="Liberation Sans" font-size="10.1" fill="#333" text-anchor="end">-40</text><text x="570.13" y="619" font-family="Liberation Sans" font-size="10.1" fill="#333" text-anchor="middle">-20</text><text x="501.60" y="550.94" font-family="Liberation Sans" font-size="10.1" fill="#333" text-anchor="end">-20</text><text x="594.50" y="619" font-family="Liberation Sans" font-size="10.1" fill="#333" text-anchor="middle">0</text><text x="501.60" y="528.60" font-family="Liberation Sans" font-size="10.1" fill="#333" text-anchor="end">0</text><text x="618.87" y="619" font-family="Liberation Sans" font-size="10.1" fill="#333" text-anchor="middle">20</text><text x="501.60" y="506.26" font-family="Liberation Sans" font-size="10.1" fill="#333" text-anchor="end">20</text><text x="643.24" y="619" font-family="Liberation Sans" font-size="10.1" fill="#333" text-anchor="middle">40</text><text x="501.60" y="483.91" font-family="Liberation Sans" font-size="10.1" fill="#333" text-anchor="end">40</text><text x="667.61" y="619" font-family="Liberation Sans" font-size="10.1" fill="#333" text-anchor="middle">60</text><text x="501.60" y="461.57" font-family="Liberation Sans" font-size="10.1" fill="#333" text-anchor="end">60</text><path d="M509.20 603.3V605.8M506.7 603.30H509.2M521.39 603.3V607.9M504.59999999999997 592.13H509.2M533.57 603.3V605.8M506.7 580.96H509.2M545.76 603.3V607.9M504.59999999999997 569.79H509.2M557.94 603.3V605.8M506.7 558.61H509.2M570.13 603.3V607.9M504.59999999999997 547.44H509.2M582.31 603.3V605.8M506.7 536.27H509.2M594.50 603.3V607.9M504.59999999999997 525.10H509.2M606.69 603.3V605.8M506.7 513.93H509.2M618.87 603.3V607.9M504.59999999999997 502.76H509.2M631.06 603.3V605.8M506.7 491.59H509.2M643.24 603.3V607.9M504.59999999999997 480.41H509.2M655.43 603.3V605.8M506.7 469.24H509.2M667.61 603.3V607.9M504.59999999999997 458.07H509.2M679.80 603.3V605.8M506.7 446.90H509.2" stroke="#333" stroke-width="0.9"/><text x="594.50" y="637" font-family="Liberation Sans" font-size="12.2" fill="#262626" text-anchor="middle">Principal component 1</text><text transform="translate(482.00 525.10) rotate(-90)" font-family="Liberation Sans" font-size="12.2" fill="#262626" text-anchor="middle">Principal component 2</text><ellipse cx="536.2" cy="495.2" rx="5.70" ry="5.30" fill="#c8951d"/><circle cx="532.4" cy="491.7" r="1.25" fill="#c8951d"/><circle cx="536.9" cy="491.1" r="1.25" fill="#c8951d"/><circle cx="534.5" cy="499.9" r="1.25" fill="#c8951d"/><circle cx="541.5" cy="495.4" r="1.25" fill="#c8951d"/><circle cx="537.6" cy="491.0" r="1.25" fill="#c8951d"/><circle cx="534.7" cy="499.2" r="1.25" fill="#c8951d"/><circle cx="536.1" cy="499.6" r="1.25" fill="#c8951d"/><circle cx="531.3" cy="495.1" r="1.25" fill="#c8951d"/><circle cx="541.4" cy="495.1" r="1.25" fill="#c8951d"/><circle cx="532.3" cy="491.7" r="1.25" fill="#c8951d"/><circle cx="537.1" cy="499.1" r="1.25" fill="#c8951d"/><circle cx="533.0" cy="492.7" r="1.25" fill="#c8951d"/><circle cx="540.9" cy="496.2" r="1.25" fill="#c8951d"/><circle cx="530.9" cy="496.3" r="1.25" fill="#c8951d"/><circle cx="532.9" cy="491.9" r="1.25" fill="#c8951d"/><circle cx="531.7" cy="495.3" r="1.25" fill="#c8951d"/><circle cx="540.6" cy="495.5" r="1.25" fill="#c8951d"/><circle cx="534.6" cy="491.4" r="1.25" fill="#c8951d"/><circle cx="533.4" cy="498.0" r="1.25" fill="#c8951d"/><circle cx="538.3" cy="491.7" r="1.25" fill="#c8951d"/><circle cx="535.6" cy="500.1" r="1.25" fill="#c8951d"/><circle cx="530.9" cy="494.9" r="1.25" fill="#c8951d"/><circle cx="532.9" cy="491.5" r="1.25" fill="#c8951d"/><circle cx="540.3" cy="497.7" r="1.25" fill="#c8951d"/><circle cx="530.9" cy="495.0" r="1.25" fill="#c8951d"/><circle cx="533.0" cy="498.7" r="1.25" fill="#c8951d"/><circle cx="540.5" cy="496.8" r="1.25" fill="#c8951d"/><circle cx="534.3" cy="498.8" r="1.25" fill="#c8951d"/><circle cx="538.1" cy="491.3" r="1.25" fill="#c8951d"/><circle cx="541.1" cy="494.6" r="1.25" fill="#c8951d"/><circle cx="532.2" cy="492.4" r="1.25" fill="#c8951d"/><circle cx="534.3" cy="491.6" r="1.25" fill="#c8951d"/><circle cx="532.1" cy="496.7" r="1.25" fill="#c8951d"/><circle cx="532.7" cy="497.5" r="1.25" fill="#c8951d"/><circle cx="540.5" cy="494.4" r="1.25" fill="#c8951d"/><circle cx="534.1" cy="491.5" r="1.25" fill="#c8951d"/><circle cx="539.7" cy="491.9" r="1.25" fill="#c8951d"/><circle cx="539.8" cy="498.8" r="1.25" fill="#c8951d"/><circle cx="541.2" cy="493.5" r="1.25" fill="#c8951d"/><circle cx="532.3" cy="493.5" r="1.25" fill="#c8951d"/><circle cx="538.1" cy="499.9" r="1.25" fill="#c8951d"/><circle cx="532.1" cy="493.9" r="1.25" fill="#c8951d"/><circle cx="539.9" cy="492.1" r="1.25" fill="#c8951d"/><circle cx="532.0" cy="493.4" r="1.25" fill="#c8951d"/><circle cx="532.4" cy="497.4" r="1.25" fill="#c8951d"/><circle cx="541.4" cy="496.4" r="1.25" fill="#c8951d"/><circle cx="531.4" cy="496.1" r="1.25" fill="#c8951d"/><circle cx="533.9" cy="499.5" r="1.25" fill="#c8951d"/><circle cx="540.8" cy="495.9" r="1.25" fill="#c8951d"/><circle cx="540.4" cy="496.0" r="1.25" fill="#c8951d"/><circle cx="541.1" cy="494.2" r="1.25" fill="#c8951d"/><circle cx="531.8" cy="497.2" r="1.25" fill="#c8951d"/><circle cx="539.4" cy="492.1" r="1.25" fill="#c8951d"/><circle cx="531.9" cy="492.7" r="1.25" fill="#c8951d"/><circle cx="533.2" cy="498.7" r="1.25" fill="#c8951d"/><circle cx="536.7" cy="490.2" r="1.25" fill="#c8951d"/><circle cx="539.3" cy="499.3" r="1.25" fill="#c8951d"/><circle cx="541.4" cy="495.4" r="1.25" fill="#c8951d"/><circle cx="537.8" cy="491.5" r="1.25" fill="#c8951d"/><circle cx="531.6" cy="497.6" r="1.25" fill="#c8951d"/><circle cx="541.2" cy="495.6" r="1.25" fill="#c8951d"/><circle cx="537.5" cy="490.9" r="1.25" fill="#c8951d"/><circle cx="535.5" cy="491.1" r="1.25" fill="#c8951d"/><circle cx="537.7" cy="499.3" r="1.25" fill="#c8951d"/><circle cx="538.2" cy="499.1" r="1.25" fill="#c8951d"/><circle cx="540.9" cy="493.7" r="1.25" fill="#c8951d"/><circle cx="533.8" cy="498.7" r="1.25" fill="#c8951d"/><circle cx="540.7" cy="493.9" r="1.25" fill="#c8951d"/><circle cx="541.0" cy="494.6" r="1.25" fill="#c8951d"/><circle cx="530.9" cy="494.5" r="1.25" fill="#c8951d"/><circle cx="536.0" cy="490.6" r="1.25" fill="#c8951d"/><circle cx="531.4" cy="497.4" r="1.25" fill="#c8951d"/><circle cx="531.6" cy="497.8" r="1.25" fill="#c8951d"/><circle cx="540.5" cy="497.0" r="1.25" fill="#c8951d"/><circle cx="530.8" cy="494.6" r="1.25" fill="#c8951d"/><circle cx="536.2" cy="500.1" r="1.25" fill="#c8951d"/><ellipse cx="533" cy="497" rx="3.10" ry="3.10" fill="#c8951d"/><circle cx="531.8" cy="494.6" r="1.25" fill="#c8951d"/><circle cx="531.0" cy="494.9" r="1.25" fill="#c8951d"/><circle cx="531.8" cy="499.1" r="1.25" fill="#c8951d"/><circle cx="533.6" cy="499.1" r="1.25" fill="#c8951d"/><circle cx="533.7" cy="499.8" r="1.25" fill="#c8951d"/><circle cx="534.2" cy="495.1" r="1.25" fill="#c8951d"/><circle cx="531.0" cy="495.5" r="1.25" fill="#c8951d"/><circle cx="530.8" cy="495.5" r="1.25" fill="#c8951d"/><circle cx="532.0" cy="499.7" r="1.25" fill="#c8951d"/><circle cx="530.4" cy="497.6" r="1.25" fill="#c8951d"/><circle cx="531.5" cy="495.3" r="1.25" fill="#c8951d"/><circle cx="535.3" cy="497.9" r="1.25" fill="#c8951d"/><circle cx="533.2" cy="494.2" r="1.25" fill="#c8951d"/><circle cx="532.7" cy="494.8" r="1.25" fill="#c8951d"/><circle cx="535.4" cy="495.6" r="1.25" fill="#c8951d"/><circle cx="534.8" cy="495.2" r="1.25" fill="#c8951d"/><circle cx="534.9" cy="495.9" r="1.25" fill="#c8951d"/><circle cx="535.2" cy="497.4" r="1.25" fill="#c8951d"/><circle cx="533.0" cy="499.4" r="1.25" fill="#c8951d"/><circle cx="534.0" cy="499.4" r="1.25" fill="#c8951d"/><circle cx="535.5" cy="497.6" r="1.25" fill="#c8951d"/><circle cx="534.3" cy="499.3" r="1.25" fill="#c8951d"/><circle cx="535.4" cy="497.3" r="1.25" fill="#c8951d"/><circle cx="535.4" cy="496.0" r="1.25" fill="#c8951d"/><circle cx="534.0" cy="494.5" r="1.25" fill="#c8951d"/><circle cx="531.2" cy="495.5" r="1.25" fill="#c8951d"/><circle cx="531.0" cy="496.0" r="1.25" fill="#c8951d"/><circle cx="533.9" cy="494.3" r="1.25" fill="#c8951d"/><circle cx="534.3" cy="495.2" r="1.25" fill="#c8951d"/><circle cx="531.7" cy="499.0" r="1.25" fill="#c8951d"/><circle cx="535.0" cy="498.7" r="1.25" fill="#c8951d"/><circle cx="533.7" cy="494.7" r="1.25" fill="#c8951d"/><circle cx="534.8" cy="494.9" r="1.25" fill="#c8951d"/><circle cx="534.9" cy="499.0" r="1.25" fill="#c8951d"/><circle cx="534.7" cy="495.4" r="1.25" fill="#c8951d"/><circle cx="530.6" cy="495.8" r="1.25" fill="#c8951d"/><circle cx="531.3" cy="495.6" r="1.25" fill="#c8951d"/><circle cx="531.6" cy="494.8" r="1.25" fill="#c8951d"/><circle cx="534.2" cy="494.5" r="1.25" fill="#c8951d"/><circle cx="531.7" cy="499.4" r="1.25" fill="#c8951d"/><circle cx="534.9" cy="494.9" r="1.25" fill="#c8951d"/><circle cx="534.2" cy="498.9" r="1.25" fill="#c8951d"/><circle cx="531.6" cy="495.1" r="1.25" fill="#c8951d"/><circle cx="530.4" cy="495.9" r="1.25" fill="#c8951d"/><circle cx="531.3" cy="498.6" r="1.25" fill="#c8951d"/><circle cx="530.4" cy="497.7" r="1.25" fill="#c8951d"/><circle cx="535.0" cy="498.5" r="1.25" fill="#c8951d"/><circle cx="534.8" cy="499.0" r="1.25" fill="#c8951d"/><ellipse cx="539.5" cy="493" rx="2.60" ry="2.60" fill="#c8951d"/><circle cx="540.5" cy="491.2" r="1.25" fill="#c8951d"/><circle cx="538.0" cy="494.5" r="1.25" fill="#c8951d"/><circle cx="539.9" cy="494.9" r="1.25" fill="#c8951d"/><circle cx="538.5" cy="494.8" r="1.25" fill="#c8951d"/><circle cx="541.5" cy="494.1" r="1.25" fill="#c8951d"/><circle cx="537.8" cy="492.1" r="1.25" fill="#c8951d"/><circle cx="541.5" cy="494.1" r="1.25" fill="#c8951d"/><circle cx="540.8" cy="494.4" r="1.25" fill="#c8951d"/><circle cx="540.8" cy="494.4" r="1.25" fill="#c8951d"/><circle cx="541.1" cy="491.9" r="1.25" fill="#c8951d"/><circle cx="538.7" cy="495.2" r="1.25" fill="#c8951d"/><circle cx="538.1" cy="491.7" r="1.25" fill="#c8951d"/><circle cx="537.4" cy="493.9" r="1.25" fill="#c8951d"/><circle cx="537.9" cy="494.6" r="1.25" fill="#c8951d"/><circle cx="541.3" cy="494.3" r="1.25" fill="#c8951d"/><circle cx="539.9" cy="490.7" r="1.25" fill="#c8951d"/><circle cx="538.6" cy="491.2" r="1.25" fill="#c8951d"/><circle cx="541.4" cy="493.8" r="1.25" fill="#c8951d"/><circle cx="539.6" cy="491.1" r="1.25" fill="#c8951d"/><circle cx="539.3" cy="495.1" r="1.25" fill="#c8951d"/><circle cx="539.5" cy="490.7" r="1.25" fill="#c8951d"/><circle cx="540.8" cy="494.4" r="1.25" fill="#c8951d"/><circle cx="540.2" cy="490.9" r="1.25" fill="#c8951d"/><circle cx="539.1" cy="490.6" r="1.25" fill="#c8951d"/><circle cx="541.6" cy="492.1" r="1.25" fill="#c8951d"/><circle cx="539.8" cy="491.0" r="1.25" fill="#c8951d"/><circle cx="538.3" cy="491.5" r="1.25" fill="#c8951d"/><circle cx="539.6" cy="490.7" r="1.25" fill="#c8951d"/><circle cx="539.1" cy="491.0" r="1.25" fill="#c8951d"/><circle cx="538.0" cy="494.4" r="1.25" fill="#c8951d"/><circle cx="541.8" cy="493.5" r="1.25" fill="#c8951d"/><circle cx="537.5" cy="492.5" r="1.25" fill="#c8951d"/><circle cx="537.4" cy="492.3" r="1.25" fill="#c8951d"/><circle cx="537.8" cy="494.6" r="1.25" fill="#c8951d"/><circle cx="541.3" cy="492.0" r="1.25" fill="#c8951d"/><circle cx="541.0" cy="494.7" r="1.25" fill="#c8951d"/><circle cx="541.4" cy="492.9" r="1.25" fill="#c8951d"/><circle cx="539.0" cy="490.8" r="1.25" fill="#c8951d"/><circle cx="541.1" cy="492.1" r="1.25" fill="#c8951d"/><circle cx="541.5" cy="494.3" r="1.25" fill="#c8951d"/><circle cx="540.9" cy="494.3" r="1.25" fill="#c8951d"/><circle cx="537.7" cy="492.1" r="1.25" fill="#c8951d"/><ellipse cx="577.5" cy="478" rx="5.10" ry="4.70" fill="#7b7e1c"/><circle cx="577.5" cy="474.4" r="1.25" fill="#7b7e1c"/><circle cx="580.9" cy="476.1" r="1.25" fill="#7b7e1c"/><circle cx="578.0" cy="474.6" r="1.25" fill="#7b7e1c"/><circle cx="573.8" cy="478.6" r="1.25" fill="#7b7e1c"/><circle cx="575.9" cy="481.4" r="1.25" fill="#7b7e1c"/><circle cx="576.7" cy="474.2" r="1.25" fill="#7b7e1c"/><circle cx="582.1" cy="479.6" r="1.25" fill="#7b7e1c"/><circle cx="581.2" cy="475.2" r="1.25" fill="#7b7e1c"/><circle cx="577.6" cy="481.8" r="1.25" fill="#7b7e1c"/><circle cx="578.0" cy="481.5" r="1.25" fill="#7b7e1c"/><circle cx="581.7" cy="478.8" r="1.25" fill="#7b7e1c"/><circle cx="580.3" cy="480.5" r="1.25" fill="#7b7e1c"/><circle cx="580.2" cy="475.0" r="1.25" fill="#7b7e1c"/><circle cx="579.3" cy="481.8" r="1.25" fill="#7b7e1c"/><circle cx="577.1" cy="481.9" r="1.25" fill="#7b7e1c"/><circle cx="576.6" cy="481.9" r="1.25" fill="#7b7e1c"/><circle cx="574.5" cy="475.1" r="1.25" fill="#7b7e1c"/><circle cx="573.8" cy="480.6" r="1.25" fill="#7b7e1c"/><circle cx="580.2" cy="475.4" r="1.25" fill="#7b7e1c"/><circle cx="580.0" cy="480.6" r="1.25" fill="#7b7e1c"/><circle cx="582.3" cy="477.4" r="1.25" fill="#7b7e1c"/><circle cx="578.1" cy="482.4" r="1.25" fill="#7b7e1c"/><circle cx="578.6" cy="481.8" r="1.25" fill="#7b7e1c"/><circle cx="572.7" cy="478.1" r="1.25" fill="#7b7e1c"/><circle cx="581.4" cy="478.9" r="1.25" fill="#7b7e1c"/><circle cx="574.5" cy="476.0" r="1.25" fill="#7b7e1c"/><circle cx="577.9" cy="481.9" r="1.25" fill="#7b7e1c"/><circle cx="580.9" cy="475.1" r="1.25" fill="#7b7e1c"/><circle cx="579.7" cy="474.3" r="1.25" fill="#7b7e1c"/><circle cx="576.3" cy="473.8" r="1.25" fill="#7b7e1c"/><circle cx="575.6" cy="474.2" r="1.25" fill="#7b7e1c"/><circle cx="576.3" cy="481.4" r="1.25" fill="#7b7e1c"/><circle cx="577.7" cy="474.4" r="1.25" fill="#7b7e1c"/><circle cx="581.4" cy="476.0" r="1.25" fill="#7b7e1c"/><circle cx="575.2" cy="481.9" r="1.25" fill="#7b7e1c"/><circle cx="579.9" cy="481.3" r="1.25" fill="#7b7e1c"/><circle cx="581.6" cy="480.4" r="1.25" fill="#7b7e1c"/><circle cx="573.4" cy="476.0" r="1.25" fill="#7b7e1c"/><circle cx="576.6" cy="482.2" r="1.25" fill="#7b7e1c"/><circle cx="576.2" cy="474.1" r="1.25" fill="#7b7e1c"/><circle cx="581.5" cy="476.8" r="1.25" fill="#7b7e1c"/><circle cx="573.6" cy="480.1" r="1.25" fill="#7b7e1c"/><circle cx="579.6" cy="474.8" r="1.25" fill="#7b7e1c"/><circle cx="575.6" cy="474.8" r="1.25" fill="#7b7e1c"/><circle cx="573.1" cy="476.6" r="1.25" fill="#7b7e1c"/><circle cx="581.7" cy="479.7" r="1.25" fill="#7b7e1c"/><circle cx="582.3" cy="478.4" r="1.25" fill="#7b7e1c"/><circle cx="573.4" cy="478.8" r="1.25" fill="#7b7e1c"/><circle cx="576.7" cy="474.1" r="1.25" fill="#7b7e1c"/><circle cx="577.0" cy="474.6" r="1.25" fill="#7b7e1c"/><circle cx="573.5" cy="476.5" r="1.25" fill="#7b7e1c"/><circle cx="580.9" cy="476.6" r="1.25" fill="#7b7e1c"/><circle cx="573.2" cy="479.2" r="1.25" fill="#7b7e1c"/><circle cx="573.9" cy="476.9" r="1.25" fill="#7b7e1c"/><circle cx="574.2" cy="476.0" r="1.25" fill="#7b7e1c"/><circle cx="579.1" cy="482.1" r="1.25" fill="#7b7e1c"/><circle cx="578.9" cy="481.7" r="1.25" fill="#7b7e1c"/><circle cx="577.5" cy="473.8" r="1.25" fill="#7b7e1c"/><circle cx="573.1" cy="476.6" r="1.25" fill="#7b7e1c"/><circle cx="573.2" cy="478.9" r="1.25" fill="#7b7e1c"/><circle cx="579.4" cy="474.2" r="1.25" fill="#7b7e1c"/><circle cx="574.9" cy="475.0" r="1.25" fill="#7b7e1c"/><circle cx="573.6" cy="476.6" r="1.25" fill="#7b7e1c"/><circle cx="577.4" cy="474.2" r="1.25" fill="#7b7e1c"/><circle cx="573.0" cy="478.9" r="1.25" fill="#7b7e1c"/><circle cx="573.4" cy="477.9" r="1.25" fill="#7b7e1c"/><circle cx="579.4" cy="474.6" r="1.25" fill="#7b7e1c"/><circle cx="580.1" cy="474.5" r="1.25" fill="#7b7e1c"/><circle cx="573.2" cy="479.4" r="1.25" fill="#7b7e1c"/><ellipse cx="582" cy="482" rx="2.60" ry="2.30" fill="#7b7e1c"/><circle cx="584.0" cy="482.4" r="1.25" fill="#7b7e1c"/><circle cx="583.4" cy="480.6" r="1.25" fill="#7b7e1c"/><circle cx="579.9" cy="481.3" r="1.25" fill="#7b7e1c"/><circle cx="581.1" cy="480.3" r="1.25" fill="#7b7e1c"/><circle cx="580.3" cy="482.8" r="1.25" fill="#7b7e1c"/><circle cx="581.5" cy="483.7" r="1.25" fill="#7b7e1c"/><circle cx="579.8" cy="482.9" r="1.25" fill="#7b7e1c"/><circle cx="580.8" cy="483.4" r="1.25" fill="#7b7e1c"/><circle cx="580.5" cy="483.4" r="1.25" fill="#7b7e1c"/><circle cx="584.2" cy="481.3" r="1.25" fill="#7b7e1c"/><circle cx="580.6" cy="483.2" r="1.25" fill="#7b7e1c"/><circle cx="583.6" cy="480.8" r="1.25" fill="#7b7e1c"/><circle cx="581.3" cy="480.5" r="1.25" fill="#7b7e1c"/><circle cx="583.3" cy="480.7" r="1.25" fill="#7b7e1c"/><circle cx="580.1" cy="482.1" r="1.25" fill="#7b7e1c"/><circle cx="580.0" cy="483.0" r="1.25" fill="#7b7e1c"/><circle cx="583.0" cy="480.4" r="1.25" fill="#7b7e1c"/><circle cx="582.2" cy="480.2" r="1.25" fill="#7b7e1c"/><circle cx="580.5" cy="483.3" r="1.25" fill="#7b7e1c"/><circle cx="582.6" cy="483.7" r="1.25" fill="#7b7e1c"/><circle cx="581.4" cy="480.1" r="1.25" fill="#7b7e1c"/><circle cx="584.1" cy="482.7" r="1.25" fill="#7b7e1c"/><circle cx="582.8" cy="480.4" r="1.25" fill="#7b7e1c"/><circle cx="584.0" cy="482.7" r="1.25" fill="#7b7e1c"/><circle cx="582.1" cy="483.9" r="1.25" fill="#7b7e1c"/><circle cx="580.4" cy="483.3" r="1.25" fill="#7b7e1c"/><circle cx="581.9" cy="483.8" r="1.25" fill="#7b7e1c"/><circle cx="579.8" cy="481.7" r="1.25" fill="#7b7e1c"/><circle cx="582.7" cy="484.0" r="1.25" fill="#7b7e1c"/><circle cx="581.5" cy="483.7" r="1.25" fill="#7b7e1c"/><circle cx="581.9" cy="483.6" r="1.25" fill="#7b7e1c"/><circle cx="580.0" cy="482.9" r="1.25" fill="#7b7e1c"/><circle cx="581.5" cy="480.4" r="1.25" fill="#7b7e1c"/><circle cx="583.3" cy="483.3" r="1.25" fill="#7b7e1c"/><circle cx="582.2" cy="480.2" r="1.25" fill="#7b7e1c"/><circle cx="583.9" cy="481.1" r="1.25" fill="#7b7e1c"/><circle cx="580.4" cy="480.6" r="1.25" fill="#7b7e1c"/><circle cx="582.0" cy="480.2" r="1.25" fill="#7b7e1c"/><circle cx="581.9" cy="483.8" r="1.25" fill="#7b7e1c"/><circle cx="580.1" cy="482.1" r="1.25" fill="#7b7e1c"/><ellipse cx="575" cy="474.5" rx="2.10" ry="1.60" fill="#7b7e1c"/><circle cx="573.4" cy="475.0" r="1.25" fill="#7b7e1c"/><circle cx="576.0" cy="475.3" r="1.25" fill="#7b7e1c"/><circle cx="575.7" cy="475.5" r="1.25" fill="#7b7e1c"/><circle cx="576.4" cy="474.2" r="1.25" fill="#7b7e1c"/><circle cx="575.6" cy="475.5" r="1.25" fill="#7b7e1c"/><circle cx="573.6" cy="474.7" r="1.25" fill="#7b7e1c"/><circle cx="573.5" cy="474.8" r="1.25" fill="#7b7e1c"/><circle cx="574.8" cy="475.8" r="1.25" fill="#7b7e1c"/><circle cx="575.7" cy="475.7" r="1.25" fill="#7b7e1c"/><circle cx="573.6" cy="475.2" r="1.25" fill="#7b7e1c"/><circle cx="575.6" cy="473.5" r="1.25" fill="#7b7e1c"/><circle cx="576.6" cy="473.9" r="1.25" fill="#7b7e1c"/><circle cx="574.3" cy="473.6" r="1.25" fill="#7b7e1c"/><circle cx="574.1" cy="473.4" r="1.25" fill="#7b7e1c"/><circle cx="575.2" cy="473.4" r="1.25" fill="#7b7e1c"/><circle cx="576.8" cy="474.1" r="1.25" fill="#7b7e1c"/><circle cx="576.2" cy="475.3" r="1.25" fill="#7b7e1c"/><circle cx="576.8" cy="474.8" r="1.25" fill="#7b7e1c"/><circle cx="576.6" cy="473.8" r="1.25" fill="#7b7e1c"/><circle cx="573.7" cy="473.7" r="1.25" fill="#7b7e1c"/><circle cx="574.3" cy="473.4" r="1.25" fill="#7b7e1c"/><circle cx="576.6" cy="474.1" r="1.25" fill="#7b7e1c"/><circle cx="574.1" cy="475.6" r="1.25" fill="#7b7e1c"/><circle cx="576.8" cy="474.7" r="1.25" fill="#7b7e1c"/><circle cx="574.4" cy="473.4" r="1.25" fill="#7b7e1c"/><circle cx="576.1" cy="473.4" r="1.25" fill="#7b7e1c"/><circle cx="574.2" cy="475.4" r="1.25" fill="#7b7e1c"/><circle cx="576.0" cy="475.3" r="1.25" fill="#7b7e1c"/><circle cx="574.5" cy="475.6" r="1.25" fill="#7b7e1c"/><circle cx="576.4" cy="474.0" r="1.25" fill="#7b7e1c"/><circle cx="576.4" cy="473.7" r="1.25" fill="#7b7e1c"/><circle cx="576.0" cy="473.6" r="1.25" fill="#7b7e1c"/><circle cx="576.8" cy="474.5" r="1.25" fill="#7b7e1c"/><ellipse cx="619.5" cy="477.5" rx="5.40" ry="3.70" fill="#f26a2a"/><circle cx="619.6" cy="480.2" r="1.25" fill="#f26a2a"/><circle cx="621.0" cy="474.4" r="1.25" fill="#f26a2a"/><circle cx="620.5" cy="480.3" r="1.25" fill="#f26a2a"/><circle cx="623.4" cy="476.4" r="1.25" fill="#f26a2a"/><circle cx="618.3" cy="474.9" r="1.25" fill="#f26a2a"/><circle cx="621.1" cy="475.0" r="1.25" fill="#f26a2a"/><circle cx="615.6" cy="477.2" r="1.25" fill="#f26a2a"/><circle cx="614.7" cy="476.5" r="1.25" fill="#f26a2a"/><circle cx="623.2" cy="478.9" r="1.25" fill="#f26a2a"/><circle cx="619.9" cy="474.4" r="1.25" fill="#f26a2a"/><circle cx="617.7" cy="480.4" r="1.25" fill="#f26a2a"/><circle cx="614.7" cy="478.4" r="1.25" fill="#f26a2a"/><circle cx="618.2" cy="480.7" r="1.25" fill="#f26a2a"/><circle cx="616.3" cy="475.0" r="1.25" fill="#f26a2a"/><circle cx="616.0" cy="479.8" r="1.25" fill="#f26a2a"/><circle cx="618.1" cy="474.7" r="1.25" fill="#f26a2a"/><circle cx="624.6" cy="478.1" r="1.25" fill="#f26a2a"/><circle cx="618.6" cy="474.8" r="1.25" fill="#f26a2a"/><circle cx="619.0" cy="474.7" r="1.25" fill="#f26a2a"/><circle cx="614.6" cy="478.1" r="1.25" fill="#f26a2a"/><circle cx="615.5" cy="478.4" r="1.25" fill="#f26a2a"/><circle cx="618.1" cy="480.0" r="1.25" fill="#f26a2a"/><circle cx="620.3" cy="480.3" r="1.25" fill="#f26a2a"/><circle cx="621.4" cy="479.9" r="1.25" fill="#f26a2a"/><circle cx="615.4" cy="478.1" r="1.25" fill="#f26a2a"/><circle cx="619.1" cy="474.1" r="1.25" fill="#f26a2a"/><circle cx="618.8" cy="480.6" r="1.25" fill="#f26a2a"/><circle cx="615.5" cy="477.4" r="1.25" fill="#f26a2a"/><circle cx="623.1" cy="479.9" r="1.25" fill="#f26a2a"/><circle cx="614.6" cy="478.0" r="1.25" fill="#f26a2a"/><circle cx="623.8" cy="478.8" r="1.25" fill="#f26a2a"/><circle cx="622.8" cy="475.0" r="1.25" fill="#f26a2a"/><circle cx="624.1" cy="477.6" r="1.25" fill="#f26a2a"/><circle cx="616.2" cy="479.9" r="1.25" fill="#f26a2a"/><circle cx="623.3" cy="478.8" r="1.25" fill="#f26a2a"/><circle cx="621.2" cy="474.7" r="1.25" fill="#f26a2a"/><circle cx="614.6" cy="478.5" r="1.25" fill="#f26a2a"/><circle cx="617.8" cy="479.9" r="1.25" fill="#f26a2a"/><circle cx="616.3" cy="479.2" r="1.25" fill="#f26a2a"/><circle cx="623.5" cy="479.0" r="1.25" fill="#f26a2a"/><circle cx="624.0" cy="476.6" r="1.25" fill="#f26a2a"/><circle cx="616.9" cy="475.2" r="1.25" fill="#f26a2a"/><circle cx="615.1" cy="476.1" r="1.25" fill="#f26a2a"/><circle cx="615.3" cy="475.7" r="1.25" fill="#f26a2a"/><circle cx="615.5" cy="476.6" r="1.25" fill="#f26a2a"/><circle cx="615.6" cy="476.0" r="1.25" fill="#f26a2a"/><circle cx="621.9" cy="480.2" r="1.25" fill="#f26a2a"/><circle cx="621.2" cy="475.0" r="1.25" fill="#f26a2a"/><circle cx="614.8" cy="476.6" r="1.25" fill="#f26a2a"/><circle cx="616.0" cy="479.1" r="1.25" fill="#f26a2a"/><circle cx="616.3" cy="479.7" r="1.25" fill="#f26a2a"/><circle cx="617.7" cy="474.6" r="1.25" fill="#f26a2a"/><circle cx="623.4" cy="479.6" r="1.25" fill="#f26a2a"/><circle cx="623.1" cy="476.3" r="1.25" fill="#f26a2a"/><circle cx="619.5" cy="480.3" r="1.25" fill="#f26a2a"/><circle cx="622.5" cy="474.7" r="1.25" fill="#f26a2a"/><circle cx="623.7" cy="478.3" r="1.25" fill="#f26a2a"/><circle cx="621.1" cy="480.3" r="1.25" fill="#f26a2a"/><circle cx="623.0" cy="476.2" r="1.25" fill="#f26a2a"/><circle cx="621.7" cy="480.2" r="1.25" fill="#f26a2a"/><circle cx="614.7" cy="477.0" r="1.25" fill="#f26a2a"/><circle cx="615.7" cy="478.5" r="1.25" fill="#f26a2a"/><circle cx="616.4" cy="480.3" r="1.25" fill="#f26a2a"/><circle cx="619.5" cy="474.8" r="1.25" fill="#f26a2a"/><circle cx="621.0" cy="474.8" r="1.25" fill="#f26a2a"/><ellipse cx="623.5" cy="474.5" rx="2.70" ry="2.10" fill="#f26a2a"/><circle cx="623.9" cy="473.1" r="1.25" fill="#f26a2a"/><circle cx="624.9" cy="473.4" r="1.25" fill="#f26a2a"/><circle cx="621.3" cy="475.0" r="1.25" fill="#f26a2a"/><circle cx="621.5" cy="474.4" r="1.25" fill="#f26a2a"/><circle cx="624.8" cy="475.7" r="1.25" fill="#f26a2a"/><circle cx="625.4" cy="475.0" r="1.25" fill="#f26a2a"/><circle cx="625.0" cy="475.7" r="1.25" fill="#f26a2a"/><circle cx="622.1" cy="475.8" r="1.25" fill="#f26a2a"/><circle cx="623.1" cy="475.9" r="1.25" fill="#f26a2a"/><circle cx="622.4" cy="476.1" r="1.25" fill="#f26a2a"/><circle cx="623.4" cy="476.1" r="1.25" fill="#f26a2a"/><circle cx="623.6" cy="472.9" r="1.25" fill="#f26a2a"/><circle cx="625.4" cy="473.3" r="1.25" fill="#f26a2a"/><circle cx="622.6" cy="476.1" r="1.25" fill="#f26a2a"/><circle cx="623.5" cy="476.0" r="1.25" fill="#f26a2a"/><circle cx="621.4" cy="475.2" r="1.25" fill="#f26a2a"/><circle cx="625.3" cy="473.9" r="1.25" fill="#f26a2a"/><circle cx="623.0" cy="472.9" r="1.25" fill="#f26a2a"/><circle cx="625.2" cy="475.9" r="1.25" fill="#f26a2a"/><circle cx="622.8" cy="473.1" r="1.25" fill="#f26a2a"/><circle cx="625.1" cy="473.7" r="1.25" fill="#f26a2a"/><circle cx="625.2" cy="475.4" r="1.25" fill="#f26a2a"/><circle cx="625.3" cy="474.0" r="1.25" fill="#f26a2a"/><circle cx="625.5" cy="473.7" r="1.25" fill="#f26a2a"/><circle cx="625.5" cy="475.2" r="1.25" fill="#f26a2a"/><circle cx="621.3" cy="474.9" r="1.25" fill="#f26a2a"/><circle cx="623.3" cy="472.8" r="1.25" fill="#f26a2a"/><circle cx="625.5" cy="474.5" r="1.25" fill="#f26a2a"/><circle cx="624.3" cy="473.0" r="1.25" fill="#f26a2a"/><circle cx="624.0" cy="472.7" r="1.25" fill="#f26a2a"/><circle cx="625.5" cy="474.4" r="1.25" fill="#f26a2a"/><circle cx="621.1" cy="475.0" r="1.25" fill="#f26a2a"/><circle cx="625.5" cy="474.0" r="1.25" fill="#f26a2a"/><circle cx="625.5" cy="473.9" r="1.25" fill="#f26a2a"/><circle cx="621.8" cy="475.8" r="1.25" fill="#f26a2a"/><circle cx="621.4" cy="474.8" r="1.25" fill="#f26a2a"/><circle cx="621.9" cy="475.6" r="1.25" fill="#f26a2a"/><circle cx="624.7" cy="475.6" r="1.25" fill="#f26a2a"/><circle cx="623.6" cy="472.8" r="1.25" fill="#f26a2a"/><ellipse cx="615.5" cy="479.5" rx="2.10" ry="1.60" fill="#f26a2a"/><circle cx="614.6" cy="478.3" r="1.25" fill="#f26a2a"/><circle cx="615.7" cy="480.6" r="1.25" fill="#f26a2a"/><circle cx="615.2" cy="480.6" r="1.25" fill="#f26a2a"/><circle cx="615.6" cy="478.3" r="1.25" fill="#f26a2a"/><circle cx="614.7" cy="480.6" r="1.25" fill="#f26a2a"/><circle cx="616.1" cy="480.5" r="1.25" fill="#f26a2a"/><circle cx="614.9" cy="478.3" r="1.25" fill="#f26a2a"/><circle cx="615.0" cy="480.7" r="1.25" fill="#f26a2a"/><circle cx="617.1" cy="479.8" r="1.25" fill="#f26a2a"/><circle cx="614.1" cy="479.0" r="1.25" fill="#f26a2a"/><circle cx="614.5" cy="480.5" r="1.25" fill="#f26a2a"/><circle cx="614.2" cy="478.9" r="1.25" fill="#f26a2a"/><circle cx="615.1" cy="478.5" r="1.25" fill="#f26a2a"/><circle cx="617.0" cy="479.3" r="1.25" fill="#f26a2a"/><circle cx="615.5" cy="480.6" r="1.25" fill="#f26a2a"/><circle cx="617.1" cy="479.4" r="1.25" fill="#f26a2a"/><circle cx="614.0" cy="478.6" r="1.25" fill="#f26a2a"/><circle cx="616.9" cy="479.2" r="1.25" fill="#f26a2a"/><circle cx="613.8" cy="479.3" r="1.25" fill="#f26a2a"/><circle cx="615.0" cy="478.4" r="1.25" fill="#f26a2a"/><circle cx="614.8" cy="480.4" r="1.25" fill="#f26a2a"/><circle cx="617.1" cy="479.8" r="1.25" fill="#f26a2a"/><circle cx="616.9" cy="480.0" r="1.25" fill="#f26a2a"/><circle cx="614.8" cy="480.4" r="1.25" fill="#f26a2a"/><circle cx="617.3" cy="479.8" r="1.25" fill="#f26a2a"/><circle cx="614.1" cy="479.9" r="1.25" fill="#f26a2a"/><circle cx="615.1" cy="478.5" r="1.25" fill="#f26a2a"/><circle cx="615.6" cy="480.9" r="1.25" fill="#f26a2a"/><circle cx="616.9" cy="478.7" r="1.25" fill="#f26a2a"/><circle cx="616.8" cy="480.1" r="1.25" fill="#f26a2a"/><circle cx="617.0" cy="479.7" r="1.25" fill="#f26a2a"/><circle cx="617.0" cy="479.7" r="1.25" fill="#f26a2a"/><circle cx="614.5" cy="478.7" r="1.25" fill="#f26a2a"/><ellipse cx="663" cy="505" rx="4.60" ry="4.10" fill="#6b4747"/><circle cx="665.4" cy="508.2" r="1.25" fill="#6b4747"/><circle cx="661.1" cy="507.8" r="1.25" fill="#6b4747"/><circle cx="666.6" cy="506.9" r="1.25" fill="#6b4747"/><circle cx="661.3" cy="501.9" r="1.25" fill="#6b4747"/><circle cx="660.5" cy="503.0" r="1.25" fill="#6b4747"/><circle cx="662.7" cy="508.5" r="1.25" fill="#6b4747"/><circle cx="667.0" cy="503.9" r="1.25" fill="#6b4747"/><circle cx="660.5" cy="502.3" r="1.25" fill="#6b4747"/><circle cx="667.3" cy="505.4" r="1.25" fill="#6b4747"/><circle cx="666.1" cy="506.2" r="1.25" fill="#6b4747"/><circle cx="661.5" cy="501.5" r="1.25" fill="#6b4747"/><circle cx="663.9" cy="501.7" r="1.25" fill="#6b4747"/><circle cx="664.5" cy="507.7" r="1.25" fill="#6b4747"/><circle cx="665.6" cy="501.9" r="1.25" fill="#6b4747"/><circle cx="663.2" cy="508.8" r="1.25" fill="#6b4747"/><circle cx="660.0" cy="506.9" r="1.25" fill="#6b4747"/><circle cx="659.7" cy="504.9" r="1.25" fill="#6b4747"/><circle cx="659.7" cy="506.1" r="1.25" fill="#6b4747"/><circle cx="662.1" cy="501.7" r="1.25" fill="#6b4747"/><circle cx="665.9" cy="502.2" r="1.25" fill="#6b4747"/><circle cx="661.5" cy="507.9" r="1.25" fill="#6b4747"/><circle cx="666.6" cy="503.7" r="1.25" fill="#6b4747"/><circle cx="665.8" cy="506.7" r="1.25" fill="#6b4747"/><circle cx="666.9" cy="504.8" r="1.25" fill="#6b4747"/><circle cx="666.6" cy="506.1" r="1.25" fill="#6b4747"/><circle cx="659.2" cy="504.9" r="1.25" fill="#6b4747"/><circle cx="667.1" cy="503.8" r="1.25" fill="#6b4747"/><circle cx="665.5" cy="507.2" r="1.25" fill="#6b4747"/><circle cx="659.5" cy="507.1" r="1.25" fill="#6b4747"/><circle cx="660.1" cy="502.4" r="1.25" fill="#6b4747"/><circle cx="659.9" cy="503.6" r="1.25" fill="#6b4747"/><circle cx="664.4" cy="502.3" r="1.25" fill="#6b4747"/><circle cx="661.9" cy="502.0" r="1.25" fill="#6b4747"/><circle cx="658.7" cy="505.7" r="1.25" fill="#6b4747"/><circle cx="659.7" cy="504.3" r="1.25" fill="#6b4747"/><circle cx="659.4" cy="506.5" r="1.25" fill="#6b4747"/><circle cx="666.4" cy="506.1" r="1.25" fill="#6b4747"/><circle cx="666.9" cy="505.4" r="1.25" fill="#6b4747"/><circle cx="660.2" cy="507.3" r="1.25" fill="#6b4747"/><circle cx="661.9" cy="508.4" r="1.25" fill="#6b4747"/><circle cx="665.0" cy="508.4" r="1.25" fill="#6b4747"/><circle cx="666.7" cy="504.2" r="1.25" fill="#6b4747"/><circle cx="658.9" cy="505.8" r="1.25" fill="#6b4747"/><circle cx="662.0" cy="508.6" r="1.25" fill="#6b4747"/><circle cx="662.0" cy="508.5" r="1.25" fill="#6b4747"/><circle cx="661.0" cy="508.0" r="1.25" fill="#6b4747"/><circle cx="666.0" cy="503.7" r="1.25" fill="#6b4747"/><circle cx="664.4" cy="501.8" r="1.25" fill="#6b4747"/><circle cx="660.3" cy="507.2" r="1.25" fill="#6b4747"/><circle cx="666.2" cy="506.3" r="1.25" fill="#6b4747"/><circle cx="660.6" cy="502.9" r="1.25" fill="#6b4747"/><circle cx="660.9" cy="501.6" r="1.25" fill="#6b4747"/><circle cx="667.2" cy="504.5" r="1.25" fill="#6b4747"/><circle cx="664.2" cy="502.1" r="1.25" fill="#6b4747"/><circle cx="666.5" cy="504.4" r="1.25" fill="#6b4747"/><circle cx="665.9" cy="502.2" r="1.25" fill="#6b4747"/><circle cx="660.2" cy="502.6" r="1.25" fill="#6b4747"/><circle cx="664.2" cy="508.3" r="1.25" fill="#6b4747"/><circle cx="662.1" cy="507.9" r="1.25" fill="#6b4747"/><circle cx="665.9" cy="507.7" r="1.25" fill="#6b4747"/><circle cx="666.1" cy="503.6" r="1.25" fill="#6b4747"/><circle cx="666.6" cy="505.3" r="1.25" fill="#6b4747"/><circle cx="665.3" cy="507.3" r="1.25" fill="#6b4747"/><ellipse cx="658" cy="508.5" rx="3.60" ry="2.70" fill="#6b4747"/><circle cx="655.5" cy="507.4" r="1.25" fill="#6b4747"/><circle cx="655.5" cy="509.4" r="1.25" fill="#6b4747"/><circle cx="656.6" cy="506.7" r="1.25" fill="#6b4747"/><circle cx="655.6" cy="509.8" r="1.25" fill="#6b4747"/><circle cx="660.3" cy="507.4" r="1.25" fill="#6b4747"/><circle cx="657.4" cy="506.5" r="1.25" fill="#6b4747"/><circle cx="660.3" cy="507.2" r="1.25" fill="#6b4747"/><circle cx="654.7" cy="508.4" r="1.25" fill="#6b4747"/><circle cx="656.8" cy="506.8" r="1.25" fill="#6b4747"/><circle cx="660.2" cy="510.4" r="1.25" fill="#6b4747"/><circle cx="660.8" cy="508.9" r="1.25" fill="#6b4747"/><circle cx="660.5" cy="508.0" r="1.25" fill="#6b4747"/><circle cx="659.4" cy="510.2" r="1.25" fill="#6b4747"/><circle cx="660.5" cy="509.6" r="1.25" fill="#6b4747"/><circle cx="655.6" cy="507.4" r="1.25" fill="#6b4747"/><circle cx="660.5" cy="510.0" r="1.25" fill="#6b4747"/><circle cx="659.0" cy="506.4" r="1.25" fill="#6b4747"/><circle cx="660.0" cy="510.2" r="1.25" fill="#6b4747"/><circle cx="656.0" cy="506.9" r="1.25" fill="#6b4747"/><circle cx="659.9" cy="506.9" r="1.25" fill="#6b4747"/><circle cx="655.4" cy="508.4" r="1.25" fill="#6b4747"/><circle cx="655.1" cy="507.6" r="1.25" fill="#6b4747"/><circle cx="657.7" cy="506.5" r="1.25" fill="#6b4747"/><circle cx="661.2" cy="508.4" r="1.25" fill="#6b4747"/><circle cx="655.4" cy="509.5" r="1.25" fill="#6b4747"/><circle cx="658.5" cy="506.5" r="1.25" fill="#6b4747"/><circle cx="656.0" cy="506.7" r="1.25" fill="#6b4747"/><circle cx="654.7" cy="508.3" r="1.25" fill="#6b4747"/><circle cx="655.1" cy="508.9" r="1.25" fill="#6b4747"/><circle cx="657.3" cy="510.9" r="1.25" fill="#6b4747"/><circle cx="656.7" cy="510.6" r="1.25" fill="#6b4747"/><circle cx="655.2" cy="509.8" r="1.25" fill="#6b4747"/><circle cx="660.4" cy="507.9" r="1.25" fill="#6b4747"/><circle cx="661.1" cy="508.4" r="1.25" fill="#6b4747"/><circle cx="660.7" cy="509.5" r="1.25" fill="#6b4747"/><circle cx="660.9" cy="509.2" r="1.25" fill="#6b4747"/><circle cx="659.1" cy="510.4" r="1.25" fill="#6b4747"/><circle cx="657.0" cy="510.6" r="1.25" fill="#6b4747"/><circle cx="659.5" cy="506.3" r="1.25" fill="#6b4747"/><circle cx="656.6" cy="510.5" r="1.25" fill="#6b4747"/><circle cx="660.9" cy="508.6" r="1.25" fill="#6b4747"/><circle cx="660.6" cy="508.0" r="1.25" fill="#6b4747"/><circle cx="660.1" cy="506.8" r="1.25" fill="#6b4747"/><circle cx="657.1" cy="510.8" r="1.25" fill="#6b4747"/><circle cx="657.2" cy="510.9" r="1.25" fill="#6b4747"/><circle cx="660.3" cy="509.5" r="1.25" fill="#6b4747"/><circle cx="658.0" cy="506.3" r="1.25" fill="#6b4747"/><circle cx="659.8" cy="510.3" r="1.25" fill="#6b4747"/><ellipse cx="655" cy="509.5" rx="1.60" ry="1.10" fill="#6b4747"/><circle cx="654.6" cy="510.3" r="1.25" fill="#6b4747"/><circle cx="654.9" cy="508.6" r="1.25" fill="#6b4747"/><circle cx="656.2" cy="509.8" r="1.25" fill="#6b4747"/><circle cx="656.2" cy="509.4" r="1.25" fill="#6b4747"/><circle cx="655.1" cy="508.8" r="1.25" fill="#6b4747"/><circle cx="655.9" cy="508.9" r="1.25" fill="#6b4747"/><circle cx="656.0" cy="508.9" r="1.25" fill="#6b4747"/><circle cx="655.7" cy="509.0" r="1.25" fill="#6b4747"/><circle cx="654.8" cy="508.8" r="1.25" fill="#6b4747"/><circle cx="654.9" cy="510.2" r="1.25" fill="#6b4747"/><circle cx="653.9" cy="509.1" r="1.25" fill="#6b4747"/><circle cx="656.0" cy="509.2" r="1.25" fill="#6b4747"/><circle cx="655.4" cy="510.2" r="1.25" fill="#6b4747"/><circle cx="655.5" cy="508.8" r="1.25" fill="#6b4747"/><circle cx="653.7" cy="509.4" r="1.25" fill="#6b4747"/><circle cx="654.4" cy="508.9" r="1.25" fill="#6b4747"/><circle cx="656.0" cy="509.9" r="1.25" fill="#6b4747"/><circle cx="655.9" cy="508.9" r="1.25" fill="#6b4747"/><circle cx="656.1" cy="509.8" r="1.25" fill="#6b4747"/><circle cx="654.1" cy="510.0" r="1.25" fill="#6b4747"/><circle cx="653.8" cy="509.0" r="1.25" fill="#6b4747"/><circle cx="654.4" cy="510.2" r="1.25" fill="#6b4747"/><circle cx="654.0" cy="508.9" r="1.25" fill="#6b4747"/><circle cx="654.7" cy="508.7" r="1.25" fill="#6b4747"/><circle cx="655.5" cy="508.8" r="1.25" fill="#6b4747"/><circle cx="656.1" cy="509.3" r="1.25" fill="#6b4747"/><circle cx="655.9" cy="510.1" r="1.25" fill="#6b4747"/><ellipse cx="582.3" cy="510.5" rx="2.10" ry="2.60" fill="#189a5a"/><circle cx="581.8" cy="512.7" r="1.25" fill="#189a5a"/><circle cx="581.0" cy="509.2" r="1.25" fill="#189a5a"/><circle cx="583.8" cy="511.7" r="1.25" fill="#189a5a"/><circle cx="584.0" cy="511.5" r="1.25" fill="#189a5a"/><circle cx="583.4" cy="509.1" r="1.25" fill="#189a5a"/><circle cx="583.6" cy="512.2" r="1.25" fill="#189a5a"/><circle cx="580.8" cy="510.7" r="1.25" fill="#189a5a"/><circle cx="580.8" cy="510.5" r="1.25" fill="#189a5a"/><circle cx="580.9" cy="511.7" r="1.25" fill="#189a5a"/><circle cx="583.9" cy="509.3" r="1.25" fill="#189a5a"/><circle cx="583.2" cy="512.3" r="1.25" fill="#189a5a"/><circle cx="580.4" cy="510.6" r="1.25" fill="#189a5a"/><circle cx="583.7" cy="511.6" r="1.25" fill="#189a5a"/><circle cx="583.7" cy="509.5" r="1.25" fill="#189a5a"/><circle cx="582.2" cy="512.6" r="1.25" fill="#189a5a"/><circle cx="581.5" cy="512.6" r="1.25" fill="#189a5a"/><circle cx="583.6" cy="511.5" r="1.25" fill="#189a5a"/><circle cx="583.8" cy="511.6" r="1.25" fill="#189a5a"/><circle cx="581.8" cy="512.8" r="1.25" fill="#189a5a"/><circle cx="583.8" cy="509.0" r="1.25" fill="#189a5a"/><circle cx="582.2" cy="512.3" r="1.25" fill="#189a5a"/><circle cx="580.9" cy="512.0" r="1.25" fill="#189a5a"/><circle cx="582.4" cy="508.7" r="1.25" fill="#189a5a"/><circle cx="581.8" cy="508.3" r="1.25" fill="#189a5a"/><circle cx="584.0" cy="510.1" r="1.25" fill="#189a5a"/><circle cx="583.5" cy="508.8" r="1.25" fill="#189a5a"/><circle cx="581.4" cy="511.9" r="1.25" fill="#189a5a"/><circle cx="582.1" cy="508.6" r="1.25" fill="#189a5a"/><circle cx="580.9" cy="512.1" r="1.25" fill="#189a5a"/><circle cx="580.7" cy="509.7" r="1.25" fill="#189a5a"/><circle cx="583.8" cy="509.9" r="1.25" fill="#189a5a"/><circle cx="584.2" cy="510.5" r="1.25" fill="#189a5a"/><circle cx="581.3" cy="512.0" r="1.25" fill="#189a5a"/><circle cx="583.6" cy="512.2" r="1.25" fill="#189a5a"/><circle cx="582.9" cy="512.2" r="1.25" fill="#189a5a"/><circle cx="583.6" cy="509.1" r="1.25" fill="#189a5a"/><circle cx="581.5" cy="508.5" r="1.25" fill="#189a5a"/><circle cx="583.7" cy="511.0" r="1.25" fill="#189a5a"/><circle cx="580.9" cy="510.5" r="1.25" fill="#189a5a"/><ellipse cx="580.3" cy="517.5" rx="4.10" ry="4.60" fill="#189a5a"/><circle cx="576.7" cy="517.4" r="1.25" fill="#189a5a"/><circle cx="578.4" cy="514.2" r="1.25" fill="#189a5a"/><circle cx="583.3" cy="518.5" r="1.25" fill="#189a5a"/><circle cx="582.7" cy="515.4" r="1.25" fill="#189a5a"/><circle cx="577.4" cy="516.8" r="1.25" fill="#189a5a"/><circle cx="583.2" cy="516.2" r="1.25" fill="#189a5a"/><circle cx="577.4" cy="519.6" r="1.25" fill="#189a5a"/><circle cx="579.5" cy="513.3" r="1.25" fill="#189a5a"/><circle cx="580.0" cy="513.8" r="1.25" fill="#189a5a"/><circle cx="583.5" cy="519.4" r="1.25" fill="#189a5a"/><circle cx="583.2" cy="516.9" r="1.25" fill="#189a5a"/><circle cx="580.8" cy="514.0" r="1.25" fill="#189a5a"/><circle cx="577.0" cy="518.5" r="1.25" fill="#189a5a"/><circle cx="577.4" cy="514.6" r="1.25" fill="#189a5a"/><circle cx="579.0" cy="514.1" r="1.25" fill="#189a5a"/><circle cx="579.6" cy="513.8" r="1.25" fill="#189a5a"/><circle cx="577.5" cy="519.4" r="1.25" fill="#189a5a"/><circle cx="577.1" cy="517.6" r="1.25" fill="#189a5a"/><circle cx="580.5" cy="521.0" r="1.25" fill="#189a5a"/><circle cx="577.3" cy="518.8" r="1.25" fill="#189a5a"/><circle cx="582.2" cy="513.9" r="1.25" fill="#189a5a"/><circle cx="578.3" cy="520.8" r="1.25" fill="#189a5a"/><circle cx="583.0" cy="515.4" r="1.25" fill="#189a5a"/><circle cx="577.1" cy="516.2" r="1.25" fill="#189a5a"/><circle cx="578.0" cy="514.0" r="1.25" fill="#189a5a"/><circle cx="582.8" cy="520.8" r="1.25" fill="#189a5a"/><circle cx="578.4" cy="513.9" r="1.25" fill="#189a5a"/><circle cx="577.8" cy="514.3" r="1.25" fill="#189a5a"/><circle cx="578.6" cy="521.1" r="1.25" fill="#189a5a"/><circle cx="580.0" cy="521.3" r="1.25" fill="#189a5a"/><circle cx="579.0" cy="514.3" r="1.25" fill="#189a5a"/><circle cx="583.7" cy="519.1" r="1.25" fill="#189a5a"/><circle cx="581.6" cy="513.7" r="1.25" fill="#189a5a"/><circle cx="578.8" cy="521.1" r="1.25" fill="#189a5a"/><circle cx="583.4" cy="519.5" r="1.25" fill="#189a5a"/><circle cx="577.2" cy="515.7" r="1.25" fill="#189a5a"/><circle cx="577.3" cy="518.7" r="1.25" fill="#189a5a"/><circle cx="579.8" cy="513.7" r="1.25" fill="#189a5a"/><circle cx="580.2" cy="513.8" r="1.25" fill="#189a5a"/><circle cx="583.2" cy="519.5" r="1.25" fill="#189a5a"/><circle cx="577.6" cy="514.5" r="1.25" fill="#189a5a"/><circle cx="582.6" cy="515.3" r="1.25" fill="#189a5a"/><circle cx="580.7" cy="513.9" r="1.25" fill="#189a5a"/><circle cx="579.2" cy="514.0" r="1.25" fill="#189a5a"/><circle cx="578.8" cy="521.0" r="1.25" fill="#189a5a"/><circle cx="576.8" cy="516.7" r="1.25" fill="#189a5a"/><circle cx="578.0" cy="514.4" r="1.25" fill="#189a5a"/><circle cx="577.6" cy="520.2" r="1.25" fill="#189a5a"/><circle cx="578.3" cy="520.8" r="1.25" fill="#189a5a"/><circle cx="576.9" cy="518.5" r="1.25" fill="#189a5a"/><circle cx="583.7" cy="517.9" r="1.25" fill="#189a5a"/><circle cx="580.9" cy="521.2" r="1.25" fill="#189a5a"/><circle cx="583.5" cy="519.3" r="1.25" fill="#189a5a"/><circle cx="582.9" cy="515.2" r="1.25" fill="#189a5a"/><circle cx="583.1" cy="519.9" r="1.25" fill="#189a5a"/><circle cx="582.9" cy="520.6" r="1.25" fill="#189a5a"/><circle cx="582.7" cy="520.1" r="1.25" fill="#189a5a"/><circle cx="577.3" cy="517.6" r="1.25" fill="#189a5a"/><circle cx="579.0" cy="520.8" r="1.25" fill="#189a5a"/><circle cx="579.4" cy="513.2" r="1.25" fill="#189a5a"/><circle cx="577.9" cy="520.7" r="1.25" fill="#189a5a"/><circle cx="582.5" cy="520.5" r="1.25" fill="#189a5a"/><circle cx="577.4" cy="519.0" r="1.25" fill="#189a5a"/><ellipse cx="583.5" cy="520.5" rx="1.60" ry="1.90" fill="#189a5a"/><circle cx="584.1" cy="519.1" r="1.25" fill="#189a5a"/><circle cx="584.3" cy="521.5" r="1.25" fill="#189a5a"/><circle cx="584.1" cy="519.0" r="1.25" fill="#189a5a"/><circle cx="582.5" cy="519.4" r="1.25" fill="#189a5a"/><circle cx="584.8" cy="520.3" r="1.25" fill="#189a5a"/><circle cx="582.8" cy="519.4" r="1.25" fill="#189a5a"/><circle cx="582.6" cy="521.6" r="1.25" fill="#189a5a"/><circle cx="584.5" cy="519.9" r="1.25" fill="#189a5a"/><circle cx="582.7" cy="521.3" r="1.25" fill="#189a5a"/><circle cx="583.1" cy="519.1" r="1.25" fill="#189a5a"/><circle cx="583.8" cy="519.2" r="1.25" fill="#189a5a"/><circle cx="582.8" cy="519.2" r="1.25" fill="#189a5a"/><circle cx="582.4" cy="520.8" r="1.25" fill="#189a5a"/><circle cx="582.4" cy="521.4" r="1.25" fill="#189a5a"/><circle cx="583.9" cy="521.7" r="1.25" fill="#189a5a"/><circle cx="582.4" cy="520.8" r="1.25" fill="#189a5a"/><circle cx="583.9" cy="519.0" r="1.25" fill="#189a5a"/><circle cx="584.8" cy="519.9" r="1.25" fill="#189a5a"/><circle cx="582.8" cy="519.4" r="1.25" fill="#189a5a"/><circle cx="584.1" cy="519.1" r="1.25" fill="#189a5a"/><circle cx="583.5" cy="518.9" r="1.25" fill="#189a5a"/><circle cx="584.1" cy="519.3" r="1.25" fill="#189a5a"/><circle cx="582.9" cy="519.2" r="1.25" fill="#189a5a"/><circle cx="582.9" cy="521.7" r="1.25" fill="#189a5a"/><circle cx="584.2" cy="521.7" r="1.25" fill="#189a5a"/><circle cx="582.7" cy="521.6" r="1.25" fill="#189a5a"/><circle cx="584.3" cy="519.2" r="1.25" fill="#189a5a"/><circle cx="582.9" cy="519.0" r="1.25" fill="#189a5a"/><circle cx="583.7" cy="522.0" r="1.25" fill="#189a5a"/><circle cx="584.5" cy="521.3" r="1.25" fill="#189a5a"/><circle cx="584.5" cy="520.1" r="1.25" fill="#189a5a"/><ellipse cx="620.3" cy="533" rx="5.90" ry="4.10" fill="#6e6e6e"/><circle cx="620.6" cy="529.2" r="1.25" fill="#6e6e6e"/><circle cx="614.9" cy="532.8" r="1.25" fill="#6e6e6e"/><circle cx="615.8" cy="534.2" r="1.25" fill="#6e6e6e"/><circle cx="615.8" cy="532.9" r="1.25" fill="#6e6e6e"/><circle cx="618.6" cy="536.0" r="1.25" fill="#6e6e6e"/><circle cx="625.0" cy="532.8" r="1.25" fill="#6e6e6e"/><circle cx="621.0" cy="536.8" r="1.25" fill="#6e6e6e"/><circle cx="623.9" cy="536.0" r="1.25" fill="#6e6e6e"/><circle cx="623.4" cy="530.2" r="1.25" fill="#6e6e6e"/><circle cx="616.2" cy="534.4" r="1.25" fill="#6e6e6e"/><circle cx="623.8" cy="534.9" r="1.25" fill="#6e6e6e"/><circle cx="617.5" cy="535.7" r="1.25" fill="#6e6e6e"/><circle cx="624.8" cy="531.4" r="1.25" fill="#6e6e6e"/><circle cx="625.6" cy="532.8" r="1.25" fill="#6e6e6e"/><circle cx="623.4" cy="535.8" r="1.25" fill="#6e6e6e"/><circle cx="622.6" cy="535.5" r="1.25" fill="#6e6e6e"/><circle cx="624.8" cy="531.9" r="1.25" fill="#6e6e6e"/><circle cx="621.9" cy="535.8" r="1.25" fill="#6e6e6e"/><circle cx="617.5" cy="530.2" r="1.25" fill="#6e6e6e"/><circle cx="625.6" cy="533.3" r="1.25" fill="#6e6e6e"/><circle cx="620.1" cy="536.7" r="1.25" fill="#6e6e6e"/><circle cx="615.3" cy="533.2" r="1.25" fill="#6e6e6e"/><circle cx="615.3" cy="534.0" r="1.25" fill="#6e6e6e"/><circle cx="625.7" cy="532.8" r="1.25" fill="#6e6e6e"/><circle cx="624.8" cy="534.4" r="1.25" fill="#6e6e6e"/><circle cx="620.7" cy="536.0" r="1.25" fill="#6e6e6e"/><circle cx="621.9" cy="536.0" r="1.25" fill="#6e6e6e"/><circle cx="625.5" cy="532.1" r="1.25" fill="#6e6e6e"/><circle cx="623.5" cy="530.1" r="1.25" fill="#6e6e6e"/><circle cx="618.4" cy="536.0" r="1.25" fill="#6e6e6e"/><circle cx="615.9" cy="534.2" r="1.25" fill="#6e6e6e"/><circle cx="615.6" cy="534.7" r="1.25" fill="#6e6e6e"/><circle cx="624.5" cy="534.5" r="1.25" fill="#6e6e6e"/><circle cx="615.1" cy="533.5" r="1.25" fill="#6e6e6e"/><circle cx="617.1" cy="530.1" r="1.25" fill="#6e6e6e"/><circle cx="623.9" cy="534.9" r="1.25" fill="#6e6e6e"/><circle cx="618.6" cy="536.0" r="1.25" fill="#6e6e6e"/><circle cx="620.5" cy="529.1" r="1.25" fill="#6e6e6e"/><circle cx="618.5" cy="530.3" r="1.25" fill="#6e6e6e"/><circle cx="618.7" cy="536.5" r="1.25" fill="#6e6e6e"/><circle cx="624.9" cy="531.4" r="1.25" fill="#6e6e6e"/><circle cx="617.5" cy="535.7" r="1.25" fill="#6e6e6e"/><circle cx="616.6" cy="530.2" r="1.25" fill="#6e6e6e"/><circle cx="617.8" cy="535.6" r="1.25" fill="#6e6e6e"/><circle cx="624.8" cy="533.1" r="1.25" fill="#6e6e6e"/><circle cx="623.4" cy="530.2" r="1.25" fill="#6e6e6e"/><circle cx="624.7" cy="532.8" r="1.25" fill="#6e6e6e"/><circle cx="616.7" cy="535.8" r="1.25" fill="#6e6e6e"/><circle cx="618.0" cy="530.5" r="1.25" fill="#6e6e6e"/><circle cx="616.1" cy="535.1" r="1.25" fill="#6e6e6e"/><circle cx="618.4" cy="529.9" r="1.25" fill="#6e6e6e"/><circle cx="622.4" cy="536.6" r="1.25" fill="#6e6e6e"/><circle cx="615.1" cy="533.8" r="1.25" fill="#6e6e6e"/><circle cx="616.0" cy="532.3" r="1.25" fill="#6e6e6e"/><circle cx="620.7" cy="536.0" r="1.25" fill="#6e6e6e"/><circle cx="622.0" cy="535.9" r="1.25" fill="#6e6e6e"/><circle cx="616.2" cy="534.7" r="1.25" fill="#6e6e6e"/><circle cx="616.8" cy="535.8" r="1.25" fill="#6e6e6e"/><circle cx="624.7" cy="533.4" r="1.25" fill="#6e6e6e"/><circle cx="622.1" cy="529.8" r="1.25" fill="#6e6e6e"/><circle cx="616.0" cy="534.2" r="1.25" fill="#6e6e6e"/><circle cx="615.9" cy="532.2" r="1.25" fill="#6e6e6e"/><circle cx="623.7" cy="530.1" r="1.25" fill="#6e6e6e"/><circle cx="618.4" cy="535.7" r="1.25" fill="#6e6e6e"/><circle cx="623.9" cy="530.9" r="1.25" fill="#6e6e6e"/><circle cx="617.3" cy="529.9" r="1.25" fill="#6e6e6e"/><circle cx="621.9" cy="529.4" r="1.25" fill="#6e6e6e"/><circle cx="614.8" cy="533.3" r="1.25" fill="#6e6e6e"/><circle cx="615.8" cy="533.8" r="1.25" fill="#6e6e6e"/><circle cx="615.6" cy="533.4" r="1.25" fill="#6e6e6e"/><ellipse cx="615" cy="535" rx="2.10" ry="2.10" fill="#6e6e6e"/><circle cx="615.2" cy="533.2" r="1.25" fill="#6e6e6e"/><circle cx="615.9" cy="536.2" r="1.25" fill="#6e6e6e"/><circle cx="613.8" cy="536.1" r="1.25" fill="#6e6e6e"/><circle cx="616.8" cy="534.5" r="1.25" fill="#6e6e6e"/><circle cx="616.7" cy="534.6" r="1.25" fill="#6e6e6e"/><circle cx="614.3" cy="533.6" r="1.25" fill="#6e6e6e"/><circle cx="614.0" cy="536.0" r="1.25" fill="#6e6e6e"/><circle cx="615.8" cy="533.7" r="1.25" fill="#6e6e6e"/><circle cx="616.4" cy="535.8" r="1.25" fill="#6e6e6e"/><circle cx="614.2" cy="536.6" r="1.25" fill="#6e6e6e"/><circle cx="616.5" cy="535.1" r="1.25" fill="#6e6e6e"/><circle cx="616.5" cy="533.9" r="1.25" fill="#6e6e6e"/><circle cx="613.8" cy="533.8" r="1.25" fill="#6e6e6e"/><circle cx="615.3" cy="536.8" r="1.25" fill="#6e6e6e"/><circle cx="615.1" cy="533.3" r="1.25" fill="#6e6e6e"/><circle cx="615.8" cy="536.3" r="1.25" fill="#6e6e6e"/><circle cx="613.9" cy="536.1" r="1.25" fill="#6e6e6e"/><circle cx="616.5" cy="535.6" r="1.25" fill="#6e6e6e"/><circle cx="613.5" cy="535.5" r="1.25" fill="#6e6e6e"/><circle cx="613.8" cy="536.1" r="1.25" fill="#6e6e6e"/><circle cx="613.8" cy="536.2" r="1.25" fill="#6e6e6e"/><circle cx="613.5" cy="535.0" r="1.25" fill="#6e6e6e"/><circle cx="615.5" cy="533.4" r="1.25" fill="#6e6e6e"/><circle cx="613.3" cy="535.5" r="1.25" fill="#6e6e6e"/><circle cx="615.0" cy="533.2" r="1.25" fill="#6e6e6e"/><circle cx="615.7" cy="533.4" r="1.25" fill="#6e6e6e"/><circle cx="614.7" cy="533.5" r="1.25" fill="#6e6e6e"/><circle cx="614.5" cy="533.5" r="1.25" fill="#6e6e6e"/><circle cx="614.9" cy="536.5" r="1.25" fill="#6e6e6e"/><circle cx="613.9" cy="535.9" r="1.25" fill="#6e6e6e"/><circle cx="614.0" cy="533.5" r="1.25" fill="#6e6e6e"/><circle cx="615.2" cy="533.5" r="1.25" fill="#6e6e6e"/><circle cx="613.8" cy="533.6" r="1.25" fill="#6e6e6e"/><circle cx="616.5" cy="535.3" r="1.25" fill="#6e6e6e"/><circle cx="614.8" cy="536.6" r="1.25" fill="#6e6e6e"/><circle cx="615.8" cy="536.5" r="1.25" fill="#6e6e6e"/><ellipse cx="625" cy="531" rx="2.10" ry="2.60" fill="#6e6e6e"/><circle cx="624.0" cy="532.8" r="1.25" fill="#6e6e6e"/><circle cx="623.3" cy="530.6" r="1.25" fill="#6e6e6e"/><circle cx="625.0" cy="533.2" r="1.25" fill="#6e6e6e"/><circle cx="624.8" cy="528.8" r="1.25" fill="#6e6e6e"/><circle cx="626.7" cy="532.0" r="1.25" fill="#6e6e6e"/><circle cx="623.6" cy="530.1" r="1.25" fill="#6e6e6e"/><circle cx="623.5" cy="531.8" r="1.25" fill="#6e6e6e"/><circle cx="623.5" cy="530.8" r="1.25" fill="#6e6e6e"/><circle cx="624.8" cy="533.0" r="1.25" fill="#6e6e6e"/><circle cx="625.3" cy="529.0" r="1.25" fill="#6e6e6e"/><circle cx="626.6" cy="531.5" r="1.25" fill="#6e6e6e"/><circle cx="625.4" cy="532.7" r="1.25" fill="#6e6e6e"/><circle cx="626.5" cy="530.7" r="1.25" fill="#6e6e6e"/><circle cx="623.4" cy="530.5" r="1.25" fill="#6e6e6e"/><circle cx="626.7" cy="531.8" r="1.25" fill="#6e6e6e"/><circle cx="626.4" cy="530.2" r="1.25" fill="#6e6e6e"/><circle cx="623.6" cy="532.0" r="1.25" fill="#6e6e6e"/><circle cx="625.9" cy="532.9" r="1.25" fill="#6e6e6e"/><circle cx="625.4" cy="528.8" r="1.25" fill="#6e6e6e"/><circle cx="624.4" cy="529.4" r="1.25" fill="#6e6e6e"/><circle cx="625.2" cy="533.1" r="1.25" fill="#6e6e6e"/><circle cx="624.5" cy="529.1" r="1.25" fill="#6e6e6e"/><circle cx="623.3" cy="531.7" r="1.25" fill="#6e6e6e"/><circle cx="626.5" cy="531.3" r="1.25" fill="#6e6e6e"/><circle cx="624.5" cy="533.3" r="1.25" fill="#6e6e6e"/><circle cx="625.2" cy="532.8" r="1.25" fill="#6e6e6e"/><circle cx="623.5" cy="532.1" r="1.25" fill="#6e6e6e"/><circle cx="626.0" cy="532.9" r="1.25" fill="#6e6e6e"/><circle cx="625.6" cy="533.1" r="1.25" fill="#6e6e6e"/><circle cx="626.0" cy="533.0" r="1.25" fill="#6e6e6e"/><circle cx="625.5" cy="533.1" r="1.25" fill="#6e6e6e"/><circle cx="625.8" cy="529.3" r="1.25" fill="#6e6e6e"/><circle cx="626.4" cy="532.2" r="1.25" fill="#6e6e6e"/><circle cx="623.3" cy="531.0" r="1.25" fill="#6e6e6e"/><circle cx="625.3" cy="529.0" r="1.25" fill="#6e6e6e"/><circle cx="623.3" cy="531.0" r="1.25" fill="#6e6e6e"/><circle cx="623.4" cy="531.6" r="1.25" fill="#6e6e6e"/><circle cx="625.8" cy="532.7" r="1.25" fill="#6e6e6e"/><circle cx="624.9" cy="532.9" r="1.25" fill="#6e6e6e"/><ellipse cx="530" cy="539" rx="4.60" ry="3.60" fill="#9a7cc4"/><circle cx="530.7" cy="536.4" r="1.25" fill="#9a7cc4"/><circle cx="531.1" cy="541.9" r="1.25" fill="#9a7cc4"/><circle cx="528.6" cy="541.5" r="1.25" fill="#9a7cc4"/><circle cx="527.3" cy="541.1" r="1.25" fill="#9a7cc4"/><circle cx="528.0" cy="536.0" r="1.25" fill="#9a7cc4"/><circle cx="532.3" cy="536.7" r="1.25" fill="#9a7cc4"/><circle cx="526.4" cy="539.9" r="1.25" fill="#9a7cc4"/><circle cx="530.3" cy="542.4" r="1.25" fill="#9a7cc4"/><circle cx="533.2" cy="540.1" r="1.25" fill="#9a7cc4"/><circle cx="527.9" cy="536.4" r="1.25" fill="#9a7cc4"/><circle cx="529.2" cy="542.3" r="1.25" fill="#9a7cc4"/><circle cx="526.7" cy="540.6" r="1.25" fill="#9a7cc4"/><circle cx="533.6" cy="540.8" r="1.25" fill="#9a7cc4"/><circle cx="533.0" cy="540.7" r="1.25" fill="#9a7cc4"/><circle cx="533.3" cy="536.8" r="1.25" fill="#9a7cc4"/><circle cx="533.5" cy="537.2" r="1.25" fill="#9a7cc4"/><circle cx="530.3" cy="541.6" r="1.25" fill="#9a7cc4"/><circle cx="526.8" cy="539.8" r="1.25" fill="#9a7cc4"/><circle cx="533.2" cy="538.4" r="1.25" fill="#9a7cc4"/><circle cx="528.4" cy="541.4" r="1.25" fill="#9a7cc4"/><circle cx="533.8" cy="539.3" r="1.25" fill="#9a7cc4"/><circle cx="533.8" cy="540.5" r="1.25" fill="#9a7cc4"/><circle cx="528.6" cy="536.4" r="1.25" fill="#9a7cc4"/><circle cx="532.3" cy="536.3" r="1.25" fill="#9a7cc4"/><circle cx="528.0" cy="541.9" r="1.25" fill="#9a7cc4"/><circle cx="533.6" cy="537.7" r="1.25" fill="#9a7cc4"/><circle cx="527.4" cy="541.7" r="1.25" fill="#9a7cc4"/><circle cx="533.4" cy="538.0" r="1.25" fill="#9a7cc4"/><circle cx="533.6" cy="540.7" r="1.25" fill="#9a7cc4"/><circle cx="528.2" cy="536.6" r="1.25" fill="#9a7cc4"/><circle cx="526.7" cy="537.9" r="1.25" fill="#9a7cc4"/><circle cx="533.2" cy="537.6" r="1.25" fill="#9a7cc4"/><circle cx="531.1" cy="541.4" r="1.25" fill="#9a7cc4"/><circle cx="527.6" cy="541.8" r="1.25" fill="#9a7cc4"/><circle cx="530.8" cy="541.9" r="1.25" fill="#9a7cc4"/><circle cx="533.3" cy="538.6" r="1.25" fill="#9a7cc4"/><circle cx="528.8" cy="542.1" r="1.25" fill="#9a7cc4"/><circle cx="533.6" cy="540.9" r="1.25" fill="#9a7cc4"/><circle cx="531.8" cy="536.7" r="1.25" fill="#9a7cc4"/><circle cx="526.7" cy="537.3" r="1.25" fill="#9a7cc4"/><circle cx="528.7" cy="536.4" r="1.25" fill="#9a7cc4"/><circle cx="527.3" cy="540.8" r="1.25" fill="#9a7cc4"/><circle cx="529.1" cy="541.6" r="1.25" fill="#9a7cc4"/><circle cx="533.5" cy="537.1" r="1.25" fill="#9a7cc4"/><circle cx="527.4" cy="541.4" r="1.25" fill="#9a7cc4"/><circle cx="526.4" cy="539.2" r="1.25" fill="#9a7cc4"/><circle cx="527.4" cy="541.7" r="1.25" fill="#9a7cc4"/><circle cx="527.9" cy="541.6" r="1.25" fill="#9a7cc4"/><circle cx="533.4" cy="538.1" r="1.25" fill="#9a7cc4"/><circle cx="531.2" cy="536.5" r="1.25" fill="#9a7cc4"/><circle cx="529.6" cy="535.8" r="1.25" fill="#9a7cc4"/><circle cx="532.3" cy="536.1" r="1.25" fill="#9a7cc4"/><circle cx="528.9" cy="535.7" r="1.25" fill="#9a7cc4"/><circle cx="529.3" cy="541.9" r="1.25" fill="#9a7cc4"/><circle cx="530.8" cy="541.6" r="1.25" fill="#9a7cc4"/><circle cx="526.2" cy="540.2" r="1.25" fill="#9a7cc4"/><circle cx="530.6" cy="536.5" r="1.25" fill="#9a7cc4"/><circle cx="533.3" cy="538.0" r="1.25" fill="#9a7cc4"/><circle cx="528.9" cy="542.1" r="1.25" fill="#9a7cc4"/><circle cx="533.2" cy="537.0" r="1.25" fill="#9a7cc4"/><ellipse cx="526.5" cy="536" rx="2.10" ry="1.60" fill="#9a7cc4"/><circle cx="525.7" cy="537.1" r="1.25" fill="#9a7cc4"/><circle cx="527.3" cy="535.0" r="1.25" fill="#9a7cc4"/><circle cx="527.1" cy="534.8" r="1.25" fill="#9a7cc4"/><circle cx="524.7" cy="536.3" r="1.25" fill="#9a7cc4"/><circle cx="525.2" cy="536.9" r="1.25" fill="#9a7cc4"/><circle cx="525.5" cy="535.1" r="1.25" fill="#9a7cc4"/><circle cx="524.8" cy="535.7" r="1.25" fill="#9a7cc4"/><circle cx="525.1" cy="535.8" r="1.25" fill="#9a7cc4"/><circle cx="528.4" cy="535.9" r="1.25" fill="#9a7cc4"/><circle cx="528.3" cy="536.3" r="1.25" fill="#9a7cc4"/><circle cx="525.0" cy="535.8" r="1.25" fill="#9a7cc4"/><circle cx="527.2" cy="534.9" r="1.25" fill="#9a7cc4"/><circle cx="526.1" cy="534.7" r="1.25" fill="#9a7cc4"/><circle cx="525.1" cy="535.7" r="1.25" fill="#9a7cc4"/><circle cx="527.3" cy="534.8" r="1.25" fill="#9a7cc4"/><circle cx="527.8" cy="535.4" r="1.25" fill="#9a7cc4"/><circle cx="526.9" cy="534.7" r="1.25" fill="#9a7cc4"/><circle cx="525.5" cy="536.9" r="1.25" fill="#9a7cc4"/><circle cx="525.8" cy="536.9" r="1.25" fill="#9a7cc4"/><circle cx="526.7" cy="537.2" r="1.25" fill="#9a7cc4"/><circle cx="527.9" cy="536.8" r="1.25" fill="#9a7cc4"/><circle cx="525.0" cy="536.6" r="1.25" fill="#9a7cc4"/><circle cx="526.2" cy="537.1" r="1.25" fill="#9a7cc4"/><circle cx="526.5" cy="534.8" r="1.25" fill="#9a7cc4"/><circle cx="525.2" cy="535.3" r="1.25" fill="#9a7cc4"/><circle cx="524.8" cy="535.5" r="1.25" fill="#9a7cc4"/><circle cx="526.3" cy="537.2" r="1.25" fill="#9a7cc4"/><circle cx="525.9" cy="535.0" r="1.25" fill="#9a7cc4"/><circle cx="528.1" cy="535.7" r="1.25" fill="#9a7cc4"/><circle cx="526.6" cy="537.3" r="1.25" fill="#9a7cc4"/><circle cx="527.2" cy="534.8" r="1.25" fill="#9a7cc4"/><circle cx="527.8" cy="535.5" r="1.25" fill="#9a7cc4"/><circle cx="524.7" cy="535.8" r="1.25" fill="#9a7cc4"/><ellipse cx="534" cy="542.5" rx="2.40" ry="1.90" fill="#9a7cc4"/><circle cx="535.7" cy="541.7" r="1.25" fill="#9a7cc4"/><circle cx="532.5" cy="541.6" r="1.25" fill="#9a7cc4"/><circle cx="532.2" cy="541.8" r="1.25" fill="#9a7cc4"/><circle cx="535.7" cy="541.6" r="1.25" fill="#9a7cc4"/><circle cx="533.8" cy="540.8" r="1.25" fill="#9a7cc4"/><circle cx="535.9" cy="543.1" r="1.25" fill="#9a7cc4"/><circle cx="532.0" cy="542.9" r="1.25" fill="#9a7cc4"/><circle cx="533.5" cy="543.9" r="1.25" fill="#9a7cc4"/><circle cx="534.8" cy="541.3" r="1.25" fill="#9a7cc4"/><circle cx="533.5" cy="543.9" r="1.25" fill="#9a7cc4"/><circle cx="535.1" cy="541.4" r="1.25" fill="#9a7cc4"/><circle cx="534.8" cy="541.3" r="1.25" fill="#9a7cc4"/><circle cx="533.4" cy="543.9" r="1.25" fill="#9a7cc4"/><circle cx="532.8" cy="541.1" r="1.25" fill="#9a7cc4"/><circle cx="535.3" cy="541.6" r="1.25" fill="#9a7cc4"/><circle cx="533.9" cy="541.0" r="1.25" fill="#9a7cc4"/><circle cx="532.4" cy="543.6" r="1.25" fill="#9a7cc4"/><circle cx="535.5" cy="541.6" r="1.25" fill="#9a7cc4"/><circle cx="535.5" cy="541.8" r="1.25" fill="#9a7cc4"/><circle cx="535.0" cy="543.9" r="1.25" fill="#9a7cc4"/><circle cx="533.3" cy="543.9" r="1.25" fill="#9a7cc4"/><circle cx="532.3" cy="542.5" r="1.25" fill="#9a7cc4"/><circle cx="534.1" cy="540.9" r="1.25" fill="#9a7cc4"/><circle cx="535.1" cy="543.6" r="1.25" fill="#9a7cc4"/><circle cx="534.7" cy="540.9" r="1.25" fill="#9a7cc4"/><circle cx="535.3" cy="541.4" r="1.25" fill="#9a7cc4"/><circle cx="532.7" cy="543.6" r="1.25" fill="#9a7cc4"/><circle cx="534.9" cy="543.8" r="1.25" fill="#9a7cc4"/><circle cx="534.2" cy="543.8" r="1.25" fill="#9a7cc4"/><circle cx="532.8" cy="543.4" r="1.25" fill="#9a7cc4"/><circle cx="532.0" cy="542.8" r="1.25" fill="#9a7cc4"/><circle cx="532.7" cy="541.1" r="1.25" fill="#9a7cc4"/><circle cx="535.5" cy="541.5" r="1.25" fill="#9a7cc4"/><circle cx="535.5" cy="541.6" r="1.25" fill="#9a7cc4"/><circle cx="534.5" cy="541.2" r="1.25" fill="#9a7cc4"/><circle cx="531.8" cy="542.2" r="1.25" fill="#9a7cc4"/><ellipse cx="649" cy="566.2" rx="5.50" ry="4.10" fill="#1f5fb0"/><circle cx="645.2" cy="564.2" r="1.25" fill="#1f5fb0"/><circle cx="650.0" cy="563.1" r="1.25" fill="#1f5fb0"/><circle cx="650.9" cy="563.6" r="1.25" fill="#1f5fb0"/><circle cx="649.3" cy="569.3" r="1.25" fill="#1f5fb0"/><circle cx="648.8" cy="570.0" r="1.25" fill="#1f5fb0"/><circle cx="653.3" cy="566.7" r="1.25" fill="#1f5fb0"/><circle cx="644.6" cy="564.6" r="1.25" fill="#1f5fb0"/><circle cx="649.7" cy="562.9" r="1.25" fill="#1f5fb0"/><circle cx="650.0" cy="569.9" r="1.25" fill="#1f5fb0"/><circle cx="651.9" cy="568.3" r="1.25" fill="#1f5fb0"/><circle cx="649.5" cy="569.6" r="1.25" fill="#1f5fb0"/><circle cx="653.6" cy="564.9" r="1.25" fill="#1f5fb0"/><circle cx="644.7" cy="564.9" r="1.25" fill="#1f5fb0"/><circle cx="647.3" cy="562.9" r="1.25" fill="#1f5fb0"/><circle cx="646.9" cy="568.8" r="1.25" fill="#1f5fb0"/><circle cx="650.5" cy="569.7" r="1.25" fill="#1f5fb0"/><circle cx="645.7" cy="563.4" r="1.25" fill="#1f5fb0"/><circle cx="654.0" cy="567.2" r="1.25" fill="#1f5fb0"/><circle cx="645.2" cy="568.8" r="1.25" fill="#1f5fb0"/><circle cx="645.1" cy="564.3" r="1.25" fill="#1f5fb0"/><circle cx="651.0" cy="563.0" r="1.25" fill="#1f5fb0"/><circle cx="647.1" cy="563.5" r="1.25" fill="#1f5fb0"/><circle cx="645.5" cy="564.2" r="1.25" fill="#1f5fb0"/><circle cx="652.7" cy="567.6" r="1.25" fill="#1f5fb0"/><circle cx="644.7" cy="566.6" r="1.25" fill="#1f5fb0"/><circle cx="649.4" cy="563.2" r="1.25" fill="#1f5fb0"/><circle cx="654.3" cy="566.5" r="1.25" fill="#1f5fb0"/><circle cx="647.2" cy="569.4" r="1.25" fill="#1f5fb0"/><circle cx="650.1" cy="569.2" r="1.25" fill="#1f5fb0"/><circle cx="644.9" cy="568.3" r="1.25" fill="#1f5fb0"/><circle cx="653.9" cy="567.1" r="1.25" fill="#1f5fb0"/><circle cx="653.7" cy="566.0" r="1.25" fill="#1f5fb0"/><circle cx="646.3" cy="568.6" r="1.25" fill="#1f5fb0"/><circle cx="650.8" cy="569.2" r="1.25" fill="#1f5fb0"/><circle cx="651.4" cy="563.8" r="1.25" fill="#1f5fb0"/><circle cx="650.1" cy="562.7" r="1.25" fill="#1f5fb0"/><circle cx="653.0" cy="566.6" r="1.25" fill="#1f5fb0"/><circle cx="648.5" cy="562.6" r="1.25" fill="#1f5fb0"/><circle cx="647.0" cy="569.7" r="1.25" fill="#1f5fb0"/><circle cx="650.1" cy="569.4" r="1.25" fill="#1f5fb0"/><circle cx="652.6" cy="568.6" r="1.25" fill="#1f5fb0"/><circle cx="652.6" cy="567.8" r="1.25" fill="#1f5fb0"/><circle cx="649.5" cy="562.8" r="1.25" fill="#1f5fb0"/><circle cx="646.4" cy="563.1" r="1.25" fill="#1f5fb0"/><circle cx="645.7" cy="564.3" r="1.25" fill="#1f5fb0"/><circle cx="647.7" cy="563.3" r="1.25" fill="#1f5fb0"/><circle cx="648.4" cy="569.5" r="1.25" fill="#1f5fb0"/><circle cx="652.1" cy="568.2" r="1.25" fill="#1f5fb0"/><circle cx="646.1" cy="563.2" r="1.25" fill="#1f5fb0"/><circle cx="645.9" cy="568.6" r="1.25" fill="#1f5fb0"/><circle cx="650.2" cy="569.5" r="1.25" fill="#1f5fb0"/><circle cx="644.4" cy="564.3" r="1.25" fill="#1f5fb0"/><circle cx="654.0" cy="567.2" r="1.25" fill="#1f5fb0"/><circle cx="653.4" cy="566.0" r="1.25" fill="#1f5fb0"/><circle cx="648.2" cy="562.5" r="1.25" fill="#1f5fb0"/><circle cx="646.5" cy="563.6" r="1.25" fill="#1f5fb0"/><circle cx="645.3" cy="563.6" r="1.25" fill="#1f5fb0"/><circle cx="652.6" cy="568.3" r="1.25" fill="#1f5fb0"/><circle cx="654.0" cy="566.7" r="1.25" fill="#1f5fb0"/><circle cx="649.7" cy="563.3" r="1.25" fill="#1f5fb0"/><circle cx="648.9" cy="562.6" r="1.25" fill="#1f5fb0"/><circle cx="652.3" cy="568.6" r="1.25" fill="#1f5fb0"/><circle cx="647.4" cy="563.2" r="1.25" fill="#1f5fb0"/><circle cx="643.7" cy="566.1" r="1.25" fill="#1f5fb0"/><circle cx="645.9" cy="563.6" r="1.25" fill="#1f5fb0"/><circle cx="652.8" cy="567.4" r="1.25" fill="#1f5fb0"/><circle cx="651.9" cy="563.3" r="1.25" fill="#1f5fb0"/><circle cx="651.4" cy="563.2" r="1.25" fill="#1f5fb0"/><ellipse cx="652" cy="567.5" rx="2.60" ry="2.10" fill="#1f5fb0"/><circle cx="650.1" cy="566.7" r="1.25" fill="#1f5fb0"/><circle cx="651.8" cy="565.9" r="1.25" fill="#1f5fb0"/><circle cx="649.9" cy="567.5" r="1.25" fill="#1f5fb0"/><circle cx="651.0" cy="566.2" r="1.25" fill="#1f5fb0"/><circle cx="653.8" cy="567.7" r="1.25" fill="#1f5fb0"/><circle cx="653.0" cy="569.2" r="1.25" fill="#1f5fb0"/><circle cx="651.5" cy="565.8" r="1.25" fill="#1f5fb0"/><circle cx="650.3" cy="568.0" r="1.25" fill="#1f5fb0"/><circle cx="649.7" cy="567.9" r="1.25" fill="#1f5fb0"/><circle cx="649.8" cy="567.4" r="1.25" fill="#1f5fb0"/><circle cx="650.7" cy="568.6" r="1.25" fill="#1f5fb0"/><circle cx="650.5" cy="566.3" r="1.25" fill="#1f5fb0"/><circle cx="650.9" cy="568.8" r="1.25" fill="#1f5fb0"/><circle cx="651.3" cy="566.0" r="1.25" fill="#1f5fb0"/><circle cx="650.3" cy="566.8" r="1.25" fill="#1f5fb0"/><circle cx="652.0" cy="565.9" r="1.25" fill="#1f5fb0"/><circle cx="649.7" cy="567.8" r="1.25" fill="#1f5fb0"/><circle cx="651.6" cy="565.8" r="1.25" fill="#1f5fb0"/><circle cx="650.8" cy="569.0" r="1.25" fill="#1f5fb0"/><circle cx="650.2" cy="568.7" r="1.25" fill="#1f5fb0"/><circle cx="653.7" cy="566.4" r="1.25" fill="#1f5fb0"/><circle cx="653.0" cy="566.0" r="1.25" fill="#1f5fb0"/><circle cx="651.8" cy="566.0" r="1.25" fill="#1f5fb0"/><circle cx="654.3" cy="567.4" r="1.25" fill="#1f5fb0"/><circle cx="653.2" cy="568.7" r="1.25" fill="#1f5fb0"/><circle cx="650.0" cy="566.7" r="1.25" fill="#1f5fb0"/><circle cx="653.4" cy="569.0" r="1.25" fill="#1f5fb0"/><circle cx="650.6" cy="569.1" r="1.25" fill="#1f5fb0"/><circle cx="652.0" cy="565.8" r="1.25" fill="#1f5fb0"/><circle cx="650.8" cy="568.6" r="1.25" fill="#1f5fb0"/><circle cx="653.9" cy="568.4" r="1.25" fill="#1f5fb0"/><circle cx="652.3" cy="565.7" r="1.25" fill="#1f5fb0"/><circle cx="650.4" cy="568.9" r="1.25" fill="#1f5fb0"/><circle cx="651.3" cy="569.3" r="1.25" fill="#1f5fb0"/><circle cx="653.7" cy="566.8" r="1.25" fill="#1f5fb0"/><circle cx="653.4" cy="566.2" r="1.25" fill="#1f5fb0"/><circle cx="651.3" cy="565.8" r="1.25" fill="#1f5fb0"/><circle cx="650.0" cy="567.1" r="1.25" fill="#1f5fb0"/><circle cx="650.4" cy="568.9" r="1.25" fill="#1f5fb0"/><ellipse cx="600" cy="574.5" rx="4.70" ry="4.60" fill="#16b9c4"/><circle cx="602.9" cy="572.5" r="1.25" fill="#16b9c4"/><circle cx="600.5" cy="570.9" r="1.25" fill="#16b9c4"/><circle cx="601.5" cy="577.7" r="1.25" fill="#16b9c4"/><circle cx="596.7" cy="572.9" r="1.25" fill="#16b9c4"/><circle cx="600.2" cy="577.9" r="1.25" fill="#16b9c4"/><circle cx="598.1" cy="578.2" r="1.25" fill="#16b9c4"/><circle cx="603.9" cy="575.0" r="1.25" fill="#16b9c4"/><circle cx="597.3" cy="572.5" r="1.25" fill="#16b9c4"/><circle cx="598.8" cy="578.6" r="1.25" fill="#16b9c4"/><circle cx="604.3" cy="574.3" r="1.25" fill="#16b9c4"/><circle cx="602.0" cy="578.1" r="1.25" fill="#16b9c4"/><circle cx="596.6" cy="575.6" r="1.25" fill="#16b9c4"/><circle cx="595.6" cy="575.0" r="1.25" fill="#16b9c4"/><circle cx="602.7" cy="571.9" r="1.25" fill="#16b9c4"/><circle cx="604.0" cy="576.2" r="1.25" fill="#16b9c4"/><circle cx="603.9" cy="574.2" r="1.25" fill="#16b9c4"/><circle cx="600.6" cy="578.4" r="1.25" fill="#16b9c4"/><circle cx="598.7" cy="570.9" r="1.25" fill="#16b9c4"/><circle cx="597.8" cy="577.4" r="1.25" fill="#16b9c4"/><circle cx="599.0" cy="577.7" r="1.25" fill="#16b9c4"/><circle cx="599.9" cy="578.8" r="1.25" fill="#16b9c4"/><circle cx="604.2" cy="574.7" r="1.25" fill="#16b9c4"/><circle cx="600.9" cy="570.9" r="1.25" fill="#16b9c4"/><circle cx="597.0" cy="572.5" r="1.25" fill="#16b9c4"/><circle cx="597.9" cy="571.0" r="1.25" fill="#16b9c4"/><circle cx="599.6" cy="570.7" r="1.25" fill="#16b9c4"/><circle cx="604.3" cy="573.7" r="1.25" fill="#16b9c4"/><circle cx="596.3" cy="572.7" r="1.25" fill="#16b9c4"/><circle cx="599.3" cy="578.8" r="1.25" fill="#16b9c4"/><circle cx="597.3" cy="571.1" r="1.25" fill="#16b9c4"/><circle cx="598.9" cy="578.8" r="1.25" fill="#16b9c4"/><circle cx="603.1" cy="576.9" r="1.25" fill="#16b9c4"/><circle cx="602.8" cy="576.7" r="1.25" fill="#16b9c4"/><circle cx="600.3" cy="571.1" r="1.25" fill="#16b9c4"/><circle cx="597.3" cy="576.9" r="1.25" fill="#16b9c4"/><circle cx="602.0" cy="571.8" r="1.25" fill="#16b9c4"/><circle cx="597.8" cy="578.1" r="1.25" fill="#16b9c4"/><circle cx="598.4" cy="570.7" r="1.25" fill="#16b9c4"/><circle cx="603.4" cy="574.3" r="1.25" fill="#16b9c4"/><circle cx="597.9" cy="571.0" r="1.25" fill="#16b9c4"/><circle cx="600.0" cy="570.4" r="1.25" fill="#16b9c4"/><circle cx="603.1" cy="576.0" r="1.25" fill="#16b9c4"/><circle cx="600.6" cy="570.6" r="1.25" fill="#16b9c4"/><circle cx="599.7" cy="577.8" r="1.25" fill="#16b9c4"/><circle cx="596.6" cy="573.8" r="1.25" fill="#16b9c4"/><circle cx="600.0" cy="570.8" r="1.25" fill="#16b9c4"/><circle cx="601.2" cy="571.3" r="1.25" fill="#16b9c4"/><circle cx="596.5" cy="574.6" r="1.25" fill="#16b9c4"/><circle cx="600.8" cy="570.7" r="1.25" fill="#16b9c4"/><circle cx="600.4" cy="578.8" r="1.25" fill="#16b9c4"/><circle cx="598.4" cy="571.2" r="1.25" fill="#16b9c4"/><circle cx="602.3" cy="571.6" r="1.25" fill="#16b9c4"/><circle cx="603.5" cy="573.2" r="1.25" fill="#16b9c4"/><circle cx="603.4" cy="574.2" r="1.25" fill="#16b9c4"/><circle cx="599.6" cy="570.9" r="1.25" fill="#16b9c4"/><circle cx="596.4" cy="576.3" r="1.25" fill="#16b9c4"/><circle cx="603.5" cy="575.5" r="1.25" fill="#16b9c4"/><circle cx="603.3" cy="577.0" r="1.25" fill="#16b9c4"/><circle cx="600.7" cy="578.3" r="1.25" fill="#16b9c4"/><circle cx="598.3" cy="577.6" r="1.25" fill="#16b9c4"/><circle cx="603.6" cy="573.0" r="1.25" fill="#16b9c4"/><circle cx="597.6" cy="571.2" r="1.25" fill="#16b9c4"/><circle cx="601.6" cy="571.3" r="1.25" fill="#16b9c4"/><circle cx="603.4" cy="576.3" r="1.25" fill="#16b9c4"/><circle cx="601.6" cy="577.4" r="1.25" fill="#16b9c4"/><circle cx="603.6" cy="572.6" r="1.25" fill="#16b9c4"/><ellipse cx="602" cy="567.5" rx="2.10" ry="2.60" fill="#16b9c4"/><circle cx="600.7" cy="568.5" r="1.25" fill="#16b9c4"/><circle cx="602.1" cy="565.4" r="1.25" fill="#16b9c4"/><circle cx="602.9" cy="569.6" r="1.25" fill="#16b9c4"/><circle cx="603.8" cy="566.8" r="1.25" fill="#16b9c4"/><circle cx="602.8" cy="565.6" r="1.25" fill="#16b9c4"/><circle cx="601.5" cy="569.6" r="1.25" fill="#16b9c4"/><circle cx="603.0" cy="569.3" r="1.25" fill="#16b9c4"/><circle cx="603.3" cy="568.2" r="1.25" fill="#16b9c4"/><circle cx="601.7" cy="565.5" r="1.25" fill="#16b9c4"/><circle cx="601.4" cy="565.4" r="1.25" fill="#16b9c4"/><circle cx="602.9" cy="565.6" r="1.25" fill="#16b9c4"/><circle cx="603.0" cy="565.7" r="1.25" fill="#16b9c4"/><circle cx="603.7" cy="566.5" r="1.25" fill="#16b9c4"/><circle cx="603.5" cy="568.0" r="1.25" fill="#16b9c4"/><circle cx="600.8" cy="568.8" r="1.25" fill="#16b9c4"/><circle cx="602.8" cy="569.6" r="1.25" fill="#16b9c4"/><circle cx="603.5" cy="567.8" r="1.25" fill="#16b9c4"/><circle cx="602.1" cy="565.6" r="1.25" fill="#16b9c4"/><circle cx="601.9" cy="569.9" r="1.25" fill="#16b9c4"/><circle cx="602.1" cy="565.4" r="1.25" fill="#16b9c4"/><circle cx="603.0" cy="569.0" r="1.25" fill="#16b9c4"/><circle cx="603.8" cy="567.2" r="1.25" fill="#16b9c4"/><circle cx="603.6" cy="568.4" r="1.25" fill="#16b9c4"/><circle cx="600.7" cy="569.1" r="1.25" fill="#16b9c4"/><circle cx="601.6" cy="569.3" r="1.25" fill="#16b9c4"/><circle cx="603.6" cy="567.7" r="1.25" fill="#16b9c4"/><circle cx="603.2" cy="565.7" r="1.25" fill="#16b9c4"/><circle cx="601.3" cy="565.4" r="1.25" fill="#16b9c4"/><circle cx="602.5" cy="569.4" r="1.25" fill="#16b9c4"/><circle cx="603.5" cy="566.1" r="1.25" fill="#16b9c4"/><circle cx="600.3" cy="568.3" r="1.25" fill="#16b9c4"/><circle cx="603.7" cy="566.5" r="1.25" fill="#16b9c4"/><circle cx="601.5" cy="569.6" r="1.25" fill="#16b9c4"/><circle cx="600.7" cy="568.8" r="1.25" fill="#16b9c4"/><circle cx="600.5" cy="568.0" r="1.25" fill="#16b9c4"/><circle cx="603.8" cy="567.8" r="1.25" fill="#16b9c4"/><circle cx="601.4" cy="565.3" r="1.25" fill="#16b9c4"/><circle cx="602.9" cy="569.1" r="1.25" fill="#16b9c4"/><circle cx="600.5" cy="566.2" r="1.25" fill="#16b9c4"/><ellipse cx="597" cy="577" rx="2.10" ry="2.10" fill="#16b9c4"/><circle cx="595.5" cy="577.3" r="1.25" fill="#16b9c4"/><circle cx="595.4" cy="575.9" r="1.25" fill="#16b9c4"/><circle cx="598.3" cy="575.6" r="1.25" fill="#16b9c4"/><circle cx="595.7" cy="577.8" r="1.25" fill="#16b9c4"/><circle cx="598.2" cy="575.7" r="1.25" fill="#16b9c4"/><circle cx="598.0" cy="575.7" r="1.25" fill="#16b9c4"/><circle cx="596.7" cy="578.5" r="1.25" fill="#16b9c4"/><circle cx="598.3" cy="575.6" r="1.25" fill="#16b9c4"/><circle cx="595.8" cy="578.4" r="1.25" fill="#16b9c4"/><circle cx="595.8" cy="578.1" r="1.25" fill="#16b9c4"/><circle cx="595.6" cy="576.4" r="1.25" fill="#16b9c4"/><circle cx="596.8" cy="578.5" r="1.25" fill="#16b9c4"/><circle cx="596.9" cy="578.7" r="1.25" fill="#16b9c4"/><circle cx="598.4" cy="578.1" r="1.25" fill="#16b9c4"/><circle cx="597.7" cy="578.5" r="1.25" fill="#16b9c4"/><circle cx="596.1" cy="575.8" r="1.25" fill="#16b9c4"/><circle cx="595.6" cy="577.9" r="1.25" fill="#16b9c4"/><circle cx="595.2" cy="576.4" r="1.25" fill="#16b9c4"/><circle cx="597.3" cy="575.6" r="1.25" fill="#16b9c4"/><circle cx="597.8" cy="575.5" r="1.25" fill="#16b9c4"/><circle cx="596.3" cy="575.6" r="1.25" fill="#16b9c4"/><circle cx="595.3" cy="577.3" r="1.25" fill="#16b9c4"/><circle cx="597.5" cy="575.3" r="1.25" fill="#16b9c4"/><circle cx="597.4" cy="578.8" r="1.25" fill="#16b9c4"/><circle cx="595.4" cy="576.3" r="1.25" fill="#16b9c4"/><circle cx="598.0" cy="575.7" r="1.25" fill="#16b9c4"/><circle cx="598.6" cy="576.1" r="1.25" fill="#16b9c4"/><circle cx="597.6" cy="575.5" r="1.25" fill="#16b9c4"/><circle cx="595.5" cy="576.7" r="1.25" fill="#16b9c4"/><circle cx="597.1" cy="575.2" r="1.25" fill="#16b9c4"/><circle cx="597.9" cy="578.5" r="1.25" fill="#16b9c4"/><circle cx="596.5" cy="575.6" r="1.25" fill="#16b9c4"/><circle cx="598.4" cy="576.2" r="1.25" fill="#16b9c4"/><circle cx="596.8" cy="578.4" r="1.25" fill="#16b9c4"/><circle cx="597.3" cy="575.4" r="1.25" fill="#16b9c4"/><circle cx="595.5" cy="576.9" r="1.25" fill="#16b9c4"/><ellipse cx="555.3" cy="576" rx="3.70" ry="4.50" fill="#ee3d43"/><circle cx="553.0" cy="573.7" r="1.25" fill="#ee3d43"/><circle cx="556.4" cy="572.3" r="1.25" fill="#ee3d43"/><circle cx="554.8" cy="572.6" r="1.25" fill="#ee3d43"/><circle cx="558.4" cy="577.6" r="1.25" fill="#ee3d43"/><circle cx="558.2" cy="574.5" r="1.25" fill="#ee3d43"/><circle cx="558.2" cy="574.1" r="1.25" fill="#ee3d43"/><circle cx="552.9" cy="573.7" r="1.25" fill="#ee3d43"/><circle cx="553.4" cy="579.0" r="1.25" fill="#ee3d43"/><circle cx="555.8" cy="579.6" r="1.25" fill="#ee3d43"/><circle cx="552.7" cy="575.8" r="1.25" fill="#ee3d43"/><circle cx="553.0" cy="578.2" r="1.25" fill="#ee3d43"/><circle cx="553.1" cy="572.9" r="1.25" fill="#ee3d43"/><circle cx="552.9" cy="573.4" r="1.25" fill="#ee3d43"/><circle cx="553.1" cy="573.7" r="1.25" fill="#ee3d43"/><circle cx="552.9" cy="578.9" r="1.25" fill="#ee3d43"/><circle cx="557.9" cy="574.9" r="1.25" fill="#ee3d43"/><circle cx="558.8" cy="576.3" r="1.25" fill="#ee3d43"/><circle cx="557.3" cy="573.0" r="1.25" fill="#ee3d43"/><circle cx="556.6" cy="572.5" r="1.25" fill="#ee3d43"/><circle cx="557.6" cy="574.0" r="1.25" fill="#ee3d43"/><circle cx="552.3" cy="577.4" r="1.25" fill="#ee3d43"/><circle cx="556.0" cy="579.9" r="1.25" fill="#ee3d43"/><circle cx="555.0" cy="580.0" r="1.25" fill="#ee3d43"/><circle cx="556.3" cy="572.5" r="1.25" fill="#ee3d43"/><circle cx="558.5" cy="575.8" r="1.25" fill="#ee3d43"/><circle cx="555.4" cy="572.8" r="1.25" fill="#ee3d43"/><circle cx="557.8" cy="578.6" r="1.25" fill="#ee3d43"/><circle cx="558.3" cy="574.6" r="1.25" fill="#ee3d43"/><circle cx="557.6" cy="574.3" r="1.25" fill="#ee3d43"/><circle cx="557.9" cy="573.4" r="1.25" fill="#ee3d43"/><circle cx="553.2" cy="573.3" r="1.25" fill="#ee3d43"/><circle cx="554.5" cy="572.7" r="1.25" fill="#ee3d43"/><circle cx="553.7" cy="572.5" r="1.25" fill="#ee3d43"/><circle cx="552.5" cy="575.1" r="1.25" fill="#ee3d43"/><circle cx="558.1" cy="576.0" r="1.25" fill="#ee3d43"/><circle cx="556.7" cy="573.0" r="1.25" fill="#ee3d43"/><circle cx="557.8" cy="577.6" r="1.25" fill="#ee3d43"/><circle cx="552.2" cy="575.5" r="1.25" fill="#ee3d43"/><circle cx="557.7" cy="573.1" r="1.25" fill="#ee3d43"/><circle cx="558.6" cy="575.2" r="1.25" fill="#ee3d43"/><circle cx="552.7" cy="577.0" r="1.25" fill="#ee3d43"/><circle cx="558.0" cy="575.0" r="1.25" fill="#ee3d43"/><circle cx="553.2" cy="573.6" r="1.25" fill="#ee3d43"/><circle cx="556.4" cy="572.9" r="1.25" fill="#ee3d43"/><circle cx="552.8" cy="577.7" r="1.25" fill="#ee3d43"/><circle cx="557.3" cy="573.0" r="1.25" fill="#ee3d43"/><circle cx="553.3" cy="573.4" r="1.25" fill="#ee3d43"/><circle cx="556.8" cy="579.7" r="1.25" fill="#ee3d43"/><circle cx="555.6" cy="572.0" r="1.25" fill="#ee3d43"/><circle cx="558.4" cy="575.9" r="1.25" fill="#ee3d43"/><circle cx="556.7" cy="579.5" r="1.25" fill="#ee3d43"/><circle cx="554.6" cy="579.7" r="1.25" fill="#ee3d43"/><circle cx="552.3" cy="577.0" r="1.25" fill="#ee3d43"/><circle cx="558.2" cy="574.1" r="1.25" fill="#ee3d43"/><circle cx="552.4" cy="578.1" r="1.25" fill="#ee3d43"/><circle cx="557.4" cy="572.9" r="1.25" fill="#ee3d43"/><circle cx="552.1" cy="574.7" r="1.25" fill="#ee3d43"/><circle cx="552.6" cy="576.2" r="1.25" fill="#ee3d43"/><circle cx="554.9" cy="579.9" r="1.25" fill="#ee3d43"/><circle cx="553.1" cy="578.5" r="1.25" fill="#ee3d43"/><ellipse cx="558" cy="570.5" rx="1.90" ry="1.90" fill="#ee3d43"/><circle cx="556.9" cy="571.3" r="1.25" fill="#ee3d43"/><circle cx="559.1" cy="571.2" r="1.25" fill="#ee3d43"/><circle cx="557.3" cy="569.3" r="1.25" fill="#ee3d43"/><circle cx="556.4" cy="570.9" r="1.25" fill="#ee3d43"/><circle cx="556.9" cy="569.3" r="1.25" fill="#ee3d43"/><circle cx="558.1" cy="568.8" r="1.25" fill="#ee3d43"/><circle cx="559.3" cy="571.1" r="1.25" fill="#ee3d43"/><circle cx="559.4" cy="570.0" r="1.25" fill="#ee3d43"/><circle cx="559.3" cy="570.1" r="1.25" fill="#ee3d43"/><circle cx="559.5" cy="571.1" r="1.25" fill="#ee3d43"/><circle cx="556.7" cy="571.3" r="1.25" fill="#ee3d43"/><circle cx="559.3" cy="570.0" r="1.25" fill="#ee3d43"/><circle cx="559.4" cy="570.2" r="1.25" fill="#ee3d43"/><circle cx="558.0" cy="571.9" r="1.25" fill="#ee3d43"/><circle cx="556.5" cy="570.3" r="1.25" fill="#ee3d43"/><circle cx="559.0" cy="569.6" r="1.25" fill="#ee3d43"/><circle cx="559.3" cy="570.9" r="1.25" fill="#ee3d43"/><circle cx="556.7" cy="569.5" r="1.25" fill="#ee3d43"/><circle cx="556.5" cy="570.7" r="1.25" fill="#ee3d43"/><circle cx="557.2" cy="569.5" r="1.25" fill="#ee3d43"/><circle cx="558.0" cy="572.2" r="1.25" fill="#ee3d43"/><circle cx="557.2" cy="572.0" r="1.25" fill="#ee3d43"/><circle cx="556.6" cy="570.6" r="1.25" fill="#ee3d43"/><circle cx="559.4" cy="570.5" r="1.25" fill="#ee3d43"/><circle cx="557.4" cy="571.8" r="1.25" fill="#ee3d43"/><circle cx="556.6" cy="571.0" r="1.25" fill="#ee3d43"/><circle cx="556.7" cy="570.7" r="1.25" fill="#ee3d43"/><circle cx="557.8" cy="572.2" r="1.25" fill="#ee3d43"/><circle cx="559.6" cy="570.8" r="1.25" fill="#ee3d43"/><circle cx="556.4" cy="570.7" r="1.25" fill="#ee3d43"/><circle cx="557.3" cy="571.7" r="1.25" fill="#ee3d43"/><circle cx="556.3" cy="570.3" r="1.25" fill="#ee3d43"/><circle cx="557.4" cy="571.7" r="1.25" fill="#ee3d43"/><circle cx="585.6" cy="511.9" r="1.6" fill="#1f5fb0"/><circle cx="578.6" cy="511.3" r="1.5" fill="#ee3d43"/><circle cx="443.4" cy="482.40" r="1.7" fill="#6e6e6e"/><text x="454" y="485.00" font-family="Liberation Sans" font-size="7.3" fill="#333">A</text><circle cx="443.4" cy="491.94" r="1.7" fill="#ee3d43"/><text x="454" y="494.54" font-family="Liberation Sans" font-size="7.3" fill="#333">B</text><circle cx="443.4" cy="501.48" r="1.7" fill="#1f5fb0"/><text x="454" y="504.08" font-family="Liberation Sans" font-size="7.3" fill="#333">C</text><circle cx="443.4" cy="511.02" r="1.7" fill="#189a5a"/><text x="454" y="513.62" font-family="Liberation Sans" font-size="7.3" fill="#333">D</text><circle cx="443.4" cy="520.56" r="1.7" fill="#9a7cc4"/><text x="454" y="523.16" font-family="Liberation Sans" font-size="7.3" fill="#333">E</text><circle cx="443.4" cy="530.10" r="1.7" fill="#c8951d"/><text x="454" y="532.70" font-family="Liberation Sans" font-size="7.3" fill="#333">F</text><circle cx="443.4" cy="539.64" r="1.7" fill="#16b9c4"/><text x="454" y="542.24" font-family="Liberation Sans" font-size="7.3" fill="#333">G</text><circle cx="443.4" cy="549.18" r="1.7" fill="#6b4747"/><text x="454" y="551.78" font-family="Liberation Sans" font-size="7.3" fill="#333">H</text><circle cx="443.4" cy="558.72" r="1.7" fill="#7b7e1c"/><text x="454" y="561.32" font-family="Liberation Sans" font-size="7.3" fill="#333">I</text><circle cx="443.4" cy="568.26" r="1.7" fill="#f26a2a"/><text x="454" y="570.86" font-family="Liberation Sans" font-size="7.3" fill="#333">J</text>
</svg>
</body></html>
